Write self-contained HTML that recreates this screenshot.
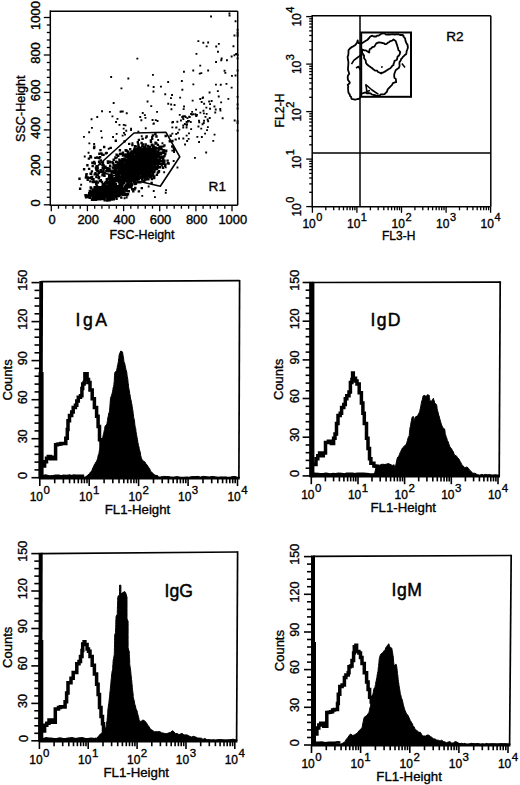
<!DOCTYPE html>
<html><head><meta charset="utf-8"><style>
html,body{margin:0;padding:0;background:#fff;}
svg{display:block;}
text{font-family:"Liberation Sans", sans-serif;fill:#000;stroke:#000;stroke-width:0.35px;}
</style></head><body>
<svg width="520" height="785" viewBox="0 0 520 785" stroke="#000" stroke-linecap="butt">
<rect width="520" height="785" fill="#fff" stroke="none"/>
<g font-family='"Liberation Sans", sans-serif' stroke="#000">
<path d="M104.3 193h2.4v2.4h-2.4zM104 190.4h2.4v2.4h-2.4zM98.6 191.9h2.4v2.4h-2.4zM115 190.5h2.4v2.4h-2.4zM114.3 190.1h2.4v2.4h-2.4zM109.2 190.9h2.4v2.4h-2.4zM93.5 196.4h2.4v2.4h-2.4zM110.3 191.7h2.4v2.4h-2.4zM91.6 188.4h2.4v2.4h-2.4zM98.7 191h2.4v2.4h-2.4zM108.4 190.3h2.4v2.4h-2.4zM109.6 188.1h2.4v2.4h-2.4zM108.7 191.7h2.4v2.4h-2.4zM102 197.5h2.4v2.4h-2.4zM111.2 193.8h2.4v2.4h-2.4zM100.7 189.7h2.4v2.4h-2.4zM103.2 191.2h2.4v2.4h-2.4zM111.1 190.7h2.4v2.4h-2.4zM101.9 188.7h2.4v2.4h-2.4zM102.7 195.7h2.4v2.4h-2.4zM99.8 193.1h2.4v2.4h-2.4zM108.3 185.6h2.4v2.4h-2.4zM107.2 195h2.4v2.4h-2.4zM90 193.3h2.4v2.4h-2.4zM104.6 188.6h2.4v2.4h-2.4zM109.9 190h2.4v2.4h-2.4zM95.1 196h2.4v2.4h-2.4zM111.9 192.8h2.4v2.4h-2.4zM117.5 189.7h2.4v2.4h-2.4zM106.1 186.7h2.4v2.4h-2.4zM110.4 188.1h2.4v2.4h-2.4zM101.6 187.8h2.4v2.4h-2.4zM98.1 190.9h2.4v2.4h-2.4zM114.7 182.5h2.4v2.4h-2.4zM94.8 194.2h2.4v2.4h-2.4zM117.7 190.4h2.4v2.4h-2.4zM89.5 186.3h2.4v2.4h-2.4zM108.3 188.1h2.4v2.4h-2.4zM97.9 195.9h2.4v2.4h-2.4zM114.7 189.7h2.4v2.4h-2.4zM108.2 192h2.4v2.4h-2.4zM118.9 190.3h2.4v2.4h-2.4zM110.4 191.9h2.4v2.4h-2.4zM94.6 197.6h2.4v2.4h-2.4zM113.8 191.1h2.4v2.4h-2.4zM90.1 192.3h2.4v2.4h-2.4zM111.4 183.9h2.4v2.4h-2.4zM105.2 194.5h2.4v2.4h-2.4zM96.8 198.2h2.4v2.4h-2.4zM110.2 189.6h2.4v2.4h-2.4zM109 192.5h2.4v2.4h-2.4zM107.7 194.4h2.4v2.4h-2.4zM100.5 190.8h2.4v2.4h-2.4zM114.2 189.4h2.4v2.4h-2.4zM99.7 195.4h2.4v2.4h-2.4zM117.2 187.2h2.4v2.4h-2.4zM95.1 192.9h2.4v2.4h-2.4zM104.6 190.3h2.4v2.4h-2.4zM116.3 185.4h2.4v2.4h-2.4zM115 184.9h2.4v2.4h-2.4zM100.3 194.3h2.4v2.4h-2.4zM115.4 191.8h2.4v2.4h-2.4zM108.8 190.9h2.4v2.4h-2.4zM107.6 192.5h2.4v2.4h-2.4zM104.8 192.2h2.4v2.4h-2.4zM110.5 190.1h2.4v2.4h-2.4zM112.4 191.5h2.4v2.4h-2.4zM121.9 188.7h2.4v2.4h-2.4zM102.4 190.5h2.4v2.4h-2.4zM106.5 193.9h2.4v2.4h-2.4zM103.6 192.8h2.4v2.4h-2.4zM118.7 179.9h2.4v2.4h-2.4zM97.4 193.6h2.4v2.4h-2.4zM109.3 191.1h2.4v2.4h-2.4zM103.1 193.8h2.4v2.4h-2.4zM107.9 188.9h2.4v2.4h-2.4zM125.3 188.1h2.4v2.4h-2.4zM101.6 191.6h2.4v2.4h-2.4zM104.2 191.2h2.4v2.4h-2.4zM84.3 194h2.4v2.4h-2.4zM113.1 185.7h2.4v2.4h-2.4zM106.1 194.1h2.4v2.4h-2.4zM113.7 194.2h2.4v2.4h-2.4zM92.5 192.7h2.4v2.4h-2.4zM103.7 193.5h2.4v2.4h-2.4zM112.8 180.8h2.4v2.4h-2.4zM113.6 184.7h2.4v2.4h-2.4zM110.4 185.2h2.4v2.4h-2.4zM108.2 194.4h2.4v2.4h-2.4zM105 191.8h2.4v2.4h-2.4zM112.3 190.1h2.4v2.4h-2.4zM106.3 195.9h2.4v2.4h-2.4zM114 188.3h2.4v2.4h-2.4zM126.7 182.8h2.4v2.4h-2.4zM113 188.6h2.4v2.4h-2.4zM107.5 193h2.4v2.4h-2.4zM108.2 192.6h2.4v2.4h-2.4zM93 188.8h2.4v2.4h-2.4zM110.2 187h2.4v2.4h-2.4zM97 188.1h2.4v2.4h-2.4zM116.4 191.2h2.4v2.4h-2.4zM116.9 185.6h2.4v2.4h-2.4zM105.2 187.4h2.4v2.4h-2.4zM113.1 194.7h2.4v2.4h-2.4zM100.1 197.4h2.4v2.4h-2.4zM113.6 188.8h2.4v2.4h-2.4zM91.5 198.7h2.4v2.4h-2.4zM104.8 189.3h2.4v2.4h-2.4zM109.4 191.6h2.4v2.4h-2.4zM117 185.3h2.4v2.4h-2.4zM115.9 193.8h2.4v2.4h-2.4zM117.2 188h2.4v2.4h-2.4zM100.9 195.4h2.4v2.4h-2.4zM107 191.2h2.4v2.4h-2.4zM117 187.8h2.4v2.4h-2.4zM87.8 193.6h2.4v2.4h-2.4zM92 196.6h2.4v2.4h-2.4zM108.1 188.6h2.4v2.4h-2.4zM106.5 193.6h2.4v2.4h-2.4zM107.5 195h2.4v2.4h-2.4zM106.2 194.4h2.4v2.4h-2.4zM118.7 193.6h2.4v2.4h-2.4zM101.3 194.9h2.4v2.4h-2.4zM90.6 190.7h2.4v2.4h-2.4zM91.4 197.6h2.4v2.4h-2.4zM96.4 193h2.4v2.4h-2.4zM104.5 191.2h2.4v2.4h-2.4zM101.5 192.7h2.4v2.4h-2.4zM120 188.2h2.4v2.4h-2.4zM110.8 193.2h2.4v2.4h-2.4zM103.6 187.4h2.4v2.4h-2.4zM102.4 195.3h2.4v2.4h-2.4zM92.7 191.9h2.4v2.4h-2.4zM114.4 191.8h2.4v2.4h-2.4zM106.6 193.5h2.4v2.4h-2.4zM106.5 187h2.4v2.4h-2.4zM93.3 191.6h2.4v2.4h-2.4zM112.8 187.7h2.4v2.4h-2.4zM98.4 190.1h2.4v2.4h-2.4zM93.9 193.2h2.4v2.4h-2.4zM97 194.1h2.4v2.4h-2.4zM87.7 196h2.4v2.4h-2.4zM99.7 186h2.4v2.4h-2.4zM111.5 188.9h2.4v2.4h-2.4zM88 192h2.4v2.4h-2.4zM108 189.1h2.4v2.4h-2.4zM112.6 192h2.4v2.4h-2.4zM111.4 190.9h2.4v2.4h-2.4zM116.9 190.8h2.4v2.4h-2.4zM108.1 183.7h2.4v2.4h-2.4zM113.9 193.6h2.4v2.4h-2.4zM103.4 190h2.4v2.4h-2.4zM120 182.3h2.4v2.4h-2.4zM111.3 197.8h2.4v2.4h-2.4zM99.2 194.7h2.4v2.4h-2.4zM120.7 187.5h2.4v2.4h-2.4zM111 192.9h2.4v2.4h-2.4zM98.9 192.2h2.4v2.4h-2.4zM108.8 193.1h2.4v2.4h-2.4zM105.6 190.4h2.4v2.4h-2.4zM97.8 191.6h2.4v2.4h-2.4zM113 189.8h2.4v2.4h-2.4zM98.8 189.8h2.4v2.4h-2.4zM127.6 190.1h2.4v2.4h-2.4zM109.3 181.8h2.4v2.4h-2.4zM111.2 191.5h2.4v2.4h-2.4zM119.5 189.5h2.4v2.4h-2.4zM105.8 192.7h2.4v2.4h-2.4zM91.5 197.5h2.4v2.4h-2.4zM108.1 188.3h2.4v2.4h-2.4zM117.6 194.5h2.4v2.4h-2.4zM94.6 191.2h2.4v2.4h-2.4zM108.4 191.1h2.4v2.4h-2.4zM102.2 188.6h2.4v2.4h-2.4zM123.3 190.7h2.4v2.4h-2.4zM95.8 188.8h2.4v2.4h-2.4zM120 191.3h2.4v2.4h-2.4zM120.8 190.5h2.4v2.4h-2.4zM99.3 193.3h2.4v2.4h-2.4zM88.6 192.3h2.4v2.4h-2.4zM105.9 192.7h2.4v2.4h-2.4zM100.2 191.8h2.4v2.4h-2.4zM109.8 191.4h2.4v2.4h-2.4zM111.1 190.6h2.4v2.4h-2.4zM104 194h2.4v2.4h-2.4zM105.8 188.3h2.4v2.4h-2.4zM101.1 192h2.4v2.4h-2.4zM105.2 191.7h2.4v2.4h-2.4zM106.1 191.6h2.4v2.4h-2.4zM104.1 187.3h2.4v2.4h-2.4zM110 193.6h2.4v2.4h-2.4zM109.3 189.7h2.4v2.4h-2.4zM108.9 187.2h2.4v2.4h-2.4zM91.2 194.3h2.4v2.4h-2.4zM99.2 194.9h2.4v2.4h-2.4zM95.8 184.6h2.4v2.4h-2.4zM98.9 197.7h2.4v2.4h-2.4zM102.1 187.3h2.4v2.4h-2.4zM100.4 193.9h2.4v2.4h-2.4zM110 190.7h2.4v2.4h-2.4zM118.1 190.7h2.4v2.4h-2.4zM106.2 192.9h2.4v2.4h-2.4zM119.6 191.3h2.4v2.4h-2.4zM113.3 185.9h2.4v2.4h-2.4zM105.3 193.5h2.4v2.4h-2.4zM104.4 194.8h2.4v2.4h-2.4zM111.3 192.9h2.4v2.4h-2.4zM106 199.3h2.4v2.4h-2.4zM115.6 188.3h2.4v2.4h-2.4zM108.4 199h2.4v2.4h-2.4zM103.9 194.3h2.4v2.4h-2.4zM113.7 189.4h2.4v2.4h-2.4zM97 193.5h2.4v2.4h-2.4zM109.6 193.9h2.4v2.4h-2.4zM112.1 189.8h2.4v2.4h-2.4zM113 191.3h2.4v2.4h-2.4zM107.6 190.8h2.4v2.4h-2.4zM104.6 193.6h2.4v2.4h-2.4zM97.3 190.8h2.4v2.4h-2.4zM105.1 186.4h2.4v2.4h-2.4zM101.3 185.4h2.4v2.4h-2.4zM101 193.9h2.4v2.4h-2.4zM110.4 189.9h2.4v2.4h-2.4zM103.2 187h2.4v2.4h-2.4zM120.6 189.6h2.4v2.4h-2.4zM114 186.4h2.4v2.4h-2.4zM103.3 185.6h2.4v2.4h-2.4zM112.7 192.6h2.4v2.4h-2.4zM91.1 194h2.4v2.4h-2.4zM109.8 184.4h2.4v2.4h-2.4zM91 190.7h2.4v2.4h-2.4zM100.1 187.7h2.4v2.4h-2.4zM106.4 191.7h2.4v2.4h-2.4zM111.4 192.1h2.4v2.4h-2.4zM118.5 192.1h2.4v2.4h-2.4zM95.4 191.6h2.4v2.4h-2.4zM97 189.4h2.4v2.4h-2.4zM105.4 191.2h2.4v2.4h-2.4zM108.8 185.2h2.4v2.4h-2.4zM96.3 193h2.4v2.4h-2.4zM104.2 190.4h2.4v2.4h-2.4zM105 188.7h2.4v2.4h-2.4zM111.7 190.9h2.4v2.4h-2.4zM104.9 189h2.4v2.4h-2.4zM102.8 182.8h2.4v2.4h-2.4zM98.3 192.7h2.4v2.4h-2.4zM94.4 194.1h2.4v2.4h-2.4zM106.2 186.4h2.4v2.4h-2.4zM103.8 190.4h2.4v2.4h-2.4zM110 192.2h2.4v2.4h-2.4zM105.1 188.4h2.4v2.4h-2.4zM104.8 191h2.4v2.4h-2.4zM111.9 190.7h2.4v2.4h-2.4zM99.4 188h2.4v2.4h-2.4zM102.6 189.3h2.4v2.4h-2.4zM97.2 192.5h2.4v2.4h-2.4zM102.2 192.1h2.4v2.4h-2.4zM109.8 188.8h2.4v2.4h-2.4zM124 186.1h2.4v2.4h-2.4zM114.7 189.5h2.4v2.4h-2.4zM113.2 181.7h2.4v2.4h-2.4zM100.3 193h2.4v2.4h-2.4zM112.3 197.3h2.4v2.4h-2.4zM109.4 194.5h2.4v2.4h-2.4zM112.6 192.7h2.4v2.4h-2.4zM109.9 189.7h2.4v2.4h-2.4zM109.3 186.8h2.4v2.4h-2.4zM114.6 185.9h2.4v2.4h-2.4zM109.4 197.2h2.4v2.4h-2.4zM104.3 191.4h2.4v2.4h-2.4zM115.1 189.1h2.4v2.4h-2.4zM99.9 193.2h2.4v2.4h-2.4zM111 192.3h2.4v2.4h-2.4zM101.1 197.8h2.4v2.4h-2.4zM119.1 188.3h2.4v2.4h-2.4zM107.8 189.2h2.4v2.4h-2.4zM116.6 186.4h2.4v2.4h-2.4zM111 188.4h2.4v2.4h-2.4zM101 194.4h2.4v2.4h-2.4zM116.4 188.7h2.4v2.4h-2.4zM101.2 194.7h2.4v2.4h-2.4zM105.8 192.1h2.4v2.4h-2.4zM118.7 192h2.4v2.4h-2.4zM103.5 199h2.4v2.4h-2.4zM106.5 193.5h2.4v2.4h-2.4zM100.9 191.9h2.4v2.4h-2.4zM115.9 184.9h2.4v2.4h-2.4zM93.1 188.4h2.4v2.4h-2.4zM114.9 187.6h2.4v2.4h-2.4zM105.3 190.1h2.4v2.4h-2.4zM104.3 187.8h2.4v2.4h-2.4zM105.2 186.5h2.4v2.4h-2.4zM105.6 192.1h2.4v2.4h-2.4zM109.5 189.5h2.4v2.4h-2.4zM99 193h2.4v2.4h-2.4zM103.2 196.7h2.4v2.4h-2.4zM111.9 189.4h2.4v2.4h-2.4zM101.8 189.6h2.4v2.4h-2.4zM98.4 191.5h2.4v2.4h-2.4zM108.6 192.1h2.4v2.4h-2.4zM111.8 196.6h2.4v2.4h-2.4zM100.5 192.2h2.4v2.4h-2.4zM126.6 180.5h2.4v2.4h-2.4zM102 192.4h2.4v2.4h-2.4zM107.5 192h2.4v2.4h-2.4zM104.4 192.5h2.4v2.4h-2.4zM106.9 193.3h2.4v2.4h-2.4zM90.6 191.4h2.4v2.4h-2.4zM105.3 187.8h2.4v2.4h-2.4zM98.2 194.7h2.4v2.4h-2.4zM101.3 194.1h2.4v2.4h-2.4zM112 190.7h2.4v2.4h-2.4zM109.9 189.8h2.4v2.4h-2.4zM95 193.2h2.4v2.4h-2.4zM109.2 188.6h2.4v2.4h-2.4zM105.7 193.5h2.4v2.4h-2.4zM99.6 194.5h2.4v2.4h-2.4zM120.2 186.2h2.4v2.4h-2.4zM107 190.3h2.4v2.4h-2.4zM118.3 189.4h2.4v2.4h-2.4zM112.6 187.3h2.4v2.4h-2.4zM105.9 191h2.4v2.4h-2.4zM93.1 198.5h2.4v2.4h-2.4zM111.9 184h2.4v2.4h-2.4zM111.7 189.4h2.4v2.4h-2.4zM109.8 191.4h2.4v2.4h-2.4zM94.1 192.8h2.4v2.4h-2.4zM117.3 186.7h2.4v2.4h-2.4zM97.1 188.4h2.4v2.4h-2.4zM96.7 194.1h2.4v2.4h-2.4zM119.5 189.5h2.4v2.4h-2.4zM109.4 197.6h2.4v2.4h-2.4zM101.5 189.8h2.4v2.4h-2.4zM110.5 191.8h2.4v2.4h-2.4zM97.3 189h2.4v2.4h-2.4zM108.4 191.3h2.4v2.4h-2.4zM95.6 192.5h2.4v2.4h-2.4zM102.1 193.3h2.4v2.4h-2.4zM105 190.9h2.4v2.4h-2.4zM103.9 194.9h2.4v2.4h-2.4zM116.6 187.5h2.4v2.4h-2.4zM112.1 187.2h2.4v2.4h-2.4zM107.1 193.2h2.4v2.4h-2.4zM117.6 187.3h2.4v2.4h-2.4zM105.6 191.7h2.4v2.4h-2.4zM94.3 193.5h2.4v2.4h-2.4zM101 193.3h2.4v2.4h-2.4zM95.8 186.7h2.4v2.4h-2.4zM106.5 191.8h2.4v2.4h-2.4zM102.3 194.7h2.4v2.4h-2.4zM103.5 189.6h2.4v2.4h-2.4zM108.7 185.3h2.4v2.4h-2.4zM100.7 192.1h2.4v2.4h-2.4zM112.5 189.1h2.4v2.4h-2.4zM108 188.4h2.4v2.4h-2.4zM109.5 195.7h2.4v2.4h-2.4zM101 192.1h2.4v2.4h-2.4zM108 193.9h2.4v2.4h-2.4zM94.9 186.5h2.4v2.4h-2.4zM111.3 192.5h2.4v2.4h-2.4zM112.6 198.2h2.4v2.4h-2.4zM107.8 191.5h2.4v2.4h-2.4zM113.5 190.6h2.4v2.4h-2.4zM118.2 184.4h2.4v2.4h-2.4zM100.8 180.8h2.4v2.4h-2.4zM112.1 188.5h2.4v2.4h-2.4zM114.7 196.2h2.4v2.4h-2.4zM105.8 190.2h2.4v2.4h-2.4zM101.5 189.2h2.4v2.4h-2.4zM101.5 194h2.4v2.4h-2.4zM106.3 191.1h2.4v2.4h-2.4zM105.3 194.2h2.4v2.4h-2.4zM109.8 189.7h2.4v2.4h-2.4zM111.1 189.4h2.4v2.4h-2.4zM97.9 197.5h2.4v2.4h-2.4zM109 187.2h2.4v2.4h-2.4zM114.7 190.3h2.4v2.4h-2.4zM94.8 198.6h2.4v2.4h-2.4zM109.2 193.2h2.4v2.4h-2.4zM107.4 190.2h2.4v2.4h-2.4zM94.5 196.6h2.4v2.4h-2.4zM106 190.1h2.4v2.4h-2.4zM108.8 190.7h2.4v2.4h-2.4zM111 188.7h2.4v2.4h-2.4zM104.3 184.4h2.4v2.4h-2.4zM103.1 193.8h2.4v2.4h-2.4zM116.2 187.6h2.4v2.4h-2.4zM106.1 196.2h2.4v2.4h-2.4zM103.9 193.8h2.4v2.4h-2.4zM119.2 188.3h2.4v2.4h-2.4zM115.1 186.7h2.4v2.4h-2.4zM107.6 190.4h2.4v2.4h-2.4zM107.7 194.3h2.4v2.4h-2.4zM124.3 184.9h2.4v2.4h-2.4zM101.8 193.5h2.4v2.4h-2.4zM98.1 194.3h2.4v2.4h-2.4zM110.3 189.2h2.4v2.4h-2.4zM109.1 185.3h2.4v2.4h-2.4zM110.9 184.9h2.4v2.4h-2.4zM100.2 190.4h2.4v2.4h-2.4zM103.4 194.4h2.4v2.4h-2.4zM106.4 189.6h2.4v2.4h-2.4zM111.3 195h2.4v2.4h-2.4zM106.3 192.1h2.4v2.4h-2.4zM115.9 189.8h2.4v2.4h-2.4zM122 181.1h2.4v2.4h-2.4zM106 192.4h2.4v2.4h-2.4zM114 191.5h2.4v2.4h-2.4zM103.2 188.2h2.4v2.4h-2.4zM107.5 194.1h2.4v2.4h-2.4zM96.8 189.6h2.4v2.4h-2.4zM104.5 185h2.4v2.4h-2.4zM103.7 190.1h2.4v2.4h-2.4zM109.1 188.1h2.4v2.4h-2.4zM98.8 191.2h2.4v2.4h-2.4zM105.2 189h2.4v2.4h-2.4zM106.6 193.3h2.4v2.4h-2.4zM116.4 194.4h2.4v2.4h-2.4zM99.6 191h2.4v2.4h-2.4zM100.3 192.1h2.4v2.4h-2.4zM109.2 185.9h2.4v2.4h-2.4zM109.6 190.1h2.4v2.4h-2.4zM91.9 195h2.4v2.4h-2.4zM114.1 183.2h2.4v2.4h-2.4zM112.5 190.3h2.4v2.4h-2.4zM110 191.6h2.4v2.4h-2.4zM116.1 188.1h2.4v2.4h-2.4zM112.6 188.3h2.4v2.4h-2.4zM111.2 187.2h2.4v2.4h-2.4zM106.3 196.6h2.4v2.4h-2.4zM109.4 189.8h2.4v2.4h-2.4zM96.5 190.4h2.4v2.4h-2.4zM108.1 193.6h2.4v2.4h-2.4zM109.7 191.9h2.4v2.4h-2.4zM106.6 195.3h2.4v2.4h-2.4zM102.6 189.9h2.4v2.4h-2.4zM113 189.7h2.4v2.4h-2.4zM103.4 189.7h2.4v2.4h-2.4zM104.4 193.4h2.4v2.4h-2.4zM108 186.6h2.4v2.4h-2.4zM109.5 190.9h2.4v2.4h-2.4zM98.7 195.1h2.4v2.4h-2.4zM103.6 190.4h2.4v2.4h-2.4zM113.1 193.8h2.4v2.4h-2.4zM100.9 193.5h2.4v2.4h-2.4zM102.9 195.6h2.4v2.4h-2.4zM101.5 194.6h2.4v2.4h-2.4zM121.7 179.4h2.4v2.4h-2.4zM102.9 193.3h2.4v2.4h-2.4zM104.8 189.1h2.4v2.4h-2.4zM122.9 187.7h2.4v2.4h-2.4zM93.7 196.4h2.4v2.4h-2.4zM93.3 197.5h2.4v2.4h-2.4zM101.6 192.4h2.4v2.4h-2.4zM115.9 189.3h2.4v2.4h-2.4zM94 188h2.4v2.4h-2.4zM115.7 191.4h2.4v2.4h-2.4zM100.2 195h2.4v2.4h-2.4zM110.3 192.2h2.4v2.4h-2.4zM88.1 193.8h2.4v2.4h-2.4zM113.5 191.8h2.4v2.4h-2.4zM111.3 181.8h2.4v2.4h-2.4zM107.7 192.3h2.4v2.4h-2.4zM125.3 183.8h2.4v2.4h-2.4zM103.4 191.7h2.4v2.4h-2.4zM112.6 188.1h2.4v2.4h-2.4zM114.5 186.6h2.4v2.4h-2.4zM107.7 188.9h2.4v2.4h-2.4zM106.8 188.6h2.4v2.4h-2.4zM94.2 197.1h2.4v2.4h-2.4zM108 188.7h2.4v2.4h-2.4zM108.2 193.8h2.4v2.4h-2.4zM98.3 192.3h2.4v2.4h-2.4zM110.6 191.8h2.4v2.4h-2.4zM102 185h2.4v2.4h-2.4zM115.9 190h2.4v2.4h-2.4zM105.9 190.1h2.4v2.4h-2.4zM107.8 189.2h2.4v2.4h-2.4zM97.5 190.4h2.4v2.4h-2.4zM100.9 190.1h2.4v2.4h-2.4zM97.4 194.9h2.4v2.4h-2.4zM96.2 195.2h2.4v2.4h-2.4zM98.3 193.8h2.4v2.4h-2.4zM116.9 189.4h2.4v2.4h-2.4zM100.3 192.4h2.4v2.4h-2.4zM106 185.3h2.4v2.4h-2.4zM101.4 192.5h2.4v2.4h-2.4zM102.4 192h2.4v2.4h-2.4zM112.3 192.2h2.4v2.4h-2.4zM113.5 191.3h2.4v2.4h-2.4zM103.7 191.4h2.4v2.4h-2.4zM103.7 190.5h2.4v2.4h-2.4zM103.4 185.9h2.4v2.4h-2.4zM103.4 191.5h2.4v2.4h-2.4zM98.4 192.5h2.4v2.4h-2.4zM109.9 189.6h2.4v2.4h-2.4zM120.5 179.4h2.4v2.4h-2.4zM103.2 185.6h2.4v2.4h-2.4zM115.4 197.7h2.4v2.4h-2.4zM86.5 195.6h2.4v2.4h-2.4zM109.9 189.2h2.4v2.4h-2.4zM108.8 183.1h2.4v2.4h-2.4zM112.9 190.7h2.4v2.4h-2.4zM105.8 189.1h2.4v2.4h-2.4zM110.7 188.4h2.4v2.4h-2.4zM107.4 189h2.4v2.4h-2.4zM88.4 194.6h2.4v2.4h-2.4zM108.1 193h2.4v2.4h-2.4zM99.1 192.4h2.4v2.4h-2.4zM110.9 190.4h2.4v2.4h-2.4zM117 195.2h2.4v2.4h-2.4zM97.6 186.5h2.4v2.4h-2.4zM113.7 194.4h2.4v2.4h-2.4zM113.8 192h2.4v2.4h-2.4zM100.7 189.8h2.4v2.4h-2.4zM112.3 186.7h2.4v2.4h-2.4zM91.1 190.9h2.4v2.4h-2.4zM126.8 192.9h2.4v2.4h-2.4zM100.1 189.9h2.4v2.4h-2.4zM107.3 188.3h2.4v2.4h-2.4zM116.2 188.6h2.4v2.4h-2.4zM98.4 196.9h2.4v2.4h-2.4zM101.6 192.7h2.4v2.4h-2.4zM105.7 190h2.4v2.4h-2.4zM108.1 188.3h2.4v2.4h-2.4zM90.1 187.2h2.4v2.4h-2.4zM95.6 190.7h2.4v2.4h-2.4zM105.9 191.2h2.4v2.4h-2.4zM110.4 190.5h2.4v2.4h-2.4zM99.3 190.1h2.4v2.4h-2.4zM89.3 194h2.4v2.4h-2.4zM110.1 191.9h2.4v2.4h-2.4zM104.9 190.7h2.4v2.4h-2.4zM113.3 189.5h2.4v2.4h-2.4zM112.2 191.6h2.4v2.4h-2.4zM108.5 194.7h2.4v2.4h-2.4zM101.3 190.8h2.4v2.4h-2.4zM99.1 189.8h2.4v2.4h-2.4zM119.3 193.9h2.4v2.4h-2.4zM106.6 192.7h2.4v2.4h-2.4zM115.7 191.6h2.4v2.4h-2.4zM114.6 185h2.4v2.4h-2.4zM101.3 193.5h2.4v2.4h-2.4zM117.3 188.9h2.4v2.4h-2.4zM99 191.3h2.4v2.4h-2.4zM100.3 189.4h2.4v2.4h-2.4zM117.3 186.5h2.4v2.4h-2.4zM107.6 197.7h2.4v2.4h-2.4zM115.5 190.1h2.4v2.4h-2.4zM101.5 193.3h2.4v2.4h-2.4zM119.1 190.3h2.4v2.4h-2.4zM115.9 189.2h2.4v2.4h-2.4zM109.9 189.5h2.4v2.4h-2.4zM110.2 194.4h2.4v2.4h-2.4zM94.8 193.2h2.4v2.4h-2.4zM107.5 188.8h2.4v2.4h-2.4zM104.1 194h2.4v2.4h-2.4zM122.1 189.6h2.4v2.4h-2.4zM107.5 185.6h2.4v2.4h-2.4zM121.1 188h2.4v2.4h-2.4zM105 187.6h2.4v2.4h-2.4zM104.8 187.7h2.4v2.4h-2.4zM106.9 192.3h2.4v2.4h-2.4zM106.4 191.8h2.4v2.4h-2.4zM100.3 196.9h2.4v2.4h-2.4zM99.7 186.4h2.4v2.4h-2.4zM104 188.9h2.4v2.4h-2.4zM97.9 191.6h2.4v2.4h-2.4zM107.5 186.8h2.4v2.4h-2.4zM105.9 195.7h2.4v2.4h-2.4zM111.2 189.4h2.4v2.4h-2.4zM106.9 190.4h2.4v2.4h-2.4zM106.1 193.4h2.4v2.4h-2.4zM103.7 183.6h2.4v2.4h-2.4zM105.2 188.3h2.4v2.4h-2.4zM110.7 188h2.4v2.4h-2.4zM108.6 197.6h2.4v2.4h-2.4zM97.1 189.2h2.4v2.4h-2.4zM93.4 185.9h2.4v2.4h-2.4zM91.5 195.3h2.4v2.4h-2.4zM99.8 186.2h2.4v2.4h-2.4zM94.8 195.4h2.4v2.4h-2.4zM99.7 191.1h2.4v2.4h-2.4zM109.5 194.7h2.4v2.4h-2.4zM121.9 191h2.4v2.4h-2.4zM107.2 191.3h2.4v2.4h-2.4zM121.1 192.5h2.4v2.4h-2.4zM103.9 192.9h2.4v2.4h-2.4zM108.3 190.7h2.4v2.4h-2.4zM101.2 187.7h2.4v2.4h-2.4zM100.8 187.1h2.4v2.4h-2.4zM115.9 190.6h2.4v2.4h-2.4zM97.5 197.4h2.4v2.4h-2.4zM111.7 183.5h2.4v2.4h-2.4zM120.9 190.5h2.4v2.4h-2.4zM121.3 183.7h2.4v2.4h-2.4zM110.4 191.4h2.4v2.4h-2.4zM107.7 191.2h2.4v2.4h-2.4zM113.2 184.6h2.4v2.4h-2.4zM95.4 188.7h2.4v2.4h-2.4zM101.2 190h2.4v2.4h-2.4zM109.1 191.2h2.4v2.4h-2.4zM105.8 188.8h2.4v2.4h-2.4zM103.2 194.7h2.4v2.4h-2.4zM112 190h2.4v2.4h-2.4zM104.5 196.4h2.4v2.4h-2.4zM101.8 194h2.4v2.4h-2.4zM114.9 188.3h2.4v2.4h-2.4zM111.7 186.1h2.4v2.4h-2.4zM114.1 189.9h2.4v2.4h-2.4zM94 195.7h2.4v2.4h-2.4zM99.9 196.5h2.4v2.4h-2.4zM100.6 191.6h2.4v2.4h-2.4zM108 189.5h2.4v2.4h-2.4zM107.7 188.8h2.4v2.4h-2.4zM111.3 189.9h2.4v2.4h-2.4zM105.8 182h2.4v2.4h-2.4zM115.1 189.2h2.4v2.4h-2.4zM92.1 194.3h2.4v2.4h-2.4zM110.4 193.6h2.4v2.4h-2.4zM98.6 197.6h2.4v2.4h-2.4zM106.3 198.8h2.4v2.4h-2.4zM105.3 193.4h2.4v2.4h-2.4zM102.4 188.1h2.4v2.4h-2.4zM115.2 192h2.4v2.4h-2.4zM118.6 191.1h2.4v2.4h-2.4zM100.4 186.7h2.4v2.4h-2.4zM100.5 190h2.4v2.4h-2.4zM100 194.2h2.4v2.4h-2.4zM108.4 189.6h2.4v2.4h-2.4zM107.3 190.3h2.4v2.4h-2.4zM108.2 193h2.4v2.4h-2.4zM113.1 187.3h2.4v2.4h-2.4zM95.2 198h2.4v2.4h-2.4zM107.6 194.3h2.4v2.4h-2.4zM92.9 192.7h2.4v2.4h-2.4zM105.3 186.4h2.4v2.4h-2.4zM102.4 194.1h2.4v2.4h-2.4zM115.5 194.2h2.4v2.4h-2.4zM98.3 188.1h2.4v2.4h-2.4zM110.7 193.1h2.4v2.4h-2.4zM106.6 186.6h2.4v2.4h-2.4zM112.6 192.2h2.4v2.4h-2.4zM110 188.6h2.4v2.4h-2.4zM108.9 193h2.4v2.4h-2.4zM100.4 186.2h2.4v2.4h-2.4zM108.9 192h2.4v2.4h-2.4zM106.7 193.8h2.4v2.4h-2.4zM101.4 191.7h2.4v2.4h-2.4zM104 193.3h2.4v2.4h-2.4zM118.3 187.6h2.4v2.4h-2.4zM123.1 192.4h2.4v2.4h-2.4zM112.6 191.5h2.4v2.4h-2.4zM119.7 187.5h2.4v2.4h-2.4zM104.4 187.9h2.4v2.4h-2.4zM110.6 194.4h2.4v2.4h-2.4zM110.4 191.4h2.4v2.4h-2.4zM104.5 191.9h2.4v2.4h-2.4zM95.5 196.7h2.4v2.4h-2.4zM102.1 188.2h2.4v2.4h-2.4zM99.6 189.7h2.4v2.4h-2.4zM113.4 192.9h2.4v2.4h-2.4zM96 196.2h2.4v2.4h-2.4zM112.6 187.7h2.4v2.4h-2.4zM93.9 191.1h2.4v2.4h-2.4zM101.3 193.1h2.4v2.4h-2.4zM101.9 185.2h2.4v2.4h-2.4zM106.8 185.8h2.4v2.4h-2.4zM112.3 185.7h2.4v2.4h-2.4zM100 189.5h2.4v2.4h-2.4zM102.6 196h2.4v2.4h-2.4zM113.1 191.5h2.4v2.4h-2.4zM107.5 185.6h2.4v2.4h-2.4zM101.6 190.1h2.4v2.4h-2.4zM98.7 194.2h2.4v2.4h-2.4zM99.7 190h2.4v2.4h-2.4zM96.5 186.3h2.4v2.4h-2.4zM111.5 194.2h2.4v2.4h-2.4zM106.7 187.7h2.4v2.4h-2.4zM84.9 196h2.4v2.4h-2.4zM115.7 189.9h2.4v2.4h-2.4zM114.2 194.1h2.4v2.4h-2.4zM114.5 187.7h2.4v2.4h-2.4zM114.8 191.7h2.4v2.4h-2.4zM93.7 192.3h2.4v2.4h-2.4zM94.8 193h2.4v2.4h-2.4zM109.8 186.7h2.4v2.4h-2.4zM90.8 198.5h2.4v2.4h-2.4zM109.9 195h2.4v2.4h-2.4zM96.3 196.5h2.4v2.4h-2.4zM123.6 193.8h2.4v2.4h-2.4zM104.5 192.2h2.4v2.4h-2.4zM105.5 194.4h2.4v2.4h-2.4zM114.2 189.5h2.4v2.4h-2.4zM95.9 195.6h2.4v2.4h-2.4zM102.7 193.7h2.4v2.4h-2.4zM109.1 195.6h2.4v2.4h-2.4zM114.6 187.7h2.4v2.4h-2.4zM109.9 195.9h2.4v2.4h-2.4zM102.1 193.3h2.4v2.4h-2.4zM116.2 193h2.4v2.4h-2.4zM109.2 186h2.4v2.4h-2.4zM96.3 193.9h2.4v2.4h-2.4zM110.7 198.3h2.4v2.4h-2.4zM100 196h2.4v2.4h-2.4zM110.9 184.5h2.4v2.4h-2.4zM99.7 192.9h2.4v2.4h-2.4zM102 191.3h2.4v2.4h-2.4zM109.1 187.7h2.4v2.4h-2.4zM109.2 188.2h2.4v2.4h-2.4zM102.1 193.6h2.4v2.4h-2.4zM101.7 192.9h2.4v2.4h-2.4zM118.5 188.4h2.4v2.4h-2.4zM105.3 193.5h2.4v2.4h-2.4zM103.9 195h2.4v2.4h-2.4zM96.4 195.1h2.4v2.4h-2.4zM101.5 189.4h2.4v2.4h-2.4zM119.3 185.4h2.4v2.4h-2.4zM120.2 190.1h2.4v2.4h-2.4zM116.7 185.5h2.4v2.4h-2.4zM116.4 193.6h2.4v2.4h-2.4zM105 190.8h2.4v2.4h-2.4zM125.3 187.5h2.4v2.4h-2.4zM102.3 189.7h2.4v2.4h-2.4zM109.7 191.3h2.4v2.4h-2.4zM108.5 196.1h2.4v2.4h-2.4zM103.7 193h2.4v2.4h-2.4zM116.8 185.4h2.4v2.4h-2.4zM115.3 195h2.4v2.4h-2.4zM94.7 189.8h2.4v2.4h-2.4zM96.6 186.9h2.4v2.4h-2.4zM108.3 184.4h2.4v2.4h-2.4zM110.9 194.7h2.4v2.4h-2.4zM93.2 192.7h2.4v2.4h-2.4zM91.5 196.6h2.4v2.4h-2.4zM100.1 191.4h2.4v2.4h-2.4zM106.8 192.6h2.4v2.4h-2.4zM103.3 191.6h2.4v2.4h-2.4zM101.8 192.3h2.4v2.4h-2.4zM96.9 193.1h2.4v2.4h-2.4zM90.6 192.7h2.4v2.4h-2.4zM121 188.1h2.4v2.4h-2.4zM96.3 193.9h2.4v2.4h-2.4zM97.3 187.4h2.4v2.4h-2.4zM100.7 194.5h2.4v2.4h-2.4zM108.9 190.1h2.4v2.4h-2.4zM98 189.2h2.4v2.4h-2.4zM116.7 189.5h2.4v2.4h-2.4zM97.1 186h2.4v2.4h-2.4zM97 192.7h2.4v2.4h-2.4zM107.5 190.2h2.4v2.4h-2.4zM102.9 187.2h2.4v2.4h-2.4zM98.9 198h2.4v2.4h-2.4zM100.6 194.9h2.4v2.4h-2.4zM92.6 193h2.4v2.4h-2.4zM108.7 193.8h2.4v2.4h-2.4zM97.6 194.7h2.4v2.4h-2.4zM108.5 188h2.4v2.4h-2.4zM109.1 187.4h2.4v2.4h-2.4zM99.8 192.3h2.4v2.4h-2.4zM84.7 195.2h2.4v2.4h-2.4zM97.2 188.1h2.4v2.4h-2.4zM103.2 194.1h2.4v2.4h-2.4zM103.7 195.6h2.4v2.4h-2.4zM96.1 188.8h2.4v2.4h-2.4zM118.4 189.7h2.4v2.4h-2.4zM112.8 186.8h2.4v2.4h-2.4zM112.5 190.5h2.4v2.4h-2.4zM111.1 190h2.4v2.4h-2.4zM115 187h2.4v2.4h-2.4zM97.5 188h2.4v2.4h-2.4zM114.6 186.8h2.4v2.4h-2.4zM97.2 189.8h2.4v2.4h-2.4zM101.7 187.8h2.4v2.4h-2.4zM103.3 189.5h2.4v2.4h-2.4zM101 188.9h2.4v2.4h-2.4zM106 189.5h2.4v2.4h-2.4zM107.1 191.6h2.4v2.4h-2.4zM107.2 183.6h2.4v2.4h-2.4zM101.3 189.4h2.4v2.4h-2.4zM111 184.8h2.4v2.4h-2.4zM100.2 191.3h2.4v2.4h-2.4zM104 194.7h2.4v2.4h-2.4zM103.2 194.8h2.4v2.4h-2.4zM93.3 187.8h2.4v2.4h-2.4zM115.8 190.3h2.4v2.4h-2.4zM109.9 190.6h2.4v2.4h-2.4zM109 186.4h2.4v2.4h-2.4zM113.1 187.8h2.4v2.4h-2.4zM113.8 189.6h2.4v2.4h-2.4zM89.7 190.3h2.4v2.4h-2.4zM114.7 188.7h2.4v2.4h-2.4zM103.1 192.4h2.4v2.4h-2.4zM102.3 190h2.4v2.4h-2.4zM106.9 191.3h2.4v2.4h-2.4zM117.9 188.6h2.4v2.4h-2.4zM121.9 193.5h2.4v2.4h-2.4zM120.1 191.5h2.4v2.4h-2.4zM107.1 191.2h2.4v2.4h-2.4zM104.4 188.9h2.4v2.4h-2.4zM105.1 189.1h2.4v2.4h-2.4zM119.2 189.9h2.4v2.4h-2.4zM101.2 185.7h2.4v2.4h-2.4zM105.3 189.8h2.4v2.4h-2.4zM96.7 189.2h2.4v2.4h-2.4zM88.8 196.5h2.4v2.4h-2.4zM107.2 199.2h2.4v2.4h-2.4zM105.7 190.6h2.4v2.4h-2.4zM117.4 189h2.4v2.4h-2.4zM107.1 189.6h2.4v2.4h-2.4zM102.3 196.7h2.4v2.4h-2.4zM115 194.7h2.4v2.4h-2.4zM103.3 191.7h2.4v2.4h-2.4zM99.8 195.5h2.4v2.4h-2.4zM95.5 195.1h2.4v2.4h-2.4zM115.5 193.6h2.4v2.4h-2.4zM99.4 196h2.4v2.4h-2.4zM99.9 189.8h2.4v2.4h-2.4zM96.4 196.8h2.4v2.4h-2.4zM118.5 186.4h2.4v2.4h-2.4zM99.8 191.2h2.4v2.4h-2.4zM126.3 190h2.4v2.4h-2.4zM100.6 186.3h2.4v2.4h-2.4zM101.5 195.8h2.4v2.4h-2.4zM120.4 187.1h2.4v2.4h-2.4zM100.3 190.6h2.4v2.4h-2.4zM91.8 197h2.4v2.4h-2.4zM98.2 196.1h2.4v2.4h-2.4zM91.8 189.9h2.4v2.4h-2.4zM107.7 188.1h2.4v2.4h-2.4zM112.1 189.7h2.4v2.4h-2.4zM97.2 194.9h2.4v2.4h-2.4zM111.3 183.6h2.4v2.4h-2.4zM120.6 189.5h2.4v2.4h-2.4zM110.7 183.9h2.4v2.4h-2.4zM100.1 191.1h2.4v2.4h-2.4zM113.5 184.6h2.4v2.4h-2.4zM97.7 186.1h2.4v2.4h-2.4zM104.3 192.5h2.4v2.4h-2.4zM92.4 192h2.4v2.4h-2.4zM111 195.1h2.4v2.4h-2.4zM111 188.9h2.4v2.4h-2.4zM96.2 190h2.4v2.4h-2.4zM100.9 192.6h2.4v2.4h-2.4zM142.7 175.2h2.4v2.4h-2.4zM136.2 155.2h2.4v2.4h-2.4zM157.9 160.1h2.4v2.4h-2.4zM135.4 158.7h2.4v2.4h-2.4zM112.1 169.5h2.4v2.4h-2.4zM144.3 152.9h2.4v2.4h-2.4zM122.9 173.8h2.4v2.4h-2.4zM142 166.4h2.4v2.4h-2.4zM149.7 168.9h2.4v2.4h-2.4zM131.2 175.8h2.4v2.4h-2.4zM128.5 174.9h2.4v2.4h-2.4zM139.9 164.4h2.4v2.4h-2.4zM147.8 157.6h2.4v2.4h-2.4zM152.8 162.5h2.4v2.4h-2.4zM136.4 159.4h2.4v2.4h-2.4zM126.5 165.5h2.4v2.4h-2.4zM134.6 165.2h2.4v2.4h-2.4zM173 148.8h2.4v2.4h-2.4zM142.4 153.4h2.4v2.4h-2.4zM127.8 166.5h2.4v2.4h-2.4zM135.3 156h2.4v2.4h-2.4zM153 149.9h2.4v2.4h-2.4zM140.4 141.8h2.4v2.4h-2.4zM138 165.8h2.4v2.4h-2.4zM141.4 166.7h2.4v2.4h-2.4zM140.8 163.2h2.4v2.4h-2.4zM113 171.7h2.4v2.4h-2.4zM113 183.3h2.4v2.4h-2.4zM139.7 160.7h2.4v2.4h-2.4zM125.6 165.6h2.4v2.4h-2.4zM164.3 163.2h2.4v2.4h-2.4zM141.2 172.7h2.4v2.4h-2.4zM111.9 161.8h2.4v2.4h-2.4zM128.3 161.5h2.4v2.4h-2.4zM131.4 168.9h2.4v2.4h-2.4zM168.6 140h2.4v2.4h-2.4zM138.6 165.5h2.4v2.4h-2.4zM140.1 170.3h2.4v2.4h-2.4zM152.3 144.4h2.4v2.4h-2.4zM137.8 161.2h2.4v2.4h-2.4zM135.3 151.7h2.4v2.4h-2.4zM108.5 160.4h2.4v2.4h-2.4zM143.6 161.8h2.4v2.4h-2.4zM129 148.1h2.4v2.4h-2.4zM130 161.5h2.4v2.4h-2.4zM117.7 167.2h2.4v2.4h-2.4zM146.9 163h2.4v2.4h-2.4zM138.7 167.5h2.4v2.4h-2.4zM130.5 168.4h2.4v2.4h-2.4zM139.5 167.3h2.4v2.4h-2.4zM135.7 163.5h2.4v2.4h-2.4zM133.1 160.7h2.4v2.4h-2.4zM164.1 152.8h2.4v2.4h-2.4zM150.4 176.1h2.4v2.4h-2.4zM147 144.8h2.4v2.4h-2.4zM148 164.9h2.4v2.4h-2.4zM163.2 160.3h2.4v2.4h-2.4zM141.3 151.3h2.4v2.4h-2.4zM128.2 171.4h2.4v2.4h-2.4zM138.9 154.1h2.4v2.4h-2.4zM131.2 163.9h2.4v2.4h-2.4zM138.9 165.8h2.4v2.4h-2.4zM129.1 157.8h2.4v2.4h-2.4zM157 166.3h2.4v2.4h-2.4zM139.6 171.3h2.4v2.4h-2.4zM144.5 165.4h2.4v2.4h-2.4zM139.6 155.9h2.4v2.4h-2.4zM147.3 166.8h2.4v2.4h-2.4zM134.3 182.6h2.4v2.4h-2.4zM167.4 162.3h2.4v2.4h-2.4zM162.2 155.9h2.4v2.4h-2.4zM130.9 162.3h2.4v2.4h-2.4zM128.3 170h2.4v2.4h-2.4zM139.1 168.6h2.4v2.4h-2.4zM122.9 192.1h2.4v2.4h-2.4zM162.5 149h2.4v2.4h-2.4zM146.4 162.7h2.4v2.4h-2.4zM139.3 160.9h2.4v2.4h-2.4zM132.5 159.4h2.4v2.4h-2.4zM138.9 162.7h2.4v2.4h-2.4zM137.4 156.4h2.4v2.4h-2.4zM137.6 164.1h2.4v2.4h-2.4zM139.8 153.2h2.4v2.4h-2.4zM145.4 167.7h2.4v2.4h-2.4zM142.3 157.7h2.4v2.4h-2.4zM130.6 165.7h2.4v2.4h-2.4zM151 169.3h2.4v2.4h-2.4zM132.8 160.9h2.4v2.4h-2.4zM142 162.9h2.4v2.4h-2.4zM124 165.1h2.4v2.4h-2.4zM138.4 169h2.4v2.4h-2.4zM119.7 165.1h2.4v2.4h-2.4zM138 152.8h2.4v2.4h-2.4zM139.5 165.6h2.4v2.4h-2.4zM131.9 158.1h2.4v2.4h-2.4zM135.1 162.2h2.4v2.4h-2.4zM137.6 156.4h2.4v2.4h-2.4zM143 146h2.4v2.4h-2.4zM135 165.2h2.4v2.4h-2.4zM145.5 153.8h2.4v2.4h-2.4zM141 156.8h2.4v2.4h-2.4zM151.8 170.5h2.4v2.4h-2.4zM134.1 169.5h2.4v2.4h-2.4zM130.2 176.3h2.4v2.4h-2.4zM150.8 156.4h2.4v2.4h-2.4zM125.7 174h2.4v2.4h-2.4zM154 163.6h2.4v2.4h-2.4zM139.3 146.8h2.4v2.4h-2.4zM134.7 177.7h2.4v2.4h-2.4zM127.4 179.3h2.4v2.4h-2.4zM161.1 156.7h2.4v2.4h-2.4zM148.4 154.6h2.4v2.4h-2.4zM122.8 171.3h2.4v2.4h-2.4zM134.6 165h2.4v2.4h-2.4zM144.3 158.5h2.4v2.4h-2.4zM140.8 165.5h2.4v2.4h-2.4zM143.9 176h2.4v2.4h-2.4zM142.3 161.7h2.4v2.4h-2.4zM132.3 161.3h2.4v2.4h-2.4zM152.7 156.2h2.4v2.4h-2.4zM122.7 167.4h2.4v2.4h-2.4zM133.8 162h2.4v2.4h-2.4zM144.9 149.4h2.4v2.4h-2.4zM143.1 161.7h2.4v2.4h-2.4zM123.9 172h2.4v2.4h-2.4zM137.8 167.9h2.4v2.4h-2.4zM133.1 168.9h2.4v2.4h-2.4zM114.2 167.8h2.4v2.4h-2.4zM149.7 165.7h2.4v2.4h-2.4zM134.6 160.2h2.4v2.4h-2.4zM141.3 143.4h2.4v2.4h-2.4zM130.5 173.6h2.4v2.4h-2.4zM140.5 153.1h2.4v2.4h-2.4zM121.2 185.7h2.4v2.4h-2.4zM135.4 157.2h2.4v2.4h-2.4zM141 169.5h2.4v2.4h-2.4zM112 188.1h2.4v2.4h-2.4zM137.5 145.7h2.4v2.4h-2.4zM139 147.4h2.4v2.4h-2.4zM151.3 159.2h2.4v2.4h-2.4zM160.1 145.4h2.4v2.4h-2.4zM141 170.8h2.4v2.4h-2.4zM127.2 163.6h2.4v2.4h-2.4zM132.5 165.9h2.4v2.4h-2.4zM126.6 174.2h2.4v2.4h-2.4zM143.4 160.9h2.4v2.4h-2.4zM154.9 150.8h2.4v2.4h-2.4zM149.7 152h2.4v2.4h-2.4zM138.3 146.5h2.4v2.4h-2.4zM138.6 161.6h2.4v2.4h-2.4zM129.1 163.3h2.4v2.4h-2.4zM130.4 161.6h2.4v2.4h-2.4zM110.1 174.4h2.4v2.4h-2.4zM128.8 164.2h2.4v2.4h-2.4zM124.6 170h2.4v2.4h-2.4zM144.9 157.3h2.4v2.4h-2.4zM136.5 176h2.4v2.4h-2.4zM151.5 163.6h2.4v2.4h-2.4zM148.8 154.4h2.4v2.4h-2.4zM139.7 172.1h2.4v2.4h-2.4zM130.3 166.8h2.4v2.4h-2.4zM142.7 164h2.4v2.4h-2.4zM137.6 172.2h2.4v2.4h-2.4zM137.7 169.9h2.4v2.4h-2.4zM151.5 161.3h2.4v2.4h-2.4zM140.9 151.7h2.4v2.4h-2.4zM119.9 168.5h2.4v2.4h-2.4zM148 170.7h2.4v2.4h-2.4zM124.4 173.9h2.4v2.4h-2.4zM124.6 164.8h2.4v2.4h-2.4zM136.5 170.3h2.4v2.4h-2.4zM143.8 170.3h2.4v2.4h-2.4zM129.2 176.2h2.4v2.4h-2.4zM147.7 158.4h2.4v2.4h-2.4zM140.3 157.2h2.4v2.4h-2.4zM123.2 168.5h2.4v2.4h-2.4zM140.6 186.9h2.4v2.4h-2.4zM137.7 177.9h2.4v2.4h-2.4zM140.4 164.7h2.4v2.4h-2.4zM142.4 154.1h2.4v2.4h-2.4zM148.7 160.5h2.4v2.4h-2.4zM122.2 177.8h2.4v2.4h-2.4zM144.9 163.3h2.4v2.4h-2.4zM153.3 151h2.4v2.4h-2.4zM145.6 165.5h2.4v2.4h-2.4zM131.4 177.6h2.4v2.4h-2.4zM115.8 165h2.4v2.4h-2.4zM138.8 153.5h2.4v2.4h-2.4zM129.5 154.1h2.4v2.4h-2.4zM133.5 156.2h2.4v2.4h-2.4zM135.1 151.8h2.4v2.4h-2.4zM141.1 159.4h2.4v2.4h-2.4zM137.5 163.1h2.4v2.4h-2.4zM133.5 154.6h2.4v2.4h-2.4zM108.3 180.9h2.4v2.4h-2.4zM124.8 167.1h2.4v2.4h-2.4zM134.4 148.3h2.4v2.4h-2.4zM126.1 165h2.4v2.4h-2.4zM126.3 173h2.4v2.4h-2.4zM132.3 159.6h2.4v2.4h-2.4zM128.9 175.6h2.4v2.4h-2.4zM131.8 172.1h2.4v2.4h-2.4zM135 148.8h2.4v2.4h-2.4zM124.8 171.1h2.4v2.4h-2.4zM143.8 166.8h2.4v2.4h-2.4zM149.9 165.5h2.4v2.4h-2.4zM132 165.1h2.4v2.4h-2.4zM144.1 156.2h2.4v2.4h-2.4zM142.9 146.8h2.4v2.4h-2.4zM143.7 158.6h2.4v2.4h-2.4zM118.5 183.1h2.4v2.4h-2.4zM140.6 162.1h2.4v2.4h-2.4zM123.1 168h2.4v2.4h-2.4zM150.9 148.8h2.4v2.4h-2.4zM94.7 181h2.4v2.4h-2.4zM123 170.9h2.4v2.4h-2.4zM129.2 160.6h2.4v2.4h-2.4zM131.5 176.3h2.4v2.4h-2.4zM128.1 186.1h2.4v2.4h-2.4zM126.8 160.4h2.4v2.4h-2.4zM148 162.5h2.4v2.4h-2.4zM128.1 175.6h2.4v2.4h-2.4zM112.8 170h2.4v2.4h-2.4zM148.7 155h2.4v2.4h-2.4zM124.3 175.8h2.4v2.4h-2.4zM147.2 157.9h2.4v2.4h-2.4zM115.4 173.5h2.4v2.4h-2.4zM144.6 166.3h2.4v2.4h-2.4zM156.9 150.3h2.4v2.4h-2.4zM131.4 166.9h2.4v2.4h-2.4zM147 150h2.4v2.4h-2.4zM141.4 137.7h2.4v2.4h-2.4zM143.4 154.4h2.4v2.4h-2.4zM144.8 165.5h2.4v2.4h-2.4zM123.4 171.1h2.4v2.4h-2.4zM141.9 166.3h2.4v2.4h-2.4zM122.8 163.6h2.4v2.4h-2.4zM124.9 193h2.4v2.4h-2.4zM134 163.8h2.4v2.4h-2.4zM123.7 179.8h2.4v2.4h-2.4zM136.4 176.8h2.4v2.4h-2.4zM146.7 158.6h2.4v2.4h-2.4zM141 152.1h2.4v2.4h-2.4zM131.2 162.4h2.4v2.4h-2.4zM122.8 172.4h2.4v2.4h-2.4zM140.8 174.3h2.4v2.4h-2.4zM96.7 181.4h2.4v2.4h-2.4zM124.9 167h2.4v2.4h-2.4zM143.3 163.9h2.4v2.4h-2.4zM135.5 160.7h2.4v2.4h-2.4zM143.9 163.1h2.4v2.4h-2.4zM115.3 174.3h2.4v2.4h-2.4zM117.1 165.3h2.4v2.4h-2.4zM138.9 163.4h2.4v2.4h-2.4zM135 157.6h2.4v2.4h-2.4zM131.3 159.4h2.4v2.4h-2.4zM143.9 166h2.4v2.4h-2.4zM161.5 160.8h2.4v2.4h-2.4zM126.2 166.3h2.4v2.4h-2.4zM127.6 172.1h2.4v2.4h-2.4zM162 155.7h2.4v2.4h-2.4zM107.5 170.1h2.4v2.4h-2.4zM124.4 175.7h2.4v2.4h-2.4zM138.1 165.9h2.4v2.4h-2.4zM154 147h2.4v2.4h-2.4zM134.8 182.3h2.4v2.4h-2.4zM137.9 156.7h2.4v2.4h-2.4zM108.4 167.3h2.4v2.4h-2.4zM109.7 180.3h2.4v2.4h-2.4zM141.2 170.2h2.4v2.4h-2.4zM132.8 160.4h2.4v2.4h-2.4zM135.8 181.2h2.4v2.4h-2.4zM117.8 176.6h2.4v2.4h-2.4zM139.6 167.8h2.4v2.4h-2.4zM134.3 169.9h2.4v2.4h-2.4zM145.6 157.7h2.4v2.4h-2.4zM131.1 165.8h2.4v2.4h-2.4zM125.4 168.9h2.4v2.4h-2.4zM134.4 167.3h2.4v2.4h-2.4zM156.9 163.8h2.4v2.4h-2.4zM134.2 170.8h2.4v2.4h-2.4zM143.2 167h2.4v2.4h-2.4zM138.2 165.6h2.4v2.4h-2.4zM128.8 162h2.4v2.4h-2.4zM151.7 166.8h2.4v2.4h-2.4zM146.1 162.5h2.4v2.4h-2.4zM138.3 159.3h2.4v2.4h-2.4zM119.4 179.9h2.4v2.4h-2.4zM137.2 159.1h2.4v2.4h-2.4zM130.9 178.6h2.4v2.4h-2.4zM123.3 187.2h2.4v2.4h-2.4zM153.1 175.2h2.4v2.4h-2.4zM128.8 168.5h2.4v2.4h-2.4zM131.9 168.3h2.4v2.4h-2.4zM131.8 160.5h2.4v2.4h-2.4zM146.2 151.9h2.4v2.4h-2.4zM133.4 170.9h2.4v2.4h-2.4zM129.3 164.7h2.4v2.4h-2.4zM139.6 159.3h2.4v2.4h-2.4zM122.6 171.4h2.4v2.4h-2.4zM140.9 176.5h2.4v2.4h-2.4zM128.3 177.4h2.4v2.4h-2.4zM126.8 166.8h2.4v2.4h-2.4zM134.3 167.9h2.4v2.4h-2.4zM153.3 169.8h2.4v2.4h-2.4zM134.8 176.8h2.4v2.4h-2.4zM151.3 162.8h2.4v2.4h-2.4zM131.8 174.8h2.4v2.4h-2.4zM137.1 167h2.4v2.4h-2.4zM136.5 170.1h2.4v2.4h-2.4zM153.8 164.1h2.4v2.4h-2.4zM138.4 171.8h2.4v2.4h-2.4zM149.8 148.5h2.4v2.4h-2.4zM148.6 145.8h2.4v2.4h-2.4zM145.3 164.3h2.4v2.4h-2.4zM154.7 156.2h2.4v2.4h-2.4zM128.6 161.9h2.4v2.4h-2.4zM125.8 177.1h2.4v2.4h-2.4zM131.6 160.9h2.4v2.4h-2.4zM140.1 155.6h2.4v2.4h-2.4zM130.4 163.9h2.4v2.4h-2.4zM161.1 162.7h2.4v2.4h-2.4zM129.3 154.8h2.4v2.4h-2.4zM140.4 162.7h2.4v2.4h-2.4zM143 165.4h2.4v2.4h-2.4zM136.9 172.1h2.4v2.4h-2.4zM147.2 159.9h2.4v2.4h-2.4zM130.6 163.5h2.4v2.4h-2.4zM140.7 152.4h2.4v2.4h-2.4zM132.4 160.2h2.4v2.4h-2.4zM123.6 177h2.4v2.4h-2.4zM136.8 164.4h2.4v2.4h-2.4zM141.2 148.6h2.4v2.4h-2.4zM137.3 166.3h2.4v2.4h-2.4zM142.3 151.5h2.4v2.4h-2.4zM145.9 160.8h2.4v2.4h-2.4zM156.5 162.6h2.4v2.4h-2.4zM151.2 174.4h2.4v2.4h-2.4zM135.4 161.3h2.4v2.4h-2.4zM129.6 160.1h2.4v2.4h-2.4zM129.6 152h2.4v2.4h-2.4zM137.6 167.3h2.4v2.4h-2.4zM146.9 155.3h2.4v2.4h-2.4zM150.2 150.7h2.4v2.4h-2.4zM128.4 152.7h2.4v2.4h-2.4zM125.5 163.8h2.4v2.4h-2.4zM155.4 157.9h2.4v2.4h-2.4zM126.8 174.4h2.4v2.4h-2.4zM141.4 159.5h2.4v2.4h-2.4zM136.1 161.9h2.4v2.4h-2.4zM124.5 156.2h2.4v2.4h-2.4zM140.7 172.7h2.4v2.4h-2.4zM151.7 153.1h2.4v2.4h-2.4zM128 167.4h2.4v2.4h-2.4zM148.2 160.5h2.4v2.4h-2.4zM131.9 170h2.4v2.4h-2.4zM136.6 168.6h2.4v2.4h-2.4zM127.1 157.3h2.4v2.4h-2.4zM140.4 168.4h2.4v2.4h-2.4zM124.4 170.3h2.4v2.4h-2.4zM145.3 156.1h2.4v2.4h-2.4zM137.3 181h2.4v2.4h-2.4zM149.9 165.2h2.4v2.4h-2.4zM132.6 180.3h2.4v2.4h-2.4zM116.9 171.2h2.4v2.4h-2.4zM150 167.7h2.4v2.4h-2.4zM124.4 165.7h2.4v2.4h-2.4zM132.1 150.6h2.4v2.4h-2.4zM146 163.5h2.4v2.4h-2.4zM134.1 170.2h2.4v2.4h-2.4zM146.6 161h2.4v2.4h-2.4zM148.2 170.3h2.4v2.4h-2.4zM132.4 168h2.4v2.4h-2.4zM135.1 173.8h2.4v2.4h-2.4zM134.3 169.6h2.4v2.4h-2.4zM138.7 163.6h2.4v2.4h-2.4zM155.4 152.6h2.4v2.4h-2.4zM155.5 160.3h2.4v2.4h-2.4zM150.8 154.7h2.4v2.4h-2.4zM149.9 162.9h2.4v2.4h-2.4zM131.3 169.6h2.4v2.4h-2.4zM135.5 164.6h2.4v2.4h-2.4zM148.6 151.3h2.4v2.4h-2.4zM112.4 163.6h2.4v2.4h-2.4zM129.7 162.8h2.4v2.4h-2.4zM139.2 167.5h2.4v2.4h-2.4zM157.3 154.9h2.4v2.4h-2.4zM139.4 156.5h2.4v2.4h-2.4zM148.2 168.9h2.4v2.4h-2.4zM144.5 143.3h2.4v2.4h-2.4zM152.4 168.3h2.4v2.4h-2.4zM140.6 149.5h2.4v2.4h-2.4zM135.8 169.6h2.4v2.4h-2.4zM138.6 156.3h2.4v2.4h-2.4zM130.8 175.6h2.4v2.4h-2.4zM127.7 181.3h2.4v2.4h-2.4zM138.3 165.8h2.4v2.4h-2.4zM120.4 168.6h2.4v2.4h-2.4zM139.2 150.5h2.4v2.4h-2.4zM154.4 142.3h2.4v2.4h-2.4zM123.9 171.9h2.4v2.4h-2.4zM144.9 165.6h2.4v2.4h-2.4zM132.2 165h2.4v2.4h-2.4zM132.4 161.9h2.4v2.4h-2.4zM112.6 186.1h2.4v2.4h-2.4zM140.3 163.4h2.4v2.4h-2.4zM131.1 169.5h2.4v2.4h-2.4zM136.6 163.6h2.4v2.4h-2.4zM142.8 146.3h2.4v2.4h-2.4zM135.9 155.8h2.4v2.4h-2.4zM139 175.3h2.4v2.4h-2.4zM124.9 170.1h2.4v2.4h-2.4zM134 173.6h2.4v2.4h-2.4zM120.3 159.6h2.4v2.4h-2.4zM141.3 158.6h2.4v2.4h-2.4zM137.4 172.7h2.4v2.4h-2.4zM126.1 167.2h2.4v2.4h-2.4zM140.1 165.7h2.4v2.4h-2.4zM135.1 173.7h2.4v2.4h-2.4zM159.8 147.5h2.4v2.4h-2.4zM149.6 139.2h2.4v2.4h-2.4zM151 153.1h2.4v2.4h-2.4zM137.3 161h2.4v2.4h-2.4zM125.5 160h2.4v2.4h-2.4zM137.4 174.5h2.4v2.4h-2.4zM148.1 154.7h2.4v2.4h-2.4zM128.8 162.9h2.4v2.4h-2.4zM130.5 182.7h2.4v2.4h-2.4zM144.6 160.6h2.4v2.4h-2.4zM128 160.7h2.4v2.4h-2.4zM154 160.7h2.4v2.4h-2.4zM130.3 176.1h2.4v2.4h-2.4zM127.3 174.9h2.4v2.4h-2.4zM125.1 167.4h2.4v2.4h-2.4zM143.9 163.6h2.4v2.4h-2.4zM144.9 152.5h2.4v2.4h-2.4zM158.9 162.5h2.4v2.4h-2.4zM138.6 167h2.4v2.4h-2.4zM128 167.9h2.4v2.4h-2.4zM123 172.8h2.4v2.4h-2.4zM144 171.1h2.4v2.4h-2.4zM150.2 163.2h2.4v2.4h-2.4zM132.3 164.9h2.4v2.4h-2.4zM134.1 167.5h2.4v2.4h-2.4zM118.9 180.9h2.4v2.4h-2.4zM118.2 170.6h2.4v2.4h-2.4zM135.4 160.7h2.4v2.4h-2.4zM154.6 153h2.4v2.4h-2.4zM158.2 161.5h2.4v2.4h-2.4zM133.1 169.6h2.4v2.4h-2.4zM149.8 153.8h2.4v2.4h-2.4zM135.9 160h2.4v2.4h-2.4zM136.4 161.4h2.4v2.4h-2.4zM141.5 169.7h2.4v2.4h-2.4zM152.5 156.1h2.4v2.4h-2.4zM142.3 168.1h2.4v2.4h-2.4zM130.1 159.2h2.4v2.4h-2.4zM145.6 151.2h2.4v2.4h-2.4zM143.6 152.2h2.4v2.4h-2.4zM153 146.1h2.4v2.4h-2.4zM151.6 168.1h2.4v2.4h-2.4zM132 179.3h2.4v2.4h-2.4zM121.8 158.1h2.4v2.4h-2.4zM147.3 163.9h2.4v2.4h-2.4zM125.7 149.5h2.4v2.4h-2.4zM135.3 162.4h2.4v2.4h-2.4zM131.9 164.6h2.4v2.4h-2.4zM115.6 171.6h2.4v2.4h-2.4zM162 162.4h2.4v2.4h-2.4zM130.5 161.8h2.4v2.4h-2.4zM145.1 168.1h2.4v2.4h-2.4zM140.6 152.2h2.4v2.4h-2.4zM139.3 163.9h2.4v2.4h-2.4zM156.9 162.5h2.4v2.4h-2.4zM147 168.3h2.4v2.4h-2.4zM138.3 176.1h2.4v2.4h-2.4zM133.8 169.1h2.4v2.4h-2.4zM143.6 152.6h2.4v2.4h-2.4zM123.1 157.4h2.4v2.4h-2.4zM138.6 162.6h2.4v2.4h-2.4zM135.3 169.1h2.4v2.4h-2.4zM114 177.1h2.4v2.4h-2.4zM137 161.8h2.4v2.4h-2.4zM151.9 170h2.4v2.4h-2.4zM128.8 160.9h2.4v2.4h-2.4zM130.8 168.4h2.4v2.4h-2.4zM140.2 155h2.4v2.4h-2.4zM144.1 151.4h2.4v2.4h-2.4zM147.5 161.5h2.4v2.4h-2.4zM149.8 174.6h2.4v2.4h-2.4zM133.6 164.6h2.4v2.4h-2.4zM145.3 166.4h2.4v2.4h-2.4zM123.5 174.1h2.4v2.4h-2.4zM131.3 172.6h2.4v2.4h-2.4zM152 155.8h2.4v2.4h-2.4zM136.5 165.8h2.4v2.4h-2.4zM107.8 187.2h2.4v2.4h-2.4zM143.7 161.5h2.4v2.4h-2.4zM130.1 161.9h2.4v2.4h-2.4zM139.4 172.7h2.4v2.4h-2.4zM140.7 173h2.4v2.4h-2.4zM107.5 177.2h2.4v2.4h-2.4zM139.9 162.2h2.4v2.4h-2.4zM116.7 170.2h2.4v2.4h-2.4zM145.9 148.1h2.4v2.4h-2.4zM122.3 163.3h2.4v2.4h-2.4zM133.3 171.5h2.4v2.4h-2.4zM136.1 147.6h2.4v2.4h-2.4zM150.6 151.2h2.4v2.4h-2.4zM136.6 178.1h2.4v2.4h-2.4zM131.7 156.8h2.4v2.4h-2.4zM127.5 163.5h2.4v2.4h-2.4zM124.9 168.2h2.4v2.4h-2.4zM147.7 160.7h2.4v2.4h-2.4zM132.1 190h2.4v2.4h-2.4zM126.7 170.9h2.4v2.4h-2.4zM140.1 168.6h2.4v2.4h-2.4zM135.1 168.9h2.4v2.4h-2.4zM160.1 151.5h2.4v2.4h-2.4zM126.5 172.8h2.4v2.4h-2.4zM127 166.7h2.4v2.4h-2.4zM140.2 164.9h2.4v2.4h-2.4zM137 171.1h2.4v2.4h-2.4zM130.2 157.1h2.4v2.4h-2.4zM145.2 156.3h2.4v2.4h-2.4zM147.8 152.3h2.4v2.4h-2.4zM144.3 162.4h2.4v2.4h-2.4zM102.5 171.5h2.4v2.4h-2.4zM130 179.8h2.4v2.4h-2.4zM119.9 181.5h2.4v2.4h-2.4zM150.6 160.3h2.4v2.4h-2.4zM142.5 156.7h2.4v2.4h-2.4zM137.7 165.5h2.4v2.4h-2.4zM144.1 165.8h2.4v2.4h-2.4zM132.2 160.9h2.4v2.4h-2.4zM132.4 170.1h2.4v2.4h-2.4zM114.5 166.5h2.4v2.4h-2.4zM130.6 163.1h2.4v2.4h-2.4zM124.5 149.1h2.4v2.4h-2.4zM132.4 164.6h2.4v2.4h-2.4zM138.3 146.8h2.4v2.4h-2.4zM135.4 168.9h2.4v2.4h-2.4zM146.6 168.4h2.4v2.4h-2.4zM144.6 150.9h2.4v2.4h-2.4zM142.7 157.9h2.4v2.4h-2.4zM133.8 178.6h2.4v2.4h-2.4zM127.1 162.6h2.4v2.4h-2.4zM129.5 161.2h2.4v2.4h-2.4zM149.3 160.1h2.4v2.4h-2.4zM153.6 157.8h2.4v2.4h-2.4zM134.1 174.4h2.4v2.4h-2.4zM128.2 165.2h2.4v2.4h-2.4zM135.3 165.3h2.4v2.4h-2.4zM147.8 152.7h2.4v2.4h-2.4zM140.7 161.6h2.4v2.4h-2.4zM119.4 165h2.4v2.4h-2.4zM136.1 167.9h2.4v2.4h-2.4zM142.2 165h2.4v2.4h-2.4zM135.9 160.9h2.4v2.4h-2.4zM138 155.1h2.4v2.4h-2.4zM121.2 170.3h2.4v2.4h-2.4zM119.6 169.7h2.4v2.4h-2.4zM126.9 165.2h2.4v2.4h-2.4zM133.6 159.3h2.4v2.4h-2.4zM126.2 155.9h2.4v2.4h-2.4zM135.4 157.6h2.4v2.4h-2.4zM131.2 143.8h2.4v2.4h-2.4zM129.2 170.5h2.4v2.4h-2.4zM109.2 177h2.4v2.4h-2.4zM138.4 164.1h2.4v2.4h-2.4zM121.6 174.8h2.4v2.4h-2.4zM135.1 157h2.4v2.4h-2.4zM144.9 159h2.4v2.4h-2.4zM135.6 161.1h2.4v2.4h-2.4zM143.3 161.2h2.4v2.4h-2.4zM151 159.7h2.4v2.4h-2.4zM129.5 166.5h2.4v2.4h-2.4zM145.7 155.9h2.4v2.4h-2.4zM143.1 164.9h2.4v2.4h-2.4zM126.6 150.5h2.4v2.4h-2.4zM139.2 164.5h2.4v2.4h-2.4zM135.7 158.4h2.4v2.4h-2.4zM149.7 155.6h2.4v2.4h-2.4zM127.6 163.4h2.4v2.4h-2.4zM136.9 154.9h2.4v2.4h-2.4zM133.4 182.9h2.4v2.4h-2.4zM155.1 162.4h2.4v2.4h-2.4zM154 159.2h2.4v2.4h-2.4zM123 182.1h2.4v2.4h-2.4zM152.3 159.3h2.4v2.4h-2.4zM120.2 184.1h2.4v2.4h-2.4zM150.1 152.3h2.4v2.4h-2.4zM141.2 168.1h2.4v2.4h-2.4zM140.1 171.4h2.4v2.4h-2.4zM140.4 167.8h2.4v2.4h-2.4zM132.6 154.2h2.4v2.4h-2.4zM137.7 190.2h2.4v2.4h-2.4zM144.8 170.5h2.4v2.4h-2.4zM155.6 167.6h2.4v2.4h-2.4zM140.9 156.8h2.4v2.4h-2.4zM130.2 151.8h2.4v2.4h-2.4zM138.2 170.9h2.4v2.4h-2.4zM114.1 178.9h2.4v2.4h-2.4zM150.8 167.2h2.4v2.4h-2.4zM124.5 165.7h2.4v2.4h-2.4zM112.8 169.4h2.4v2.4h-2.4zM150.4 173.7h2.4v2.4h-2.4zM129.5 179.9h2.4v2.4h-2.4zM139.9 158.2h2.4v2.4h-2.4zM151.8 134.3h2.4v2.4h-2.4zM137.1 165.8h2.4v2.4h-2.4zM166.8 161.9h2.4v2.4h-2.4zM162.2 150.6h2.4v2.4h-2.4zM152.7 166.4h2.4v2.4h-2.4zM143.9 163h2.4v2.4h-2.4zM133.5 162.6h2.4v2.4h-2.4zM130.7 184.1h2.4v2.4h-2.4zM124.5 153.7h2.4v2.4h-2.4zM139.8 162.1h2.4v2.4h-2.4zM145.5 174.3h2.4v2.4h-2.4zM134.9 163h2.4v2.4h-2.4zM128.7 168.6h2.4v2.4h-2.4zM132.9 168.1h2.4v2.4h-2.4zM172.6 146.7h2.4v2.4h-2.4zM134.7 181.6h2.4v2.4h-2.4zM149.4 163.7h2.4v2.4h-2.4zM147.8 164.7h2.4v2.4h-2.4zM149.5 168.6h2.4v2.4h-2.4zM152.9 166.2h2.4v2.4h-2.4zM131.5 167.2h2.4v2.4h-2.4zM132.5 174.7h2.4v2.4h-2.4zM144.4 155.8h2.4v2.4h-2.4zM153 176.9h2.4v2.4h-2.4zM146.5 149.1h2.4v2.4h-2.4zM138.3 168.6h2.4v2.4h-2.4zM138 166.7h2.4v2.4h-2.4zM151.1 158.6h2.4v2.4h-2.4zM127.6 175.5h2.4v2.4h-2.4zM136.3 165.3h2.4v2.4h-2.4zM125.7 158.8h2.4v2.4h-2.4zM122 169.7h2.4v2.4h-2.4zM115.4 153.6h2.4v2.4h-2.4zM145.3 149.4h2.4v2.4h-2.4zM131 172h2.4v2.4h-2.4zM115.5 187.7h2.4v2.4h-2.4zM131 173h2.4v2.4h-2.4zM132.8 169h2.4v2.4h-2.4zM138.2 163.3h2.4v2.4h-2.4zM111.6 166.3h2.4v2.4h-2.4zM141.7 173.2h2.4v2.4h-2.4zM133 170.8h2.4v2.4h-2.4zM140.5 166h2.4v2.4h-2.4zM142.4 148.2h2.4v2.4h-2.4zM139.4 161.1h2.4v2.4h-2.4zM130.5 160.6h2.4v2.4h-2.4zM124.6 162.5h2.4v2.4h-2.4zM134.1 186.8h2.4v2.4h-2.4zM155.7 153.3h2.4v2.4h-2.4zM141.6 153.1h2.4v2.4h-2.4zM99.8 170.1h2.4v2.4h-2.4zM143.8 172.2h2.4v2.4h-2.4zM132.9 157.9h2.4v2.4h-2.4zM130.7 159.2h2.4v2.4h-2.4zM120.9 171.4h2.4v2.4h-2.4zM129.6 161.4h2.4v2.4h-2.4zM123.9 163.7h2.4v2.4h-2.4zM144.7 171.3h2.4v2.4h-2.4zM142.9 179.5h2.4v2.4h-2.4zM120.3 176h2.4v2.4h-2.4zM123.7 170.3h2.4v2.4h-2.4zM140.2 166.9h2.4v2.4h-2.4zM147.4 153.3h2.4v2.4h-2.4zM122.7 170.7h2.4v2.4h-2.4zM137.7 157.7h2.4v2.4h-2.4zM153 169h2.4v2.4h-2.4zM122.7 175.3h2.4v2.4h-2.4zM141.1 145.4h2.4v2.4h-2.4zM138.4 161.3h2.4v2.4h-2.4zM126.2 181.3h2.4v2.4h-2.4zM137.6 159.6h2.4v2.4h-2.4zM144.2 165.3h2.4v2.4h-2.4zM147.6 162.8h2.4v2.4h-2.4zM137.2 154h2.4v2.4h-2.4zM132.8 167.5h2.4v2.4h-2.4zM114.4 195h2.4v2.4h-2.4zM129 159.7h2.4v2.4h-2.4zM118 177.1h2.4v2.4h-2.4zM135.2 160.1h2.4v2.4h-2.4zM129.2 161h2.4v2.4h-2.4zM128.4 168.1h2.4v2.4h-2.4zM132.4 172.4h2.4v2.4h-2.4zM135.9 165.7h2.4v2.4h-2.4zM146.1 169.5h2.4v2.4h-2.4zM144.4 161.6h2.4v2.4h-2.4zM132.3 159.9h2.4v2.4h-2.4zM135.7 170.5h2.4v2.4h-2.4zM138.1 160.1h2.4v2.4h-2.4zM116.8 162.7h2.4v2.4h-2.4zM144.3 168.5h2.4v2.4h-2.4zM136.1 152.9h2.4v2.4h-2.4zM135.5 166.8h2.4v2.4h-2.4zM128.2 172h2.4v2.4h-2.4zM131.8 160h2.4v2.4h-2.4zM126.3 177h2.4v2.4h-2.4zM137.7 156.1h2.4v2.4h-2.4zM129.1 176.1h2.4v2.4h-2.4zM142.4 158.3h2.4v2.4h-2.4zM153.4 152.1h2.4v2.4h-2.4zM129.4 177.6h2.4v2.4h-2.4zM136.2 167.4h2.4v2.4h-2.4zM133.8 157.4h2.4v2.4h-2.4zM123.3 170.3h2.4v2.4h-2.4zM148.7 148.8h2.4v2.4h-2.4zM152.7 156.8h2.4v2.4h-2.4zM125.8 172.7h2.4v2.4h-2.4zM139.9 154.7h2.4v2.4h-2.4zM115 179.7h2.4v2.4h-2.4zM126.4 173.8h2.4v2.4h-2.4zM115.5 175.2h2.4v2.4h-2.4zM122.7 159.8h2.4v2.4h-2.4zM135 166.6h2.4v2.4h-2.4zM126.6 160.1h2.4v2.4h-2.4zM132.9 151.6h2.4v2.4h-2.4zM144.6 163.7h2.4v2.4h-2.4zM158.6 159h2.4v2.4h-2.4zM141.8 163.4h2.4v2.4h-2.4zM132.5 155.5h2.4v2.4h-2.4zM154.9 158.1h2.4v2.4h-2.4zM129.7 158.6h2.4v2.4h-2.4zM155.2 158h2.4v2.4h-2.4zM126.5 175.7h2.4v2.4h-2.4zM157.7 151.9h2.4v2.4h-2.4zM139.9 158.8h2.4v2.4h-2.4zM134 174.7h2.4v2.4h-2.4zM171.1 145.3h2.4v2.4h-2.4zM138.5 169.8h2.4v2.4h-2.4zM136.3 170.5h2.4v2.4h-2.4zM142.4 152.4h2.4v2.4h-2.4zM125 170.3h2.4v2.4h-2.4zM147.1 160.5h2.4v2.4h-2.4zM145.6 147.5h2.4v2.4h-2.4zM140.1 157h2.4v2.4h-2.4zM139.3 165.4h2.4v2.4h-2.4zM125.6 168.7h2.4v2.4h-2.4zM125.3 173h2.4v2.4h-2.4zM125.9 166.2h2.4v2.4h-2.4zM137 158.5h2.4v2.4h-2.4zM147.2 152.7h2.4v2.4h-2.4zM147.3 160.4h2.4v2.4h-2.4zM124.9 169.1h2.4v2.4h-2.4zM126.5 167h2.4v2.4h-2.4zM140.7 177.2h2.4v2.4h-2.4zM138.1 176.5h2.4v2.4h-2.4zM137.1 153h2.4v2.4h-2.4zM114.2 182.8h2.4v2.4h-2.4zM117.9 181.1h2.4v2.4h-2.4zM149.6 160h2.4v2.4h-2.4zM133.8 163.7h2.4v2.4h-2.4zM138.7 160.5h2.4v2.4h-2.4zM129.8 165h2.4v2.4h-2.4zM147.5 152.7h2.4v2.4h-2.4zM137 154.4h2.4v2.4h-2.4zM124.2 159.8h2.4v2.4h-2.4zM137.3 169.5h2.4v2.4h-2.4zM138.5 159h2.4v2.4h-2.4zM142.4 158h2.4v2.4h-2.4zM142.1 163.4h2.4v2.4h-2.4zM133.9 145h2.4v2.4h-2.4zM125.6 177.1h2.4v2.4h-2.4zM144 178.8h2.4v2.4h-2.4zM132.4 162h2.4v2.4h-2.4zM155.3 158.1h2.4v2.4h-2.4zM159.5 155.3h2.4v2.4h-2.4zM137.4 169.8h2.4v2.4h-2.4zM126.8 166.1h2.4v2.4h-2.4zM130.1 166.1h2.4v2.4h-2.4zM143.7 156.1h2.4v2.4h-2.4zM138.7 158.8h2.4v2.4h-2.4zM136.6 141.1h2.4v2.4h-2.4zM135.3 166.4h2.4v2.4h-2.4zM128.9 177.1h2.4v2.4h-2.4zM144 170.7h2.4v2.4h-2.4zM149.8 162h2.4v2.4h-2.4zM131.4 158.1h2.4v2.4h-2.4zM132.9 162.5h2.4v2.4h-2.4zM138 159.5h2.4v2.4h-2.4zM164.5 134.8h2.4v2.4h-2.4zM148.1 153.7h2.4v2.4h-2.4zM137.7 171.3h2.4v2.4h-2.4zM132.6 156.4h2.4v2.4h-2.4zM140.8 160.2h2.4v2.4h-2.4zM115.3 178.2h2.4v2.4h-2.4zM122.8 166h2.4v2.4h-2.4zM143.3 162.9h2.4v2.4h-2.4zM141.7 179.4h2.4v2.4h-2.4zM139.3 157.5h2.4v2.4h-2.4zM139.1 161.8h2.4v2.4h-2.4zM107.3 167.9h2.4v2.4h-2.4zM129.4 185.7h2.4v2.4h-2.4zM134 163.4h2.4v2.4h-2.4zM134.4 173.7h2.4v2.4h-2.4zM143.5 174.5h2.4v2.4h-2.4zM151.5 169.4h2.4v2.4h-2.4zM137.1 167.1h2.4v2.4h-2.4zM131.7 165.7h2.4v2.4h-2.4zM116.1 171.2h2.4v2.4h-2.4zM124.3 165.9h2.4v2.4h-2.4zM151.2 158h2.4v2.4h-2.4zM153.4 161.7h2.4v2.4h-2.4zM150.6 164.5h2.4v2.4h-2.4zM133.3 172.8h2.4v2.4h-2.4zM131.6 162.7h2.4v2.4h-2.4zM157.8 170.1h2.4v2.4h-2.4zM132.7 181h2.4v2.4h-2.4zM143 153.5h2.4v2.4h-2.4zM141.3 164.6h2.4v2.4h-2.4zM139.8 159.4h2.4v2.4h-2.4zM123.2 172.2h2.4v2.4h-2.4zM149.2 163.5h2.4v2.4h-2.4zM148.2 166.8h2.4v2.4h-2.4zM126.1 169.9h2.4v2.4h-2.4zM144.3 168.1h2.4v2.4h-2.4zM140.6 166.3h2.4v2.4h-2.4zM146 176.3h2.4v2.4h-2.4zM113.2 177.5h2.4v2.4h-2.4zM164.7 150h2.4v2.4h-2.4zM117.6 176.3h2.4v2.4h-2.4zM119 168.7h2.4v2.4h-2.4zM145.6 173.3h2.4v2.4h-2.4zM144.4 165.3h2.4v2.4h-2.4zM148.8 158.9h2.4v2.4h-2.4zM127.4 168.8h2.4v2.4h-2.4zM139.7 160.2h2.4v2.4h-2.4zM128.5 165.9h2.4v2.4h-2.4zM117 167h2.4v2.4h-2.4zM134.7 162.3h2.4v2.4h-2.4zM142.5 172.5h2.4v2.4h-2.4zM140.1 161.9h2.4v2.4h-2.4zM120.4 164.6h2.4v2.4h-2.4zM137.9 156.2h2.4v2.4h-2.4zM137.8 154.6h2.4v2.4h-2.4zM138.2 162.7h2.4v2.4h-2.4zM146.4 155.3h2.4v2.4h-2.4zM133.9 167.9h2.4v2.4h-2.4zM143.7 174.2h2.4v2.4h-2.4zM132.3 162.3h2.4v2.4h-2.4zM135.3 169h2.4v2.4h-2.4zM142 166.9h2.4v2.4h-2.4zM131 188.1h2.4v2.4h-2.4zM156.8 152.3h2.4v2.4h-2.4zM124.5 172.5h2.4v2.4h-2.4zM133.4 147.5h2.4v2.4h-2.4zM131.8 154.7h2.4v2.4h-2.4zM147 169.8h2.4v2.4h-2.4zM142.8 148.1h2.4v2.4h-2.4zM155.2 161h2.4v2.4h-2.4zM134.9 169.4h2.4v2.4h-2.4zM152.2 152.4h2.4v2.4h-2.4zM134.8 160.6h2.4v2.4h-2.4zM141.8 143.3h2.4v2.4h-2.4zM148.9 149.1h2.4v2.4h-2.4zM141.2 148h2.4v2.4h-2.4zM124.7 166.1h2.4v2.4h-2.4zM140.1 148.7h2.4v2.4h-2.4zM141.2 156.3h2.4v2.4h-2.4zM149.3 154.3h2.4v2.4h-2.4zM141.6 159.9h2.4v2.4h-2.4zM155.1 150.5h2.4v2.4h-2.4zM143.9 176.6h2.4v2.4h-2.4zM140.3 167.8h2.4v2.4h-2.4zM129.7 169.9h2.4v2.4h-2.4zM112.8 178.8h2.4v2.4h-2.4zM124.6 158.7h2.4v2.4h-2.4zM125.8 180h2.4v2.4h-2.4zM136.1 151.9h2.4v2.4h-2.4zM154.1 148.3h2.4v2.4h-2.4zM133.9 167.8h2.4v2.4h-2.4zM118.8 161h2.4v2.4h-2.4zM133.2 176h2.4v2.4h-2.4zM141.6 148.2h2.4v2.4h-2.4zM150.2 156.7h2.4v2.4h-2.4zM142.6 161.2h2.4v2.4h-2.4zM137.9 155.2h2.4v2.4h-2.4zM124.6 165.3h2.4v2.4h-2.4zM135.2 170.2h2.4v2.4h-2.4zM129.6 181.6h2.4v2.4h-2.4zM128 164.3h2.4v2.4h-2.4zM146.2 162.3h2.4v2.4h-2.4zM129.5 159.4h2.4v2.4h-2.4zM120.4 160.3h2.4v2.4h-2.4zM153.3 163.6h2.4v2.4h-2.4zM159 155.4h2.4v2.4h-2.4zM143.3 166.7h2.4v2.4h-2.4zM146.4 156.4h2.4v2.4h-2.4zM148.6 175.3h2.4v2.4h-2.4zM113.6 165.8h2.4v2.4h-2.4zM129.3 174.7h2.4v2.4h-2.4zM148.6 154.5h2.4v2.4h-2.4zM144.1 159.5h2.4v2.4h-2.4zM138.3 158.7h2.4v2.4h-2.4zM136.7 164.1h2.4v2.4h-2.4zM157.3 170.9h2.4v2.4h-2.4zM119.3 178.7h2.4v2.4h-2.4zM140.4 170.1h2.4v2.4h-2.4zM151.3 162.2h2.4v2.4h-2.4zM142.3 153h2.4v2.4h-2.4zM124.5 185.1h2.4v2.4h-2.4zM146.7 150.5h2.4v2.4h-2.4zM153.4 160.1h2.4v2.4h-2.4zM113.6 185h2.4v2.4h-2.4zM130.5 177.5h2.4v2.4h-2.4zM126.9 163.6h2.4v2.4h-2.4zM119.5 172.3h2.4v2.4h-2.4zM145.6 153.4h2.4v2.4h-2.4zM124.6 189.1h2.4v2.4h-2.4zM159.5 156.8h2.4v2.4h-2.4zM126.8 159.8h2.4v2.4h-2.4zM121.2 177.8h2.4v2.4h-2.4zM147.3 149.2h2.4v2.4h-2.4zM136 162.3h2.4v2.4h-2.4zM136 168.7h2.4v2.4h-2.4zM157.4 146.9h2.4v2.4h-2.4zM150.2 165.5h2.4v2.4h-2.4zM133.4 164.8h2.4v2.4h-2.4zM126.3 179.2h2.4v2.4h-2.4zM128.9 163.2h2.4v2.4h-2.4zM134.6 158.2h2.4v2.4h-2.4zM124.6 168.7h2.4v2.4h-2.4zM152.4 153.4h2.4v2.4h-2.4zM137.4 151.5h2.4v2.4h-2.4zM122.4 187.6h2.4v2.4h-2.4zM127.1 156.9h2.4v2.4h-2.4zM138 168.5h2.4v2.4h-2.4zM115.1 169.3h2.4v2.4h-2.4zM136.5 156.6h2.4v2.4h-2.4zM149.1 165h2.4v2.4h-2.4zM140.3 158.5h2.4v2.4h-2.4zM134.2 160.3h2.4v2.4h-2.4zM136.7 166.8h2.4v2.4h-2.4zM137.3 172h2.4v2.4h-2.4zM163.2 144.3h2.4v2.4h-2.4zM143.7 167h2.4v2.4h-2.4zM143.1 158.5h2.4v2.4h-2.4zM135.4 173.3h2.4v2.4h-2.4zM145.6 163.3h2.4v2.4h-2.4zM130.6 173h2.4v2.4h-2.4zM145 157.9h2.4v2.4h-2.4zM151.9 173.6h2.4v2.4h-2.4zM118.8 179.6h2.4v2.4h-2.4zM119.3 162.8h2.4v2.4h-2.4zM136.4 168.9h2.4v2.4h-2.4zM133.3 156.4h2.4v2.4h-2.4zM119.3 169.5h2.4v2.4h-2.4zM134.1 158.7h2.4v2.4h-2.4zM127 184.5h2.4v2.4h-2.4zM127.3 168.3h2.4v2.4h-2.4zM128.9 163.8h2.4v2.4h-2.4zM136.4 161.9h2.4v2.4h-2.4zM139.4 152.7h2.4v2.4h-2.4zM127.9 185.6h2.4v2.4h-2.4zM139 169.3h2.4v2.4h-2.4zM151.9 160.1h2.4v2.4h-2.4zM131.8 154h2.4v2.4h-2.4zM123.1 180.2h2.4v2.4h-2.4zM146.4 163.3h2.4v2.4h-2.4zM111.2 161h2.4v2.4h-2.4zM121.2 163.2h2.4v2.4h-2.4zM135 156.6h2.4v2.4h-2.4zM152 150.1h2.4v2.4h-2.4zM134 173h2.4v2.4h-2.4zM137.3 156.3h2.4v2.4h-2.4zM153 170.9h2.4v2.4h-2.4zM122.7 170.2h2.4v2.4h-2.4zM118.2 158.6h2.4v2.4h-2.4zM146.4 164.4h2.4v2.4h-2.4zM149.2 160.6h2.4v2.4h-2.4zM114.9 176.5h2.4v2.4h-2.4zM125.4 160.8h2.4v2.4h-2.4zM127.7 175.8h2.4v2.4h-2.4zM140.9 178.3h2.4v2.4h-2.4zM135.2 149h2.4v2.4h-2.4zM151.3 166.2h2.4v2.4h-2.4zM132.9 156.2h2.4v2.4h-2.4zM151.6 144.5h2.4v2.4h-2.4zM129.1 152.5h2.4v2.4h-2.4zM117.1 161.2h2.4v2.4h-2.4zM153.2 164.6h2.4v2.4h-2.4zM127.6 158h2.4v2.4h-2.4zM137.7 166.8h2.4v2.4h-2.4zM116.1 166.3h2.4v2.4h-2.4zM138.4 169.1h2.4v2.4h-2.4zM139.5 166.4h2.4v2.4h-2.4zM114.2 156.2h2.4v2.4h-2.4zM137.1 156.2h2.4v2.4h-2.4zM134.3 162.4h2.4v2.4h-2.4zM139.5 156.1h2.4v2.4h-2.4zM153 155h2.4v2.4h-2.4zM145.1 164.6h2.4v2.4h-2.4zM149.9 160h2.4v2.4h-2.4zM115.5 171.1h2.4v2.4h-2.4zM159.2 155.2h2.4v2.4h-2.4zM144.9 163.4h2.4v2.4h-2.4zM127.5 163.8h2.4v2.4h-2.4zM134.1 175.5h2.4v2.4h-2.4zM147.5 173h2.4v2.4h-2.4zM149.4 172.8h2.4v2.4h-2.4zM137.7 153.6h2.4v2.4h-2.4zM157.4 155.1h2.4v2.4h-2.4zM150.9 157.8h2.4v2.4h-2.4zM134 167.2h2.4v2.4h-2.4zM120.2 163.5h2.4v2.4h-2.4zM125.3 166.3h2.4v2.4h-2.4zM121.7 172h2.4v2.4h-2.4zM147.8 175h2.4v2.4h-2.4zM157.1 151.9h2.4v2.4h-2.4zM146 157h2.4v2.4h-2.4zM141.2 161.3h2.4v2.4h-2.4zM131.3 167.9h2.4v2.4h-2.4zM122.3 176.2h2.4v2.4h-2.4zM129.8 158.9h2.4v2.4h-2.4zM135.1 169.8h2.4v2.4h-2.4zM131.2 171.4h2.4v2.4h-2.4zM149.1 170.3h2.4v2.4h-2.4zM124.6 170.2h2.4v2.4h-2.4zM148.2 170.3h2.4v2.4h-2.4zM142.7 167.1h2.4v2.4h-2.4zM118.6 169.7h2.4v2.4h-2.4zM154.4 151.5h2.4v2.4h-2.4zM158.3 145.5h2.4v2.4h-2.4zM128 155.6h2.4v2.4h-2.4zM145 161.6h2.4v2.4h-2.4zM160 152.1h2.4v2.4h-2.4zM129 156.6h2.4v2.4h-2.4zM139.6 170.6h2.4v2.4h-2.4zM149.8 167.1h2.4v2.4h-2.4zM146.4 158.2h2.4v2.4h-2.4zM144.4 161.2h2.4v2.4h-2.4zM128.5 183.5h2.4v2.4h-2.4zM137.3 154.9h2.4v2.4h-2.4zM142.4 163.4h2.4v2.4h-2.4zM153.4 166.9h2.4v2.4h-2.4zM105.2 187.1h2.4v2.4h-2.4zM150.5 148.1h2.4v2.4h-2.4zM117.4 177.7h2.4v2.4h-2.4zM142 164.1h2.4v2.4h-2.4zM122.9 168.1h2.4v2.4h-2.4zM141.9 167.5h2.4v2.4h-2.4zM162.5 151.8h2.4v2.4h-2.4zM121.5 152.7h2.4v2.4h-2.4zM148.5 156.2h2.4v2.4h-2.4zM132.1 158.3h2.4v2.4h-2.4zM138.5 147.7h2.4v2.4h-2.4zM138.7 164.1h2.4v2.4h-2.4zM145.2 170.5h2.4v2.4h-2.4zM136.2 165.2h2.4v2.4h-2.4zM140.8 148.5h2.4v2.4h-2.4zM134 166.3h2.4v2.4h-2.4zM144.7 152.7h2.4v2.4h-2.4zM147.4 161.3h2.4v2.4h-2.4zM114.9 164.1h2.4v2.4h-2.4zM121.5 174.1h2.4v2.4h-2.4zM142 167.3h2.4v2.4h-2.4zM144.1 155.1h2.4v2.4h-2.4zM152 162.4h2.4v2.4h-2.4zM144.1 164h2.4v2.4h-2.4zM124 174.6h2.4v2.4h-2.4zM121 163h2.4v2.4h-2.4zM133.6 167.2h2.4v2.4h-2.4zM135.2 162.2h2.4v2.4h-2.4zM126.5 171.7h2.4v2.4h-2.4zM123.5 159.7h2.4v2.4h-2.4zM143.5 172.8h2.4v2.4h-2.4zM128.5 159.8h2.4v2.4h-2.4zM158.9 166.1h2.4v2.4h-2.4zM132.9 164.5h2.4v2.4h-2.4zM150.4 181.7h2.4v2.4h-2.4zM142.2 169.6h2.4v2.4h-2.4zM135.2 149.4h2.4v2.4h-2.4zM120.1 163.2h2.4v2.4h-2.4zM142.2 161.9h2.4v2.4h-2.4zM156 150.7h2.4v2.4h-2.4zM140.7 162.5h2.4v2.4h-2.4zM147.2 178.1h2.4v2.4h-2.4zM145.7 171.7h2.4v2.4h-2.4zM149.3 151.7h2.4v2.4h-2.4zM143.3 157.1h2.4v2.4h-2.4zM138.8 164.3h2.4v2.4h-2.4zM135.5 160.8h2.4v2.4h-2.4zM153.5 152.2h2.4v2.4h-2.4zM151.2 170.3h2.4v2.4h-2.4zM147.9 166.6h2.4v2.4h-2.4zM156.7 162h2.4v2.4h-2.4zM151 143.6h2.4v2.4h-2.4zM159.1 151.5h2.4v2.4h-2.4zM115 171.2h2.4v2.4h-2.4zM121.3 172.9h2.4v2.4h-2.4zM116.5 167.1h2.4v2.4h-2.4zM140.9 163.1h2.4v2.4h-2.4zM127.2 167.7h2.4v2.4h-2.4zM136.2 165.1h2.4v2.4h-2.4zM136.1 162.6h2.4v2.4h-2.4zM140.9 147.9h2.4v2.4h-2.4zM132 168.1h2.4v2.4h-2.4zM130.4 163h2.4v2.4h-2.4zM132.9 168.2h2.4v2.4h-2.4zM150.3 154.7h2.4v2.4h-2.4zM135.3 168h2.4v2.4h-2.4zM127 153h2.4v2.4h-2.4zM138.6 159.8h2.4v2.4h-2.4zM132.9 171.8h2.4v2.4h-2.4zM135.4 160.1h2.4v2.4h-2.4zM106.1 167h2.4v2.4h-2.4zM136.7 163.1h2.4v2.4h-2.4zM142.8 162.6h2.4v2.4h-2.4zM126.9 158.9h2.4v2.4h-2.4zM124.2 170.2h2.4v2.4h-2.4zM126.9 176.4h2.4v2.4h-2.4zM115.4 161h2.4v2.4h-2.4zM128.2 153.7h2.4v2.4h-2.4zM151.6 147h2.4v2.4h-2.4zM135.5 162.8h2.4v2.4h-2.4zM121.1 157.9h2.4v2.4h-2.4zM119.3 181.7h2.4v2.4h-2.4zM156.6 171.4h2.4v2.4h-2.4zM122.6 177.1h2.4v2.4h-2.4zM140 169.6h2.4v2.4h-2.4zM133.9 172h2.4v2.4h-2.4zM149.4 162.1h2.4v2.4h-2.4zM152.6 153.5h2.4v2.4h-2.4zM151.8 149.4h2.4v2.4h-2.4zM145.5 135.3h2.4v2.4h-2.4zM134.2 158.7h2.4v2.4h-2.4zM140.9 170.7h2.4v2.4h-2.4zM145.4 159.9h2.4v2.4h-2.4zM150.6 143.4h2.4v2.4h-2.4zM133.5 179.1h2.4v2.4h-2.4zM132.9 148.4h2.4v2.4h-2.4zM136.4 154.1h2.4v2.4h-2.4zM157.9 161.8h2.4v2.4h-2.4zM135.7 176h2.4v2.4h-2.4zM131.1 175.4h2.4v2.4h-2.4zM143 159.4h2.4v2.4h-2.4zM119.9 171.4h2.4v2.4h-2.4zM109.1 175.2h2.4v2.4h-2.4zM120.7 183.9h2.4v2.4h-2.4zM117 154.5h2.4v2.4h-2.4zM145 162.6h2.4v2.4h-2.4zM139.2 181h2.4v2.4h-2.4zM146 159.4h2.4v2.4h-2.4zM118.7 149h2.4v2.4h-2.4zM146 167.1h2.4v2.4h-2.4zM125 158.7h2.4v2.4h-2.4zM130.3 153.4h2.4v2.4h-2.4zM140 169h2.4v2.4h-2.4zM155 155.9h2.4v2.4h-2.4zM142 167.6h2.4v2.4h-2.4zM151.6 152.8h2.4v2.4h-2.4zM120.2 166.8h2.4v2.4h-2.4zM119.5 166.4h2.4v2.4h-2.4zM136.9 167h2.4v2.4h-2.4zM139 163.4h2.4v2.4h-2.4zM134.6 169.1h2.4v2.4h-2.4zM149.8 163.2h2.4v2.4h-2.4zM152.8 152.4h2.4v2.4h-2.4zM140.5 176.6h2.4v2.4h-2.4zM140.8 165.4h2.4v2.4h-2.4zM136.8 172.5h2.4v2.4h-2.4zM128.7 160.1h2.4v2.4h-2.4zM134.7 161.5h2.4v2.4h-2.4zM145 156.1h2.4v2.4h-2.4zM137.6 161.8h2.4v2.4h-2.4zM138.5 157.7h2.4v2.4h-2.4zM144.1 147.6h2.4v2.4h-2.4zM130 161.9h2.4v2.4h-2.4zM144.4 160h2.4v2.4h-2.4zM141.2 158.7h2.4v2.4h-2.4zM124.7 161.4h2.4v2.4h-2.4zM131.2 162.7h2.4v2.4h-2.4zM141.5 164.5h2.4v2.4h-2.4zM147.6 157h2.4v2.4h-2.4zM124.6 162h2.4v2.4h-2.4zM139 165.9h2.4v2.4h-2.4zM159.6 152.5h2.4v2.4h-2.4zM163.8 164.7h2.4v2.4h-2.4zM129.7 178.7h2.4v2.4h-2.4zM154.8 165.4h2.4v2.4h-2.4zM140.5 170.3h2.4v2.4h-2.4zM131.3 166.7h2.4v2.4h-2.4zM143.9 175.5h2.4v2.4h-2.4zM138.2 171.6h2.4v2.4h-2.4zM135.1 159h2.4v2.4h-2.4zM142.2 166.7h2.4v2.4h-2.4zM131.4 172.7h2.4v2.4h-2.4zM125.7 162.9h2.4v2.4h-2.4zM138.6 161h2.4v2.4h-2.4zM119.8 159.8h2.4v2.4h-2.4zM138.2 165.4h2.4v2.4h-2.4zM132.5 168.2h2.4v2.4h-2.4zM121.3 176.5h2.4v2.4h-2.4zM142.7 163.1h2.4v2.4h-2.4zM130.4 168.5h2.4v2.4h-2.4zM142.5 170.1h2.4v2.4h-2.4zM141.1 163.9h2.4v2.4h-2.4zM132.1 174.3h2.4v2.4h-2.4zM148.3 153.2h2.4v2.4h-2.4zM145.3 161.8h2.4v2.4h-2.4zM131.7 156h2.4v2.4h-2.4zM149.8 140.5h2.4v2.4h-2.4zM139 159.6h2.4v2.4h-2.4zM148.3 153.8h2.4v2.4h-2.4zM139.7 167.7h2.4v2.4h-2.4zM140.2 157.7h2.4v2.4h-2.4zM146.1 162.1h2.4v2.4h-2.4zM146.2 154.3h2.4v2.4h-2.4zM135 161.8h2.4v2.4h-2.4zM128.5 171.1h2.4v2.4h-2.4zM146.9 170.5h2.4v2.4h-2.4zM134.8 168.6h2.4v2.4h-2.4zM149.4 155.8h2.4v2.4h-2.4zM138.2 164.5h2.4v2.4h-2.4zM125.6 162.1h2.4v2.4h-2.4zM150.2 157.9h2.4v2.4h-2.4zM131.5 156.4h2.4v2.4h-2.4zM142.7 170.8h2.4v2.4h-2.4zM120.8 165.7h2.4v2.4h-2.4zM154.8 166.1h2.4v2.4h-2.4zM152.4 150.4h2.4v2.4h-2.4zM140.9 155.3h2.4v2.4h-2.4zM141.5 158.3h2.4v2.4h-2.4zM144.2 171.4h2.4v2.4h-2.4zM139.9 160.3h2.4v2.4h-2.4zM138.6 165.4h2.4v2.4h-2.4zM132 168.7h2.4v2.4h-2.4zM149.5 170.2h2.4v2.4h-2.4zM109.5 169.6h2.4v2.4h-2.4zM126.4 177.7h2.4v2.4h-2.4zM165 149.5h2.4v2.4h-2.4zM142.6 170.6h2.4v2.4h-2.4zM109 178.6h2.4v2.4h-2.4zM102.7 185.1h2.4v2.4h-2.4zM129.5 164.2h2.4v2.4h-2.4zM138.6 158h2.4v2.4h-2.4zM149.4 156.8h2.4v2.4h-2.4zM150.7 177.9h2.4v2.4h-2.4zM135.4 172.9h2.4v2.4h-2.4zM132.4 177.4h2.4v2.4h-2.4zM148.3 158.7h2.4v2.4h-2.4zM154.1 168h2.4v2.4h-2.4zM152.4 155.1h2.4v2.4h-2.4zM140.5 171.5h2.4v2.4h-2.4zM118.3 169.6h2.4v2.4h-2.4zM144.5 164.5h2.4v2.4h-2.4zM164.3 163.3h2.4v2.4h-2.4zM142.3 164.8h2.4v2.4h-2.4zM121.6 171.3h2.4v2.4h-2.4zM139.1 160.9h2.4v2.4h-2.4zM139.9 167.5h2.4v2.4h-2.4zM124.3 166.5h2.4v2.4h-2.4zM121.4 182.8h2.4v2.4h-2.4zM118.9 159.8h2.4v2.4h-2.4zM144.8 157.7h2.4v2.4h-2.4zM146.4 155.4h2.4v2.4h-2.4zM163.3 154.9h2.4v2.4h-2.4zM139.1 163.8h2.4v2.4h-2.4zM137.7 170.5h2.4v2.4h-2.4zM157.7 148.4h2.4v2.4h-2.4zM127.1 174.8h2.4v2.4h-2.4zM143.3 147.6h2.4v2.4h-2.4zM125.6 162h2.4v2.4h-2.4zM145.1 163.6h2.4v2.4h-2.4zM124.7 161.5h2.4v2.4h-2.4zM137 146.4h2.4v2.4h-2.4zM143.6 158.9h2.4v2.4h-2.4zM162 158.1h2.4v2.4h-2.4zM129.5 166h2.4v2.4h-2.4zM131.2 161.1h2.4v2.4h-2.4zM141.5 169.7h2.4v2.4h-2.4zM119.4 172.2h2.4v2.4h-2.4zM156.3 159.2h2.4v2.4h-2.4zM125 164.1h2.4v2.4h-2.4zM121.6 159.2h2.4v2.4h-2.4zM150 157.1h2.4v2.4h-2.4zM124 159.3h2.4v2.4h-2.4zM130.8 163.2h2.4v2.4h-2.4zM154.4 150h2.4v2.4h-2.4zM142.2 170.1h2.4v2.4h-2.4zM143.7 158.6h2.4v2.4h-2.4zM118 186.9h2.4v2.4h-2.4zM142 157.4h2.4v2.4h-2.4zM132.5 158.5h2.4v2.4h-2.4zM121.6 160.3h2.4v2.4h-2.4zM144.5 164.1h2.4v2.4h-2.4zM141.8 167.9h2.4v2.4h-2.4zM143.4 161.4h2.4v2.4h-2.4zM129.4 173.4h2.4v2.4h-2.4zM152.5 160.4h2.4v2.4h-2.4zM149.1 153h2.4v2.4h-2.4zM130.8 178.2h2.4v2.4h-2.4zM131.4 169.3h2.4v2.4h-2.4zM135 165.4h2.4v2.4h-2.4zM132 162.3h2.4v2.4h-2.4zM124.3 187.5h2.4v2.4h-2.4zM132.2 150.4h2.4v2.4h-2.4zM122.8 162.6h2.4v2.4h-2.4zM119.4 152.5h2.4v2.4h-2.4zM149.4 170.8h2.4v2.4h-2.4zM137 170.3h2.4v2.4h-2.4zM139.1 152.2h2.4v2.4h-2.4zM144.3 145.5h2.4v2.4h-2.4zM129.3 165.4h2.4v2.4h-2.4zM151.3 156.8h2.4v2.4h-2.4zM132.7 159.7h2.4v2.4h-2.4zM138.1 163.7h2.4v2.4h-2.4zM150.2 168.2h2.4v2.4h-2.4zM145.2 159.4h2.4v2.4h-2.4zM141.2 175.2h2.4v2.4h-2.4zM139.2 162.6h2.4v2.4h-2.4zM162.6 162.5h2.4v2.4h-2.4zM142.9 159.7h2.4v2.4h-2.4zM133.9 174.8h2.4v2.4h-2.4zM135.5 173h2.4v2.4h-2.4zM128.8 169.6h2.4v2.4h-2.4zM142 162.4h2.4v2.4h-2.4zM141 164.9h2.4v2.4h-2.4zM120.6 164.1h2.4v2.4h-2.4zM142 176.4h2.4v2.4h-2.4zM132.2 158.9h2.4v2.4h-2.4zM129.9 168.4h2.4v2.4h-2.4zM147.9 152.9h2.4v2.4h-2.4zM143.9 161.6h2.4v2.4h-2.4zM129.6 160.3h2.4v2.4h-2.4zM132.7 160.4h2.4v2.4h-2.4zM136.5 149.4h2.4v2.4h-2.4zM152.2 161.6h2.4v2.4h-2.4zM148.9 169.8h2.4v2.4h-2.4zM137.4 149.3h2.4v2.4h-2.4zM139.2 166.5h2.4v2.4h-2.4zM125.3 161.2h2.4v2.4h-2.4zM143.6 164.5h2.4v2.4h-2.4zM131.4 165.2h2.4v2.4h-2.4zM129.4 163.6h2.4v2.4h-2.4zM140.3 171.2h2.4v2.4h-2.4zM118.1 172.1h2.4v2.4h-2.4zM155.9 155.8h2.4v2.4h-2.4zM141.7 168.3h2.4v2.4h-2.4zM121.6 162.7h2.4v2.4h-2.4zM113.4 165.3h2.4v2.4h-2.4zM142.8 167.8h2.4v2.4h-2.4zM129.9 162.3h2.4v2.4h-2.4zM143.7 165.3h2.4v2.4h-2.4zM132.9 150.3h2.4v2.4h-2.4zM121.8 151.4h2.4v2.4h-2.4zM136.6 157.1h2.4v2.4h-2.4zM135.3 177.7h2.4v2.4h-2.4zM153.3 158.7h2.4v2.4h-2.4zM140.7 163.3h2.4v2.4h-2.4zM130.4 167.4h2.4v2.4h-2.4zM154.8 146.4h2.4v2.4h-2.4zM130.3 169.2h2.4v2.4h-2.4zM149.8 163.6h2.4v2.4h-2.4zM125.9 169.3h2.4v2.4h-2.4zM129.6 157.9h2.4v2.4h-2.4zM136.1 160.5h2.4v2.4h-2.4zM148.7 160.9h2.4v2.4h-2.4zM128.8 169.4h2.4v2.4h-2.4zM130.8 162.2h2.4v2.4h-2.4zM135.6 173.8h2.4v2.4h-2.4zM126.2 155.8h2.4v2.4h-2.4zM131.5 174h2.4v2.4h-2.4zM156.7 143.7h2.4v2.4h-2.4zM131.9 164.2h2.4v2.4h-2.4zM123.1 175.4h2.4v2.4h-2.4zM137.5 166.1h2.4v2.4h-2.4zM160.5 148.2h2.4v2.4h-2.4zM148.7 164.3h2.4v2.4h-2.4zM127.9 164.3h2.4v2.4h-2.4zM156.7 158.7h2.4v2.4h-2.4zM134.6 156.2h2.4v2.4h-2.4zM148.6 161.7h2.4v2.4h-2.4zM166.4 159.4h2.4v2.4h-2.4zM146.8 160.6h2.4v2.4h-2.4zM135.7 160.1h2.4v2.4h-2.4zM141.3 163.6h2.4v2.4h-2.4zM148.1 166.7h2.4v2.4h-2.4zM138.4 158.6h2.4v2.4h-2.4zM151.5 168.7h2.4v2.4h-2.4zM129.4 171.9h2.4v2.4h-2.4zM145 163.9h2.4v2.4h-2.4zM142.2 160.2h2.4v2.4h-2.4zM142 175.3h2.4v2.4h-2.4zM150.9 144.2h2.4v2.4h-2.4zM110.8 182.8h2.4v2.4h-2.4zM127.7 165h2.4v2.4h-2.4zM120.8 176.3h2.4v2.4h-2.4zM134.4 160.9h2.4v2.4h-2.4zM155.7 173.7h2.4v2.4h-2.4zM157.4 162.1h2.4v2.4h-2.4zM134.9 170.8h2.4v2.4h-2.4zM140.8 171.5h2.4v2.4h-2.4zM143.2 160.1h2.4v2.4h-2.4zM140.4 156h2.4v2.4h-2.4zM151.2 168.5h2.4v2.4h-2.4zM135.1 169.8h2.4v2.4h-2.4zM122.2 180.4h2.4v2.4h-2.4zM142.9 152h2.4v2.4h-2.4zM156.5 153.7h2.4v2.4h-2.4zM113.1 166.3h2.4v2.4h-2.4zM145.6 156.8h2.4v2.4h-2.4zM143.4 147.2h2.4v2.4h-2.4zM139.5 170.8h2.4v2.4h-2.4zM132.1 172.6h2.4v2.4h-2.4zM134.3 168.4h2.4v2.4h-2.4zM148.7 176.1h2.4v2.4h-2.4zM126.3 176.7h2.4v2.4h-2.4zM147.3 148.6h2.4v2.4h-2.4zM146.3 178.1h2.4v2.4h-2.4zM137.7 138.7h2.4v2.4h-2.4zM128.2 154.7h2.4v2.4h-2.4zM137.7 157.5h2.4v2.4h-2.4zM127.8 162.3h2.4v2.4h-2.4zM138.5 159.2h2.4v2.4h-2.4zM126.3 168.3h2.4v2.4h-2.4zM138.3 156h2.4v2.4h-2.4zM143.1 146.5h2.4v2.4h-2.4zM140 159h2.4v2.4h-2.4zM151.9 150h2.4v2.4h-2.4zM124.9 159.7h2.4v2.4h-2.4zM161 155.4h2.4v2.4h-2.4zM123.9 168.7h2.4v2.4h-2.4zM132.1 179.7h2.4v2.4h-2.4zM134.2 148.5h2.4v2.4h-2.4zM142.6 168.5h2.4v2.4h-2.4zM138.7 167h2.4v2.4h-2.4zM136.6 166h2.4v2.4h-2.4zM136.8 158.2h2.4v2.4h-2.4zM141.4 162.8h2.4v2.4h-2.4zM134.1 159.9h2.4v2.4h-2.4zM126.8 172h2.4v2.4h-2.4zM137.2 143.5h2.4v2.4h-2.4zM136.1 175.9h2.4v2.4h-2.4zM144.4 153.7h2.4v2.4h-2.4zM148.2 149.2h2.4v2.4h-2.4zM135.4 181.2h2.4v2.4h-2.4zM131.4 165.4h2.4v2.4h-2.4zM115.3 168h2.4v2.4h-2.4zM123.6 170.6h2.4v2.4h-2.4zM120.8 182.3h2.4v2.4h-2.4zM130.9 162.4h2.4v2.4h-2.4zM132.8 172.7h2.4v2.4h-2.4zM152.3 151.7h2.4v2.4h-2.4zM160.5 164h2.4v2.4h-2.4zM152.8 157.4h2.4v2.4h-2.4zM123.2 177.7h2.4v2.4h-2.4zM133.2 167.8h2.4v2.4h-2.4zM115.3 174.1h2.4v2.4h-2.4zM136.1 156.6h2.4v2.4h-2.4zM146.3 172.7h2.4v2.4h-2.4zM137 158.2h2.4v2.4h-2.4zM155.3 135.3h2.4v2.4h-2.4zM128.4 172.4h2.4v2.4h-2.4zM122.2 153.2h2.4v2.4h-2.4zM142.9 167.6h2.4v2.4h-2.4zM133.6 178.3h2.4v2.4h-2.4zM146.8 168.4h2.4v2.4h-2.4zM120.3 173.6h2.4v2.4h-2.4zM161.9 166.6h2.4v2.4h-2.4zM151.4 155.7h2.4v2.4h-2.4zM136.7 158.9h2.4v2.4h-2.4zM146.5 152.6h2.4v2.4h-2.4zM130.8 150.2h2.4v2.4h-2.4zM127 184.8h2.4v2.4h-2.4zM138.4 165h2.4v2.4h-2.4zM112.8 177.7h2.4v2.4h-2.4zM154.3 141.4h2.4v2.4h-2.4zM110.3 178h2.4v2.4h-2.4zM130.4 166h2.4v2.4h-2.4zM118.2 163.4h2.4v2.4h-2.4zM125.8 175.9h2.4v2.4h-2.4zM139.5 169.5h2.4v2.4h-2.4zM127.3 174.6h2.4v2.4h-2.4zM132.5 167.4h2.4v2.4h-2.4zM147.4 158.3h2.4v2.4h-2.4zM127 155.7h2.4v2.4h-2.4zM140.6 168.6h2.4v2.4h-2.4zM129.8 167.6h2.4v2.4h-2.4zM112.6 166.8h2.4v2.4h-2.4zM146.2 169.7h2.4v2.4h-2.4zM127.5 155.4h2.4v2.4h-2.4zM127.1 156.5h2.4v2.4h-2.4zM141.1 178h2.4v2.4h-2.4zM139.7 161.1h2.4v2.4h-2.4zM147 155h2.4v2.4h-2.4zM141.4 163.2h2.4v2.4h-2.4zM136.5 151.8h2.4v2.4h-2.4zM148.1 165.1h2.4v2.4h-2.4zM101.8 161.3h2.4v2.4h-2.4zM132.6 179.2h2.4v2.4h-2.4zM139.7 168.2h2.4v2.4h-2.4zM146.4 166.1h2.4v2.4h-2.4zM127.8 164.3h2.4v2.4h-2.4zM143.4 165.5h2.4v2.4h-2.4zM144.6 162.5h2.4v2.4h-2.4zM135.7 174.1h2.4v2.4h-2.4zM146.1 167.8h2.4v2.4h-2.4zM112.6 186.7h2.4v2.4h-2.4zM110.8 180.9h2.4v2.4h-2.4zM130.1 169h2.4v2.4h-2.4zM130.6 165.1h2.4v2.4h-2.4zM140.4 165h2.4v2.4h-2.4zM118.8 152.9h2.4v2.4h-2.4zM130.4 172.5h2.4v2.4h-2.4zM129.2 172.1h2.4v2.4h-2.4zM129.4 160.3h2.4v2.4h-2.4zM156.1 167.1h2.4v2.4h-2.4zM135.7 164.3h2.4v2.4h-2.4zM142.7 149.4h2.4v2.4h-2.4zM131.5 176.8h2.4v2.4h-2.4zM145.2 155.1h2.4v2.4h-2.4zM129.7 171.2h2.4v2.4h-2.4zM119.5 169.8h2.4v2.4h-2.4zM125.3 149.7h2.4v2.4h-2.4zM146.4 165.1h2.4v2.4h-2.4zM143.5 147.9h2.4v2.4h-2.4zM119.7 167h2.4v2.4h-2.4zM130.1 185.6h2.4v2.4h-2.4zM125 168.3h2.4v2.4h-2.4zM141 165.6h2.4v2.4h-2.4zM149.1 147.7h2.4v2.4h-2.4zM147.4 159.3h2.4v2.4h-2.4zM124.5 172.5h2.4v2.4h-2.4zM127.4 183.5h2.4v2.4h-2.4zM132.6 175.2h2.4v2.4h-2.4zM149.2 151.6h2.4v2.4h-2.4zM127.5 170.6h2.4v2.4h-2.4zM128.6 176.6h2.4v2.4h-2.4zM136.1 157.9h2.4v2.4h-2.4zM132 173.1h2.4v2.4h-2.4zM127.1 184.2h2.4v2.4h-2.4zM127.5 167.8h2.4v2.4h-2.4zM132.7 180.4h2.4v2.4h-2.4zM151.1 167.1h2.4v2.4h-2.4zM144.6 160.4h2.4v2.4h-2.4zM158.4 157.3h2.4v2.4h-2.4zM144 164.9h2.4v2.4h-2.4zM146.3 161h2.4v2.4h-2.4zM129.2 154.8h2.4v2.4h-2.4zM155.2 142.3h2.4v2.4h-2.4zM110.2 173.3h2.4v2.4h-2.4zM163.2 159.4h2.4v2.4h-2.4zM131.2 169.6h2.4v2.4h-2.4zM129.3 151.3h2.4v2.4h-2.4zM134.3 168.1h2.4v2.4h-2.4zM145.7 148.6h2.4v2.4h-2.4zM105.8 168.4h2.4v2.4h-2.4zM141 162.4h2.4v2.4h-2.4zM139.2 164h2.4v2.4h-2.4zM127.8 157.5h2.4v2.4h-2.4zM143.5 163.6h2.4v2.4h-2.4zM148.2 168.3h2.4v2.4h-2.4zM114.3 156.9h2.4v2.4h-2.4zM125 189.4h2.4v2.4h-2.4zM128.2 172.5h2.4v2.4h-2.4zM139.6 168.8h2.4v2.4h-2.4zM171.2 139.8h2.4v2.4h-2.4zM132.8 161.2h2.4v2.4h-2.4zM141.7 165.8h2.4v2.4h-2.4zM131 178.9h2.4v2.4h-2.4zM151.6 159.4h2.4v2.4h-2.4zM134.9 163.2h2.4v2.4h-2.4zM121 178.9h2.4v2.4h-2.4zM124.1 167.1h2.4v2.4h-2.4zM144.8 151.6h2.4v2.4h-2.4zM134.3 173h2.4v2.4h-2.4zM155.3 147.4h2.4v2.4h-2.4zM147 152.6h2.4v2.4h-2.4zM143.2 164.6h2.4v2.4h-2.4zM128 178.1h2.4v2.4h-2.4zM157.5 152.6h2.4v2.4h-2.4zM135.6 154.6h2.4v2.4h-2.4zM157.4 152.8h2.4v2.4h-2.4zM125.5 177.3h2.4v2.4h-2.4zM118 169h2.4v2.4h-2.4zM118.2 186.8h2.4v2.4h-2.4zM159.5 145.5h2.4v2.4h-2.4zM127.5 164.5h2.4v2.4h-2.4zM132.7 171.3h2.4v2.4h-2.4zM149.6 148h2.4v2.4h-2.4zM135.2 149.4h2.4v2.4h-2.4zM153.8 153.5h2.4v2.4h-2.4zM134.9 178.5h2.4v2.4h-2.4zM140.9 173.6h2.4v2.4h-2.4zM155.3 167.8h2.4v2.4h-2.4zM128.2 169.6h2.4v2.4h-2.4zM140.4 160.3h2.4v2.4h-2.4zM151.5 149.5h2.4v2.4h-2.4zM153.4 166.3h2.4v2.4h-2.4zM111.4 170.4h2.4v2.4h-2.4zM124.8 166.3h2.4v2.4h-2.4zM140.7 160.3h2.4v2.4h-2.4zM136.2 160.5h2.4v2.4h-2.4zM137.9 167.7h2.4v2.4h-2.4zM142.5 154.1h2.4v2.4h-2.4zM132.9 159.8h2.4v2.4h-2.4zM129.6 155.8h2.4v2.4h-2.4zM150.3 162.2h2.4v2.4h-2.4zM133.1 160.4h2.4v2.4h-2.4zM129.4 162.6h2.4v2.4h-2.4zM125.7 184.6h2.4v2.4h-2.4zM169.4 134.6h2.4v2.4h-2.4zM126 175.3h2.4v2.4h-2.4zM137.9 149.8h2.4v2.4h-2.4zM117.4 180h2.4v2.4h-2.4zM119.9 186.2h2.4v2.4h-2.4zM131.7 167.8h2.4v2.4h-2.4zM134.9 160.4h2.4v2.4h-2.4zM134.3 163h2.4v2.4h-2.4zM150.7 155.3h2.4v2.4h-2.4zM134.7 160.8h2.4v2.4h-2.4zM127.1 163.3h2.4v2.4h-2.4zM144 175.9h2.4v2.4h-2.4zM150.4 158.3h2.4v2.4h-2.4zM159.6 159.7h2.4v2.4h-2.4zM138.7 161.6h2.4v2.4h-2.4zM125.6 172.7h2.4v2.4h-2.4zM127.5 155.8h2.4v2.4h-2.4zM129.8 184.9h2.4v2.4h-2.4zM141.3 165.8h2.4v2.4h-2.4zM137.5 159.7h2.4v2.4h-2.4zM146.3 168h2.4v2.4h-2.4zM135.4 169.3h2.4v2.4h-2.4zM146.7 154.2h2.4v2.4h-2.4zM136.1 158.1h2.4v2.4h-2.4zM142.4 157.7h2.4v2.4h-2.4zM147 151.6h2.4v2.4h-2.4zM154.9 151h2.4v2.4h-2.4zM124.2 163.6h2.4v2.4h-2.4zM141.3 154.1h2.4v2.4h-2.4zM162.1 160.6h2.4v2.4h-2.4zM137.5 151.4h2.4v2.4h-2.4zM134 159.4h2.4v2.4h-2.4zM118.2 178.5h2.4v2.4h-2.4zM159.8 146.2h2.4v2.4h-2.4zM150.9 167.1h2.4v2.4h-2.4zM124.9 168h2.4v2.4h-2.4zM141.8 165.3h2.4v2.4h-2.4zM124.9 172.9h2.4v2.4h-2.4zM139.4 170.9h2.4v2.4h-2.4zM116.9 170.7h2.4v2.4h-2.4zM130.1 165.2h2.4v2.4h-2.4zM142.8 155.2h2.4v2.4h-2.4zM151 137.6h2.4v2.4h-2.4zM134.6 169h2.4v2.4h-2.4zM129.9 159.5h2.4v2.4h-2.4zM105.6 178h2.4v2.4h-2.4zM127.6 164.8h2.4v2.4h-2.4zM128.8 168.8h2.4v2.4h-2.4zM101.3 174h2.4v2.4h-2.4zM134.8 152.7h2.4v2.4h-2.4zM101.9 173.5h2.4v2.4h-2.4zM125 153.3h2.4v2.4h-2.4zM111.8 187.1h2.4v2.4h-2.4zM120.1 196.4h2.4v2.4h-2.4zM133.4 188h2.4v2.4h-2.4zM120 170h2.4v2.4h-2.4zM108.2 176.2h2.4v2.4h-2.4zM111.2 176.1h2.4v2.4h-2.4zM121.7 154.4h2.4v2.4h-2.4zM94.7 166.6h2.4v2.4h-2.4zM137.8 154.8h2.4v2.4h-2.4zM117.5 170.8h2.4v2.4h-2.4zM133.1 162.6h2.4v2.4h-2.4zM128.5 161h2.4v2.4h-2.4zM116.1 171.9h2.4v2.4h-2.4zM98.8 197.8h2.4v2.4h-2.4zM91.7 180.9h2.4v2.4h-2.4zM127.3 164.3h2.4v2.4h-2.4zM137.8 173.9h2.4v2.4h-2.4zM150.2 160.8h2.4v2.4h-2.4zM125.7 187.1h2.4v2.4h-2.4zM105.8 179.6h2.4v2.4h-2.4zM130.2 159.1h2.4v2.4h-2.4zM114.5 169.9h2.4v2.4h-2.4zM123.4 140.2h2.4v2.4h-2.4zM140.6 164.8h2.4v2.4h-2.4zM120 175.5h2.4v2.4h-2.4zM110.8 188.6h2.4v2.4h-2.4zM154.2 132.8h2.4v2.4h-2.4zM136.4 156h2.4v2.4h-2.4zM110.9 171.3h2.4v2.4h-2.4zM108.9 164.6h2.4v2.4h-2.4zM108.5 196.3h2.4v2.4h-2.4zM120.7 174.9h2.4v2.4h-2.4zM124.7 170.9h2.4v2.4h-2.4zM92.6 180.6h2.4v2.4h-2.4zM131.7 171.1h2.4v2.4h-2.4zM99.6 179.1h2.4v2.4h-2.4zM107.1 186.6h2.4v2.4h-2.4zM122.8 167.6h2.4v2.4h-2.4zM111.1 180.1h2.4v2.4h-2.4zM114.5 165.7h2.4v2.4h-2.4zM119 163.1h2.4v2.4h-2.4zM134 165.2h2.4v2.4h-2.4zM111.9 182.1h2.4v2.4h-2.4zM115.2 165.6h2.4v2.4h-2.4zM97.1 169.4h2.4v2.4h-2.4zM104.7 185.2h2.4v2.4h-2.4zM130.9 154.2h2.4v2.4h-2.4zM121.9 171.6h2.4v2.4h-2.4zM130.8 165.8h2.4v2.4h-2.4zM138.4 163.3h2.4v2.4h-2.4zM109.9 181.6h2.4v2.4h-2.4zM85.7 194.3h2.4v2.4h-2.4zM121.3 174.7h2.4v2.4h-2.4zM118.3 179.7h2.4v2.4h-2.4zM131.3 151.6h2.4v2.4h-2.4zM112.1 178.4h2.4v2.4h-2.4zM125.3 166.8h2.4v2.4h-2.4zM122.9 154.4h2.4v2.4h-2.4zM134.5 170.7h2.4v2.4h-2.4zM135.1 162.2h2.4v2.4h-2.4zM116.9 176.2h2.4v2.4h-2.4zM108.7 161.2h2.4v2.4h-2.4zM109.7 177.1h2.4v2.4h-2.4zM106.2 170.2h2.4v2.4h-2.4zM112.9 170.9h2.4v2.4h-2.4zM118.7 170h2.4v2.4h-2.4zM125.5 175.9h2.4v2.4h-2.4zM122 172.3h2.4v2.4h-2.4zM86.2 164h2.4v2.4h-2.4zM116.2 179.7h2.4v2.4h-2.4zM110.2 170.4h2.4v2.4h-2.4zM106.1 189.9h2.4v2.4h-2.4zM112.2 178.2h2.4v2.4h-2.4zM136 162.8h2.4v2.4h-2.4zM147.4 146.6h2.4v2.4h-2.4zM134.4 165.6h2.4v2.4h-2.4zM109.5 178.2h2.4v2.4h-2.4zM105.1 170h2.4v2.4h-2.4zM118 162.7h2.4v2.4h-2.4zM136.6 148.5h2.4v2.4h-2.4zM111.2 177.3h2.4v2.4h-2.4zM111.3 176.8h2.4v2.4h-2.4zM102.4 167.8h2.4v2.4h-2.4zM78.9 187.6h2.4v2.4h-2.4zM140.7 158.1h2.4v2.4h-2.4zM117.6 166.3h2.4v2.4h-2.4zM117.6 174.5h2.4v2.4h-2.4zM95.2 180.2h2.4v2.4h-2.4zM112.7 188.8h2.4v2.4h-2.4zM110 189.9h2.4v2.4h-2.4zM126 194.1h2.4v2.4h-2.4zM117.1 172h2.4v2.4h-2.4zM140.7 162.7h2.4v2.4h-2.4zM125 154h2.4v2.4h-2.4zM142 170.4h2.4v2.4h-2.4zM114.1 168.8h2.4v2.4h-2.4zM108.7 189.2h2.4v2.4h-2.4zM122 168h2.4v2.4h-2.4zM109.9 194.8h2.4v2.4h-2.4zM129.6 161.7h2.4v2.4h-2.4zM132.8 149.2h2.4v2.4h-2.4zM124.6 155.1h2.4v2.4h-2.4zM135.5 154.4h2.4v2.4h-2.4zM132.2 155.4h2.4v2.4h-2.4zM129.3 174.5h2.4v2.4h-2.4zM106.4 181.1h2.4v2.4h-2.4zM111.2 185.5h2.4v2.4h-2.4zM108 174.8h2.4v2.4h-2.4zM121.4 180.9h2.4v2.4h-2.4zM103.9 181.7h2.4v2.4h-2.4zM110.7 170.8h2.4v2.4h-2.4zM106.6 178.2h2.4v2.4h-2.4zM112.5 158.6h2.4v2.4h-2.4zM114.9 160.6h2.4v2.4h-2.4zM130.1 186.1h2.4v2.4h-2.4zM104.7 180.7h2.4v2.4h-2.4zM119.7 180.2h2.4v2.4h-2.4zM102.3 164h2.4v2.4h-2.4zM97.3 189h2.4v2.4h-2.4zM101.2 163.5h2.4v2.4h-2.4zM95.6 173.2h2.4v2.4h-2.4zM96 181.2h2.4v2.4h-2.4zM91.5 164.8h2.4v2.4h-2.4zM104 165.6h2.4v2.4h-2.4zM85.1 174h2.4v2.4h-2.4zM84.7 176.4h2.4v2.4h-2.4zM96.4 166.3h2.4v2.4h-2.4zM95.1 167.5h2.4v2.4h-2.4zM99.3 148.9h2.4v2.4h-2.4zM78.3 177.6h2.4v2.4h-2.4zM93 160.7h2.4v2.4h-2.4zM95.7 169h2.4v2.4h-2.4zM89.8 156.2h2.4v2.4h-2.4zM90.8 177.7h2.4v2.4h-2.4zM99.7 168.9h2.4v2.4h-2.4zM82.9 168.1h2.4v2.4h-2.4zM92.9 146.8h2.4v2.4h-2.4zM92.2 178.4h2.4v2.4h-2.4zM101.6 183.2h2.4v2.4h-2.4zM98.7 162.8h2.4v2.4h-2.4zM103.3 174.5h2.4v2.4h-2.4zM94.2 156.7h2.4v2.4h-2.4zM93.1 145.6h2.4v2.4h-2.4zM93.5 173.2h2.4v2.4h-2.4zM91.2 161.5h2.4v2.4h-2.4zM109.5 146.7h2.4v2.4h-2.4zM92.3 177.9h2.4v2.4h-2.4zM89.9 172.6h2.4v2.4h-2.4zM100.3 152.2h2.4v2.4h-2.4zM95 166.6h2.4v2.4h-2.4zM95.1 182.5h2.4v2.4h-2.4zM97.6 177.1h2.4v2.4h-2.4zM90.7 170.2h2.4v2.4h-2.4zM103 145.8h2.4v2.4h-2.4zM89.4 172.5h2.4v2.4h-2.4zM106.7 160.2h2.4v2.4h-2.4zM96.1 156.3h2.4v2.4h-2.4zM86.5 178.6h2.4v2.4h-2.4zM95.6 167h2.4v2.4h-2.4zM97.9 175.8h2.4v2.4h-2.4zM87.1 176.4h2.4v2.4h-2.4zM99.6 159.3h2.4v2.4h-2.4zM97.7 171.8h2.4v2.4h-2.4zM95.9 186.3h2.4v2.4h-2.4zM114.6 139.6h2.4v2.4h-2.4zM104.8 166.8h2.4v2.4h-2.4zM101.5 166.6h2.4v2.4h-2.4zM95 168h2.4v2.4h-2.4zM89.3 155.1h2.4v2.4h-2.4zM102.1 170.7h2.4v2.4h-2.4zM101 153.4h2.4v2.4h-2.4zM102.4 164.8h2.4v2.4h-2.4zM87.7 157.4h2.4v2.4h-2.4zM89.1 176.9h2.4v2.4h-2.4zM93.6 162.3h2.4v2.4h-2.4zM102.3 169.2h2.4v2.4h-2.4zM102.3 153.7h2.4v2.4h-2.4zM95.4 164.9h2.4v2.4h-2.4zM97.9 160.6h2.4v2.4h-2.4zM95.2 175.9h2.4v2.4h-2.4zM90.9 175.8h2.4v2.4h-2.4zM87.9 167.7h2.4v2.4h-2.4zM97.6 156.9h2.4v2.4h-2.4zM89.1 180.2h2.4v2.4h-2.4zM95.1 185.6h2.4v2.4h-2.4zM106.8 161.6h2.4v2.4h-2.4zM95.6 173.7h2.4v2.4h-2.4zM86.4 176.3h2.4v2.4h-2.4zM96.5 166.9h2.4v2.4h-2.4zM98.2 152.4h2.4v2.4h-2.4zM104.8 152.2h2.4v2.4h-2.4zM90 176.2h2.4v2.4h-2.4zM98.6 179.9h2.4v2.4h-2.4zM96.5 173.7h2.4v2.4h-2.4zM98.2 152.6h2.4v2.4h-2.4zM94.3 172h2.4v2.4h-2.4zM85.4 173h2.4v2.4h-2.4zM92 178.2h2.4v2.4h-2.4zM104.2 165.5h2.4v2.4h-2.4zM88.6 189.8h2.4v2.4h-2.4zM94.9 182.1h2.4v2.4h-2.4zM98.9 156.1h2.4v2.4h-2.4zM209.1 107.8h1.9v1.9h-1.9zM181.9 116.5h1.9v1.9h-1.9zM185.6 126.5h1.9v1.9h-1.9zM206.9 126.2h1.9v1.9h-1.9zM186.5 117.2h1.9v1.9h-1.9zM187 120h1.9v1.9h-1.9zM185.6 121.1h1.9v1.9h-1.9zM182.3 126.7h1.9v1.9h-1.9zM186.1 123.3h1.9v1.9h-1.9zM177 131.8h1.9v1.9h-1.9zM202.8 122h1.9v1.9h-1.9zM181.3 116h1.9v1.9h-1.9zM172.1 121h1.9v1.9h-1.9zM183.9 123.1h1.9v1.9h-1.9zM174.6 138.5h1.9v1.9h-1.9zM171.4 126.4h1.9v1.9h-1.9zM188 132.4h1.9v1.9h-1.9zM213.5 105.5h1.9v1.9h-1.9zM188 119.9h1.9v1.9h-1.9zM189.8 121.1h1.9v1.9h-1.9zM217.8 95.5h1.9v1.9h-1.9zM188.2 115.7h1.9v1.9h-1.9zM195 114.5h1.9v1.9h-1.9zM195.1 108.7h1.9v1.9h-1.9zM219.3 108h1.9v1.9h-1.9zM174.9 138.7h1.9v1.9h-1.9zM182.2 115.3h1.9v1.9h-1.9zM196 113.9h1.9v1.9h-1.9zM199.4 111.7h1.9v1.9h-1.9zM204.5 115.9h1.9v1.9h-1.9zM198 119.7h1.9v1.9h-1.9zM187 120.7h1.9v1.9h-1.9zM201.6 123.3h1.9v1.9h-1.9zM198.1 141.1h1.9v1.9h-1.9zM208.2 100.5h1.9v1.9h-1.9zM205.7 112.9h1.9v1.9h-1.9zM192.3 113.3h1.9v1.9h-1.9zM209.1 103.2h1.9v1.9h-1.9zM188.8 116h1.9v1.9h-1.9zM221.7 117.3h1.9v1.9h-1.9zM175.2 126.7h1.9v1.9h-1.9zM195.5 115.2h1.9v1.9h-1.9zM184 115.2h1.9v1.9h-1.9zM191.2 110.9h1.9v1.9h-1.9zM213.6 133.7h1.9v1.9h-1.9zM196.4 135.9h1.9v1.9h-1.9zM194.5 113.3h1.9v1.9h-1.9zM184.6 116h1.9v1.9h-1.9zM197.5 125.6h1.9v1.9h-1.9zM202.9 112.4h1.9v1.9h-1.9zM178.4 128.7h1.9v1.9h-1.9zM214.3 111.6h1.9v1.9h-1.9zM183.1 105.5h1.9v1.9h-1.9zM190.2 128.2h1.9v1.9h-1.9zM187.7 137.9h1.9v1.9h-1.9zM182.4 118.2h1.9v1.9h-1.9zM185.7 124.3h1.9v1.9h-1.9zM202.5 109.8h1.9v1.9h-1.9zM171.4 132.7h1.9v1.9h-1.9zM206.1 129.2h1.9v1.9h-1.9zM186.2 140.1h1.9v1.9h-1.9zM203.1 119.8h1.9v1.9h-1.9zM180 119.6h1.9v1.9h-1.9zM185.7 134.7h1.9v1.9h-1.9zM200.3 127.7h1.9v1.9h-1.9zM214.8 108.6h1.9v1.9h-1.9zM200.9 136h1.9v1.9h-1.9zM175.5 126.6h1.9v1.9h-1.9zM186.9 120.7h1.9v1.9h-1.9zM191 113.6h1.9v1.9h-1.9zM180.9 80.1h1.9v1.9h-1.9zM111.5 115.4h1.9v1.9h-1.9zM106 152.1h1.9v1.9h-1.9zM170.2 103.5h1.9v1.9h-1.9zM182.7 108.2h1.9v1.9h-1.9zM130.1 129h1.9v1.9h-1.9zM175.3 133h1.9v1.9h-1.9zM137.4 130.8h1.9v1.9h-1.9zM176.4 120.8h1.9v1.9h-1.9zM171.3 121.5h1.9v1.9h-1.9zM112.1 136.1h1.9v1.9h-1.9zM83.8 155.6h1.9v1.9h-1.9zM231 74.9h1.9v1.9h-1.9zM154.8 119.2h1.9v1.9h-1.9zM146.6 100.6h1.9v1.9h-1.9zM125.3 129.8h1.9v1.9h-1.9zM150.3 105.2h1.9v1.9h-1.9zM141.8 112.1h1.9v1.9h-1.9zM100.9 136.7h1.9v1.9h-1.9zM128 143.1h1.9v1.9h-1.9zM199.3 98.1h1.9v1.9h-1.9zM139.3 116.1h1.9v1.9h-1.9zM93.2 143.1h1.9v1.9h-1.9zM210.7 100h1.9v1.9h-1.9zM156.1 110.9h1.9v1.9h-1.9zM152.9 122.6h1.9v1.9h-1.9zM152.5 122.9h1.9v1.9h-1.9zM124.1 133.7h1.9v1.9h-1.9zM144.9 136.8h1.9v1.9h-1.9zM116 156.7h1.9v1.9h-1.9zM143.9 114.2h1.9v1.9h-1.9zM151.6 119h1.9v1.9h-1.9zM144.8 127.3h1.9v1.9h-1.9zM119.6 110.8h1.9v1.9h-1.9zM173.6 104.1h1.9v1.9h-1.9zM144.5 116.9h1.9v1.9h-1.9zM100.2 130.2h1.9v1.9h-1.9zM156.6 120h1.9v1.9h-1.9zM91 126.9h1.9v1.9h-1.9zM83 135.9h1.9v1.9h-1.9zM120.4 110.5h1.9v1.9h-1.9zM122.7 127.7h1.9v1.9h-1.9zM125.8 112.3h1.9v1.9h-1.9zM96.3 116.1h1.9v1.9h-1.9zM88.2 131.3h1.9v1.9h-1.9zM115.7 132.9h1.9v1.9h-1.9zM116.5 117.9h1.9v1.9h-1.9zM88.4 142.4h1.9v1.9h-1.9zM115.1 121h1.9v1.9h-1.9zM90.6 118.3h1.9v1.9h-1.9zM121.8 110.6h1.9v1.9h-1.9zM124.5 124.4h1.9v1.9h-1.9zM101.1 110.3h1.9v1.9h-1.9zM123 131.9h1.9v1.9h-1.9zM182.4 137.6h1.9v1.9h-1.9zM123.6 163h1.9v1.9h-1.9zM164.8 166.4h1.9v1.9h-1.9zM125.7 196.7h1.9v1.9h-1.9zM140.5 156.3h1.9v1.9h-1.9zM217 50.8h1.9v1.9h-1.9zM199.3 64.7h1.9v1.9h-1.9zM220.7 57.5h1.9v1.9h-1.9zM223.6 69.8h1.9v1.9h-1.9zM108.9 110.9h1.9v1.9h-1.9zM208.6 91.6h1.9v1.9h-1.9zM116.3 172.4h1.9v1.9h-1.9zM171.4 149.7h1.9v1.9h-1.9zM122.8 123.9h1.9v1.9h-1.9zM121.7 134.7h1.9v1.9h-1.9zM205.4 106.7h1.9v1.9h-1.9zM192.4 83.4h1.9v1.9h-1.9zM206.7 118.6h1.9v1.9h-1.9zM215.3 45.5h1.9v1.9h-1.9zM230.7 86.7h1.9v1.9h-1.9zM181.4 88.8h1.9v1.9h-1.9zM152 172.3h1.9v1.9h-1.9zM203.2 102.8h1.9v1.9h-1.9zM212.3 139.9h1.9v1.9h-1.9zM130.3 174.1h1.9v1.9h-1.9zM120.5 87.4h1.9v1.9h-1.9zM147.3 84.6h1.9v1.9h-1.9zM215 83.7h1.9v1.9h-1.9zM230.7 55.6h1.9v1.9h-1.9zM170.5 108.3h1.9v1.9h-1.9zM123.6 197.3h1.9v1.9h-1.9zM207.2 41.5h1.9v1.9h-1.9zM207.2 120.3h1.9v1.9h-1.9zM225.5 82.9h1.9v1.9h-1.9zM201.7 97.1h1.9v1.9h-1.9zM198.8 72.7h1.9v1.9h-1.9zM176.5 166.5h1.9v1.9h-1.9zM204.1 132.7h1.9v1.9h-1.9zM232.5 45.3h1.9v1.9h-1.9zM140.8 135.3h1.9v1.9h-1.9zM110.2 76.1h1.9v1.9h-1.9zM220.3 59.3h1.9v1.9h-1.9zM178.8 113.9h1.9v1.9h-1.9zM228.6 14.7h1.9v1.9h-1.9zM190.1 113h1.9v1.9h-1.9zM160 85.7h1.9v1.9h-1.9zM205.7 45.4h1.9v1.9h-1.9zM103.9 172.6h1.9v1.9h-1.9zM165.1 189.2h1.9v1.9h-1.9zM234.6 74.6h1.9v1.9h-1.9zM224.4 71.9h1.9v1.9h-1.9zM200.7 101.1h1.9v1.9h-1.9zM217.9 42.9h1.9v1.9h-1.9zM216.9 90.2h1.9v1.9h-1.9zM162.5 145.6h1.9v1.9h-1.9zM195.5 52.9h1.9v1.9h-1.9zM227.4 97.9h1.9v1.9h-1.9zM215.1 61h1.9v1.9h-1.9zM219.8 83.8h1.9v1.9h-1.9zM183 70.8h1.9v1.9h-1.9zM154 196.2h1.9v1.9h-1.9zM152.5 90.5h1.9v1.9h-1.9zM205.2 151.6h1.9v1.9h-1.9zM233.5 54.3h1.9v1.9h-1.9zM164.3 93.3h1.9v1.9h-1.9zM233.7 119.5h1.9v1.9h-1.9zM202.1 96.4h1.9v1.9h-1.9zM184.1 143.6h1.9v1.9h-1.9zM150.1 148.7h1.9v1.9h-1.9zM140.4 119.3h1.9v1.9h-1.9zM114.7 173h1.9v1.9h-1.9zM192.3 69.6h1.9v1.9h-1.9zM133.6 157.3h1.9v1.9h-1.9zM200.4 72.2h1.9v1.9h-1.9zM112.7 102.1h1.9v1.9h-1.9zM179.2 96.7h1.9v1.9h-1.9zM173.1 151.2h1.9v1.9h-1.9zM127.4 77.5h1.9v1.9h-1.9zM133.4 151.3h1.9v1.9h-1.9zM105.5 151.7h1.9v1.9h-1.9zM197.4 40.2h1.9v1.9h-1.9zM80.2 183.8h1.9v1.9h-1.9zM170 97.2h1.9v1.9h-1.9zM167.3 102.8h1.9v1.9h-1.9zM163.2 171.3h1.9v1.9h-1.9zM157.2 139.1h1.9v1.9h-1.9zM107.8 147.8h1.9v1.9h-1.9zM152.8 190h1.9v1.9h-1.9zM141.3 194.9h1.9v1.9h-1.9zM164.8 191.8h1.9v1.9h-1.9zM128.5 142.8h1.9v1.9h-1.9zM139.1 165.4h1.9v1.9h-1.9zM207.2 69.5h1.9v1.9h-1.9zM228.5 12.6h1.9v1.9h-1.9zM151.1 135.7h1.9v1.9h-1.9zM219.5 109.7h1.9v1.9h-1.9zM235.2 53.1h1.9v1.9h-1.9zM194 156.9h1.9v1.9h-1.9zM172.7 160.1h1.9v1.9h-1.9zM233.5 34.6h1.9v1.9h-1.9zM182.3 124.5h1.9v1.9h-1.9zM198.3 121.4h1.9v1.9h-1.9zM167.2 81.1h1.9v1.9h-1.9zM136.4 57.7h1.9v1.9h-1.9zM152 73.9h1.9v1.9h-1.9zM152.7 86h1.9v1.9h-1.9zM191.7 99.7h1.9v1.9h-1.9zM87.6 151.8h1.9v1.9h-1.9zM130.1 127.8h1.9v1.9h-1.9zM118.5 123.9h1.9v1.9h-1.9zM202.4 41.8h1.9v1.9h-1.9zM147.7 185.5h1.9v1.9h-1.9zM161.5 142.3h1.9v1.9h-1.9zM135.2 145.4h1.9v1.9h-1.9zM131.5 142.2h1.9v1.9h-1.9zM208.8 117.1h1.9v1.9h-1.9zM171.1 94.1h1.9v1.9h-1.9zM134.7 181.8h1.9v1.9h-1.9zM234.6 20.3h1.9v1.9h-1.9zM226 59.3h1.9v1.9h-1.9zM178.1 137.5h1.9v1.9h-1.9zM106.6 179h1.9v1.9h-1.9zM220.2 101.4h1.9v1.9h-1.9zM210.1 15.5h1.9v1.9h-1.9zM236.6 33.5h1.9v1.9h-1.9zM236.6 95.9h1.9v1.9h-1.9zM236.6 120.3h1.9v1.9h-1.9zM236.6 31.5h1.9v1.9h-1.9zM236.6 54h1.9v1.9h-1.9zM236.6 129.7h1.9v1.9h-1.9zM236.6 107.7h1.9v1.9h-1.9zM236.6 28.8h1.9v1.9h-1.9zM236.6 107.4h1.9v1.9h-1.9zM236.6 122h1.9v1.9h-1.9zM236.6 69.6h1.9v1.9h-1.9zM236.6 35.1h1.9v1.9h-1.9zM236.6 103.6h1.9v1.9h-1.9zM236.6 57.4h1.9v1.9h-1.9z" fill="#000" stroke="none"/>
<path d="M134 133 L166 132.3 L179.8 156.8 L160.3 186.2 L97 171.5 L97.5 166 Z" fill="none" stroke="#000" stroke-width="1.6" stroke-linejoin="round"/>
<line x1="50.3" y1="11.2" x2="237.7" y2="11.2" stroke-width="1.5"/>
<line x1="237.7" y1="11.2" x2="237.7" y2="205.2" stroke-width="1.5"/>
<line x1="50.3" y1="205.2" x2="237.7" y2="205.2" stroke-width="1.5"/>
<line x1="50.3" y1="10.4" x2="50.3" y2="205.9" stroke-width="1.5"/>
<line x1="51.3" y1="205.2" x2="51.3" y2="211.2" stroke-width="1.3"/>
<line x1="50.3" y1="204.8" x2="43.8" y2="204.8" stroke-width="1.3"/>
<line x1="58.5" y1="205.2" x2="58.5" y2="208.7" stroke-width="1.3"/>
<line x1="50.3" y1="197.3" x2="46.8" y2="197.3" stroke-width="1.3"/>
<line x1="65.8" y1="205.2" x2="65.8" y2="208.7" stroke-width="1.3"/>
<line x1="50.3" y1="189.8" x2="46.8" y2="189.8" stroke-width="1.3"/>
<line x1="73" y1="205.2" x2="73" y2="208.7" stroke-width="1.3"/>
<line x1="50.3" y1="182.3" x2="46.8" y2="182.3" stroke-width="1.3"/>
<line x1="80.2" y1="205.2" x2="80.2" y2="208.7" stroke-width="1.3"/>
<line x1="50.3" y1="174.8" x2="46.8" y2="174.8" stroke-width="1.3"/>
<line x1="87.4" y1="205.2" x2="87.4" y2="211.2" stroke-width="1.3"/>
<line x1="50.3" y1="167.3" x2="43.8" y2="167.3" stroke-width="1.3"/>
<line x1="94.7" y1="205.2" x2="94.7" y2="208.7" stroke-width="1.3"/>
<line x1="50.3" y1="159.8" x2="46.8" y2="159.8" stroke-width="1.3"/>
<line x1="101.9" y1="205.2" x2="101.9" y2="208.7" stroke-width="1.3"/>
<line x1="50.3" y1="152.4" x2="46.8" y2="152.4" stroke-width="1.3"/>
<line x1="109.1" y1="205.2" x2="109.1" y2="208.7" stroke-width="1.3"/>
<line x1="50.3" y1="144.9" x2="46.8" y2="144.9" stroke-width="1.3"/>
<line x1="116.4" y1="205.2" x2="116.4" y2="208.7" stroke-width="1.3"/>
<line x1="50.3" y1="137.4" x2="46.8" y2="137.4" stroke-width="1.3"/>
<line x1="123.6" y1="205.2" x2="123.6" y2="211.2" stroke-width="1.3"/>
<line x1="50.3" y1="129.9" x2="43.8" y2="129.9" stroke-width="1.3"/>
<line x1="130.8" y1="205.2" x2="130.8" y2="208.7" stroke-width="1.3"/>
<line x1="50.3" y1="122.4" x2="46.8" y2="122.4" stroke-width="1.3"/>
<line x1="138" y1="205.2" x2="138" y2="208.7" stroke-width="1.3"/>
<line x1="50.3" y1="114.9" x2="46.8" y2="114.9" stroke-width="1.3"/>
<line x1="145.3" y1="205.2" x2="145.3" y2="208.7" stroke-width="1.3"/>
<line x1="50.3" y1="107.4" x2="46.8" y2="107.4" stroke-width="1.3"/>
<line x1="152.5" y1="205.2" x2="152.5" y2="208.7" stroke-width="1.3"/>
<line x1="50.3" y1="99.9" x2="46.8" y2="99.9" stroke-width="1.3"/>
<line x1="159.7" y1="205.2" x2="159.7" y2="211.2" stroke-width="1.3"/>
<line x1="50.3" y1="92.4" x2="43.8" y2="92.4" stroke-width="1.3"/>
<line x1="166.9" y1="205.2" x2="166.9" y2="208.7" stroke-width="1.3"/>
<line x1="50.3" y1="84.9" x2="46.8" y2="84.9" stroke-width="1.3"/>
<line x1="174.2" y1="205.2" x2="174.2" y2="208.7" stroke-width="1.3"/>
<line x1="50.3" y1="77.4" x2="46.8" y2="77.4" stroke-width="1.3"/>
<line x1="181.4" y1="205.2" x2="181.4" y2="208.7" stroke-width="1.3"/>
<line x1="50.3" y1="69.9" x2="46.8" y2="69.9" stroke-width="1.3"/>
<line x1="188.6" y1="205.2" x2="188.6" y2="208.7" stroke-width="1.3"/>
<line x1="50.3" y1="62.5" x2="46.8" y2="62.5" stroke-width="1.3"/>
<line x1="195.9" y1="205.2" x2="195.9" y2="211.2" stroke-width="1.3"/>
<line x1="50.3" y1="55" x2="43.8" y2="55" stroke-width="1.3"/>
<line x1="203.1" y1="205.2" x2="203.1" y2="208.7" stroke-width="1.3"/>
<line x1="50.3" y1="47.5" x2="46.8" y2="47.5" stroke-width="1.3"/>
<line x1="210.3" y1="205.2" x2="210.3" y2="208.7" stroke-width="1.3"/>
<line x1="50.3" y1="40" x2="46.8" y2="40" stroke-width="1.3"/>
<line x1="217.5" y1="205.2" x2="217.5" y2="208.7" stroke-width="1.3"/>
<line x1="50.3" y1="32.5" x2="46.8" y2="32.5" stroke-width="1.3"/>
<line x1="224.8" y1="205.2" x2="224.8" y2="208.7" stroke-width="1.3"/>
<line x1="50.3" y1="25" x2="46.8" y2="25" stroke-width="1.3"/>
<line x1="232" y1="205.2" x2="232" y2="211.2" stroke-width="1.3"/>
<line x1="50.3" y1="17.5" x2="43.8" y2="17.5" stroke-width="1.3"/>
<text x="52.1" y="224.4" font-size="12" text-anchor="middle" textLength="7.2" lengthAdjust="spacingAndGlyphs">0</text>
<text x="39.9" y="202.8" font-size="12" text-anchor="middle" transform="rotate(-90 39.9 202.8)" textLength="7.2" lengthAdjust="spacingAndGlyphs">0</text>
<text x="88.2" y="224.4" font-size="12" text-anchor="middle" textLength="21.6" lengthAdjust="spacingAndGlyphs">200</text>
<text x="39.9" y="165.3" font-size="12" text-anchor="middle" transform="rotate(-90 39.9 165.3)" textLength="21.6" lengthAdjust="spacingAndGlyphs">200</text>
<text x="124.4" y="224.4" font-size="12" text-anchor="middle" textLength="21.6" lengthAdjust="spacingAndGlyphs">400</text>
<text x="39.9" y="127.9" font-size="12" text-anchor="middle" transform="rotate(-90 39.9 127.9)" textLength="21.6" lengthAdjust="spacingAndGlyphs">400</text>
<text x="160.5" y="224.4" font-size="12" text-anchor="middle" textLength="21.6" lengthAdjust="spacingAndGlyphs">600</text>
<text x="39.9" y="90.4" font-size="12" text-anchor="middle" transform="rotate(-90 39.9 90.4)" textLength="21.6" lengthAdjust="spacingAndGlyphs">600</text>
<text x="196.7" y="224.4" font-size="12" text-anchor="middle" textLength="21.6" lengthAdjust="spacingAndGlyphs">800</text>
<text x="39.9" y="53" font-size="12" text-anchor="middle" transform="rotate(-90 39.9 53)" textLength="21.6" lengthAdjust="spacingAndGlyphs">800</text>
<text x="232.8" y="224.4" font-size="12" text-anchor="middle" textLength="28.8" lengthAdjust="spacingAndGlyphs">1000</text>
<text x="39.9" y="15.5" font-size="12" text-anchor="middle" transform="rotate(-90 39.9 15.5)" textLength="28.8" lengthAdjust="spacingAndGlyphs">1000</text>
<text x="142" y="238.6" font-size="12.2" text-anchor="middle" textLength="65" lengthAdjust="spacingAndGlyphs">FSC-Height</text>
<text x="24.8" y="108.7" font-size="12.2" text-anchor="middle" transform="rotate(-90 24.8 108.7)" textLength="66.5" lengthAdjust="spacingAndGlyphs">SSC-Height</text>
<text x="208.6" y="190.9" font-size="13.6">R1</text>
<line x1="312.2" y1="15.7" x2="490.8" y2="15.7" stroke-width="1.5"/>
<line x1="490.8" y1="15.7" x2="490.8" y2="206.8" stroke-width="1.5"/>
<line x1="312.2" y1="206.8" x2="490.8" y2="206.8" stroke-width="1.5"/>
<line x1="312.2" y1="14.9" x2="312.2" y2="207.6" stroke-width="1.5"/>
<line x1="312.4" y1="206.8" x2="312.4" y2="212.8" stroke-width="1.3"/>
<line x1="325.8" y1="206.8" x2="325.8" y2="210.3" stroke-width="1.3"/>
<line x1="333.7" y1="206.8" x2="333.7" y2="210.3" stroke-width="1.3"/>
<line x1="339.2" y1="206.8" x2="339.2" y2="210.3" stroke-width="1.3"/>
<line x1="343.5" y1="206.8" x2="343.5" y2="210.3" stroke-width="1.3"/>
<line x1="347.1" y1="206.8" x2="347.1" y2="210.3" stroke-width="1.3"/>
<line x1="350" y1="206.8" x2="350" y2="210.3" stroke-width="1.3"/>
<line x1="352.6" y1="206.8" x2="352.6" y2="210.3" stroke-width="1.3"/>
<line x1="354.9" y1="206.8" x2="354.9" y2="210.3" stroke-width="1.3"/>
<line x1="356.9" y1="206.8" x2="356.9" y2="212.8" stroke-width="1.3"/>
<line x1="370.4" y1="206.8" x2="370.4" y2="210.3" stroke-width="1.3"/>
<line x1="378.2" y1="206.8" x2="378.2" y2="210.3" stroke-width="1.3"/>
<line x1="383.8" y1="206.8" x2="383.8" y2="210.3" stroke-width="1.3"/>
<line x1="388.1" y1="206.8" x2="388.1" y2="210.3" stroke-width="1.3"/>
<line x1="391.6" y1="206.8" x2="391.6" y2="210.3" stroke-width="1.3"/>
<line x1="394.6" y1="206.8" x2="394.6" y2="210.3" stroke-width="1.3"/>
<line x1="397.2" y1="206.8" x2="397.2" y2="210.3" stroke-width="1.3"/>
<line x1="399.5" y1="206.8" x2="399.5" y2="210.3" stroke-width="1.3"/>
<line x1="401.5" y1="206.8" x2="401.5" y2="212.8" stroke-width="1.3"/>
<line x1="414.9" y1="206.8" x2="414.9" y2="210.3" stroke-width="1.3"/>
<line x1="422.8" y1="206.8" x2="422.8" y2="210.3" stroke-width="1.3"/>
<line x1="428.3" y1="206.8" x2="428.3" y2="210.3" stroke-width="1.3"/>
<line x1="432.6" y1="206.8" x2="432.6" y2="210.3" stroke-width="1.3"/>
<line x1="436.2" y1="206.8" x2="436.2" y2="210.3" stroke-width="1.3"/>
<line x1="439.1" y1="206.8" x2="439.1" y2="210.3" stroke-width="1.3"/>
<line x1="441.7" y1="206.8" x2="441.7" y2="210.3" stroke-width="1.3"/>
<line x1="444" y1="206.8" x2="444" y2="210.3" stroke-width="1.3"/>
<line x1="446.1" y1="206.8" x2="446.1" y2="212.8" stroke-width="1.3"/>
<line x1="459.5" y1="206.8" x2="459.5" y2="210.3" stroke-width="1.3"/>
<line x1="467.3" y1="206.8" x2="467.3" y2="210.3" stroke-width="1.3"/>
<line x1="472.9" y1="206.8" x2="472.9" y2="210.3" stroke-width="1.3"/>
<line x1="477.2" y1="206.8" x2="477.2" y2="210.3" stroke-width="1.3"/>
<line x1="480.7" y1="206.8" x2="480.7" y2="210.3" stroke-width="1.3"/>
<line x1="483.7" y1="206.8" x2="483.7" y2="210.3" stroke-width="1.3"/>
<line x1="486.3" y1="206.8" x2="486.3" y2="210.3" stroke-width="1.3"/>
<line x1="488.6" y1="206.8" x2="488.6" y2="210.3" stroke-width="1.3"/>
<line x1="490.6" y1="206.8" x2="490.6" y2="212.8" stroke-width="1.3"/>
<line x1="312.2" y1="206.6" x2="306.2" y2="206.6" stroke-width="1.3"/>
<line x1="312.2" y1="192.3" x2="309.2" y2="192.3" stroke-width="1.3"/>
<line x1="312.2" y1="183.9" x2="309.2" y2="183.9" stroke-width="1.3"/>
<line x1="312.2" y1="178" x2="309.2" y2="178" stroke-width="1.3"/>
<line x1="312.2" y1="173.4" x2="309.2" y2="173.4" stroke-width="1.3"/>
<line x1="312.2" y1="169.6" x2="309.2" y2="169.6" stroke-width="1.3"/>
<line x1="312.2" y1="166.5" x2="309.2" y2="166.5" stroke-width="1.3"/>
<line x1="312.2" y1="163.7" x2="309.2" y2="163.7" stroke-width="1.3"/>
<line x1="312.2" y1="161.3" x2="309.2" y2="161.3" stroke-width="1.3"/>
<line x1="312.2" y1="159.1" x2="306.2" y2="159.1" stroke-width="1.3"/>
<line x1="312.2" y1="144.8" x2="309.2" y2="144.8" stroke-width="1.3"/>
<line x1="312.2" y1="136.4" x2="309.2" y2="136.4" stroke-width="1.3"/>
<line x1="312.2" y1="130.5" x2="309.2" y2="130.5" stroke-width="1.3"/>
<line x1="312.2" y1="125.9" x2="309.2" y2="125.9" stroke-width="1.3"/>
<line x1="312.2" y1="122.1" x2="309.2" y2="122.1" stroke-width="1.3"/>
<line x1="312.2" y1="119" x2="309.2" y2="119" stroke-width="1.3"/>
<line x1="312.2" y1="116.2" x2="309.2" y2="116.2" stroke-width="1.3"/>
<line x1="312.2" y1="113.8" x2="309.2" y2="113.8" stroke-width="1.3"/>
<line x1="312.2" y1="111.6" x2="306.2" y2="111.6" stroke-width="1.3"/>
<line x1="312.2" y1="97.3" x2="309.2" y2="97.3" stroke-width="1.3"/>
<line x1="312.2" y1="88.9" x2="309.2" y2="88.9" stroke-width="1.3"/>
<line x1="312.2" y1="83" x2="309.2" y2="83" stroke-width="1.3"/>
<line x1="312.2" y1="78.4" x2="309.2" y2="78.4" stroke-width="1.3"/>
<line x1="312.2" y1="74.6" x2="309.2" y2="74.6" stroke-width="1.3"/>
<line x1="312.2" y1="71.5" x2="309.2" y2="71.5" stroke-width="1.3"/>
<line x1="312.2" y1="68.7" x2="309.2" y2="68.7" stroke-width="1.3"/>
<line x1="312.2" y1="66.3" x2="309.2" y2="66.3" stroke-width="1.3"/>
<line x1="312.2" y1="64.1" x2="306.2" y2="64.1" stroke-width="1.3"/>
<line x1="312.2" y1="49.8" x2="309.2" y2="49.8" stroke-width="1.3"/>
<line x1="312.2" y1="41.4" x2="309.2" y2="41.4" stroke-width="1.3"/>
<line x1="312.2" y1="35.5" x2="309.2" y2="35.5" stroke-width="1.3"/>
<line x1="312.2" y1="30.9" x2="309.2" y2="30.9" stroke-width="1.3"/>
<line x1="312.2" y1="27.1" x2="309.2" y2="27.1" stroke-width="1.3"/>
<line x1="312.2" y1="24" x2="309.2" y2="24" stroke-width="1.3"/>
<line x1="312.2" y1="21.2" x2="309.2" y2="21.2" stroke-width="1.3"/>
<line x1="312.2" y1="18.8" x2="309.2" y2="18.8" stroke-width="1.3"/>
<line x1="312.2" y1="16.6" x2="306.2" y2="16.6" stroke-width="1.3"/>
<text x="302.4" y="227.7" font-size="12">10</text>
<text x="316.3" y="220.7" font-size="11">0</text>
<text x="347" y="227.7" font-size="12">10</text>
<text x="360.8" y="220.7" font-size="11">1</text>
<text x="391.5" y="227.7" font-size="12">10</text>
<text x="405.4" y="220.7" font-size="11">2</text>
<text x="436.1" y="227.7" font-size="12">10</text>
<text x="449.9" y="220.7" font-size="11">3</text>
<text x="480.6" y="227.7" font-size="12">10</text>
<text x="494.5" y="220.7" font-size="11">4</text>
<text x="300.8" y="216.6" font-size="12" transform="rotate(-90 300.8 216.6)">10</text>
<text x="293.8" y="202.7" font-size="11" transform="rotate(-90 293.8 202.7)">0</text>
<text x="300.8" y="169.1" font-size="12" transform="rotate(-90 300.8 169.1)">10</text>
<text x="293.8" y="155.2" font-size="11" transform="rotate(-90 293.8 155.2)">1</text>
<text x="300.8" y="121.6" font-size="12" transform="rotate(-90 300.8 121.6)">10</text>
<text x="293.8" y="107.7" font-size="11" transform="rotate(-90 293.8 107.7)">2</text>
<text x="300.8" y="74.1" font-size="12" transform="rotate(-90 300.8 74.1)">10</text>
<text x="293.8" y="60.2" font-size="11" transform="rotate(-90 293.8 60.2)">3</text>
<text x="300.8" y="26.6" font-size="12" transform="rotate(-90 300.8 26.6)">10</text>
<text x="293.8" y="12.7" font-size="11" transform="rotate(-90 293.8 12.7)">4</text>
<line x1="360" y1="15.7" x2="360" y2="206.8" stroke-width="1.5"/>
<line x1="312.2" y1="153" x2="490.8" y2="153" stroke-width="1.5"/>
<rect x="361.2" y="32.5" width="49.8" height="64.3" fill="none" stroke-width="2"/>
<text x="398.7" y="240.3" font-size="12" text-anchor="middle">FL3-H</text>
<text x="284.2" y="110.4" font-size="12.3" text-anchor="middle" transform="rotate(-90 284.2 110.4)">FL2-H</text>
<text x="446.2" y="41" font-size="13.6">R2</text>
<path d="M361.5 43.4 L363.5 42.3 L365.4 41.1 L367.2 40 L369.2 38 L370.2 36.6 L372.3 35.7 L374.1 36.6 L374.6 36.5 L376.3 36.5 L376.9 35.7 L378.3 35.7 L379.6 34.9 L381.7 33.6 L383.5 33.4 L384.4 33.4 L386 34.6 L388.3 34.3 L389.6 34.5 L391 34.4 L392.7 34.2 L394.8 34.5 L398 34.2 L400 35 L401.2 34.9 L402.9 35 L403.5 35.7 L403.4 36.8 L404.2 37.2 L405.1 38.6 L405.4 40.3 L405.7 41.4 L406.5 43.4 L407.6 44.9 L407.7 46.5 L407.9 47.8 L407.3 49.5 L406.6 51.1 L406.5 52.6 L406.1 54.3 L405 54.9 L403.6 56.3 L402.7 57.2 L401.8 58.5 L401.2 58.8 L400.8 60.4 L399.6 61.8 L399.4 63.5 L399.6 65.8 L399 67.8 L397.3 68.9 L395.9 69.9 L395 72 L394.2 74.5 L394.2 75.8 L394.4 77.8 L395.8 78.9 L396 80.5 L396.2 82 L394.9 82.3 L393.5 82.8 L392.8 83.4 L391.9 85.1 L391.3 85.7 L389.6 87.4 L387.9 89.2 L387.3 90.5 L386.7 92.1 L385.8 92.8 L384.5 94.2 L382.7 94.3 L380.5 94.4 L379.6 95.8 L377.4 96 L376 95.5 L373.5 95 L372 94.5 L370.4 93.3 L368 93 L366.7 93.3 L365.4 92.4 L364 92.8 L362 93.5 L361.4 93.6 L360.8 94.3 L360.6 97 L359.2 98.9 L357.6 99 L355.4 99.7 L353.8 99.3 L351.5 98.9 L351.2 97.2 L350 95.8 L349.8 94.6 L348.5 92.8 L348.2 90.5 L348 88 L348.3 86.5 L347.7 85 L349.4 83.3 L349.8 83 L349.5 81.8 L348 80 L347.8 79 L347.7 77 L348 75.3 L349.2 74 L348.9 72.5 L348 70 L348 68.2 L348.3 65 L348.4 61.9 L348 60 L347.6 56.9 L348.3 55 L348.5 52.4 L348.5 50.3 L349.7 48.7 L351.5 47.2 L352.9 46.6 L355.4 44.9 L357 42.7 L357.7 40.3 L358 41.4 L358.5 43 L359.4 43 L360 43.4 L361.4 44 Z" fill="none" stroke="#000" stroke-width="1.8" stroke-linejoin="round"/>
<path d="M362.3 49.5 L364.2 50.4 L365.4 50.3 L366.7 50.9 L369.2 52.6 L369.4 50.2 L370 48.8 L371 48.7 L372.3 47.2 L374.3 46.7 L375.4 44.9 L376.3 43.4 L378 42.6 L378.9 42.3 L381.2 42.6 L382.1 43 L384.2 43.4 L384.7 44 L385.8 44.2 L387 43.5 L388 42.6 L388.9 42.2 L390.4 41.1 L392.2 40.6 L393.5 39.5 L394.6 40.2 L395.8 41.1 L396.1 42.4 L397 44.9 L397.5 46.6 L398 48 L398.4 50.1 L399.6 51.1 L400.3 52.3 L400 52.6 L399.8 54.1 L398.8 55.7 L397.6 56.5 L397.3 58 L396.9 59.8 L395.8 60.3 L394.5 60.8 L394.2 62.6 L393.6 63.6 L393.5 65.1 L392.1 66.1 L390.4 68.2 L388.9 69.1 L386.5 70.5 L385.2 71.4 L382.7 72.8 L381.7 72.7 L381.2 73.5 L380.3 72.9 L378 72 L377 70.6 L375 70.5 L373.6 69.6 L372 68 L371.2 67.6 L369 66 L366.9 64.3 L366 63 L365.7 60.5 L364 58 L364.1 55.7 L363 54 L362 52.4 Z" fill="none" stroke="#000" stroke-width="1.8" stroke-linejoin="round"/>
<path d="M351.5 64.2 L353.8 60.3 L356.9 58 L360 55.7 L362.3 54.9" fill="none" stroke="#000" stroke-width="1.6" stroke-linejoin="round"/>
<path d="M365.4 84.3 L368 86.5 L372 90 L378.5 94.3" fill="none" stroke="#000" stroke-width="1.6" stroke-linejoin="round"/>
<path d="M366 85 L366.8 91.5 L370 90.5" fill="none" stroke="#000" stroke-width="1.6" stroke-linejoin="round"/>
<path d="M401.9 63.5 L405 67.4" fill="none" stroke="#000" stroke-width="1.6" stroke-linejoin="round"/>
<path d="M356 68 L358.5 66.5 L360.5 70" fill="none" stroke="#000" stroke-width="1.6" stroke-linejoin="round"/>
<circle cx="381.9" cy="67" r="0.9" fill="#000" stroke="none"/>
<path d="M84 478.1 L88 475 L89.3 473.7 L90.7 471.8 L92 470.5 L92.8 467.9 L93.5 467 L94.2 464.9 L95 463.7 L95.9 462.1 L96.7 461.1 L97.6 458.5 L98 456.3 L98.5 454.3 L98.9 453.7 L99.3 450.9 L99.8 449.4 L100.2 448.2 L100.6 446.4 L101 445.6 L101.5 442.7 L101.9 441 L102.3 439.6 L102.7 437.9 L103.1 435.6 L103.4 434.3 L103.8 433.1 L104.2 430.7 L104.6 429.8 L104.9 427 L105.3 425.8 L107 424.1 L107.2 421.7 L107.5 420.9 L107.7 418.8 L107.9 417.2 L108.3 416.2 L108.8 413 L109.2 412.5 L109.6 410.3 L109.7 408.9 L109.9 406.6 L110 404.5 L110.1 403.6 L110.2 402.2 L110.4 400 L110.5 398.3 L111.1 396.6 L111.6 395.2 L112.2 393.2 L112.5 391.7 L112.9 389.6 L113.2 387.5 L113.6 386.3 L113.9 384.6 L114 383 L114.2 381.9 L114.3 380.3 L114.4 377.8 L114.5 375.6 L114.7 373.7 L114.8 372.5 L116.5 370.8 L116.8 369.3 L117.2 367.8 L117.5 365.2 L117.9 364.3 L118.2 362.2 L118.4 361.4 L118.7 358.6 L118.9 357.8 L119.1 355.3 L119.9 353 L120.8 351 L122.5 351.9 L122.8 353.9 L123.1 356 L123.3 356.5 L123.6 358.5 L123.9 361.4 L124.2 362.2 L124.6 363.1 L125.1 365.3 L125.5 367.3 L125.9 369.5 L126.4 371 L126.8 372.5 L127 375 L127.2 376.3 L127.4 376.8 L127.7 378.6 L127.9 380.3 L128.1 382.7 L128.3 383.7 L128.5 386.3 L128.8 388.1 L129.1 390 L129.4 390.9 L129.7 393.8 L130 394.7 L130.3 396.6 L130.6 399.1 L131 399.8 L131.3 402 L131.7 403.6 L132 405.2 L132.2 406.5 L132.5 409.1 L132.7 409.5 L133 411.6 L133.2 413.4 L133.5 416.2 L133.7 417.2 L134 418.9 L134.3 419.8 L134.6 422 L134.8 424.3 L135.1 426.3 L135.4 427.5 L135.7 428.5 L136 431.5 L136.2 432.5 L136.5 434.5 L136.8 436 L137.1 437.9 L137.5 439.5 L137.8 442.2 L138.2 443.8 L138.5 445.5 L138.9 446.5 L139.2 448.6 L139.6 450.3 L139.9 451 L140.3 452.5 L140.6 455.1 L141.2 457.4 L141.7 458.8 L142.3 460.2 L144.9 462 L146 463.9 L147.2 465.1 L148.3 467.1 L149.5 468.4 L150.6 471.3 L151.8 472.3 L153.4 473.8 L155 475.2 L158 475.8 L158 477.3 L160.6 477.1 L163.3 476.4 L166.7 476.5 L168.7 476.5 L170.2 477.1 L173.6 477.3 L175.8 476.8 L177.8 476.7 L180.6 477.5 L184 477.5 L186.9 477.1 L188.6 477.5 L192.1 476.6 L194.6 476.6 L198 476.4 L200.6 477.2 L203.1 476.3 L206.1 476.7 L209.2 477.1 L211.9 476.5 L213.8 476.5 L215.3 476.9 L218 477.4 L221.3 477 L223.2 477.1 L225.9 477 L227.4 477.5 L230.3 477.4 L232.3 476.6 L235.5 476.5 L237.4 477.6 L238.9 477.3 L238.9 478.1 Z" fill="#000"/>
<path d="M42.4 466 L44.6 466 L44.6 461.7 L46.5 461.7 L46.5 458.3 L48.3 458.3 L48.3 456.6 L50.5 456.6 L50.5 458.8 L52.6 458.8 L52.6 457.3 L54.8 457.3 L54.8 458.8 L55.6 458.8 L55.6 444.8 L57.4 444.8 L57.4 444.2 L59.2 444.2 L59.2 444.1 L61 444.1 L61 443.5 L62.9 443.5 L62.9 443.4 L65.8 443.4 L65.8 438.2 L67.3 438.2 L67.3 429.5 L68 429.5 L68 420.7 L69.5 420.7 L69.5 415.5 L71.7 415.5 L71.7 411.9 L73.2 411.9 L73.2 407.5 L75.4 407.5 L75.4 405.3 L76.8 405.3 L76.8 400.9 L78.3 400.9 L78.3 397.2 L80.5 397.2 L80.5 395.8 L81.9 395.8 L81.9 388.4 L82.7 388.4 L82.7 384 L84.1 384 L84.1 382.6 L84.9 382.6 L84.9 373.8 L86.3 373.8 L86.3 373.8 L87.1 373.8 L87.1 379.6 L88.5 379.6 L88.5 382.6 L90 382.6 L90 389.9 L92.2 389.9 L92.2 398.7 L94.4 398.7 L94.4 407.5 L96.6 407.5 L96.6 416.3 L98.1 416.3 L98.1 426.5 L99.5 426.5 L99.5 439.7 L101 439.7 L101 448.5 L102.5 448.5 L102.5 456 L103.5 456 L103.5 466" fill="none" stroke="#000" stroke-width="3.5" stroke-linejoin="miter" stroke-miterlimit="3"/>
<path d="M41.5 476.4 L45.5 475.6 L49.1 476.5 L51.9 476.4 L55.4 475.7 L59 475.7 L61.2 476.5 L63.4 475.7 L67 476 L69.5 475.6 L71.7 476.2 L73.8 475.5 L76.6 475.7 L80.2 475.9 L84.2 475.7" fill="none" stroke="#000" stroke-width="2.6"/>
<line x1="41.2" y1="281.7" x2="239.6" y2="280.7" stroke-width="1.7"/>
<line x1="239.6" y1="279.9" x2="238.9" y2="478.1" stroke-width="1.7"/>
<line x1="39.5" y1="478.1" x2="239.7" y2="478.1" stroke-width="2.8"/>
<line x1="41.2" y1="280.9" x2="40.5" y2="479.1" stroke-width="3.8"/>
<line x1="41.1" y1="478.1" x2="41.1" y2="372" stroke-width="5"/>
<line x1="39.5" y1="477.7" x2="31.5" y2="477.7" stroke-width="1.6"/>
<line x1="39.5" y1="469.9" x2="34.5" y2="469.9" stroke-width="1.6"/>
<line x1="39.5" y1="462.1" x2="34.5" y2="462.1" stroke-width="1.6"/>
<line x1="39.5" y1="454.3" x2="34.5" y2="454.3" stroke-width="1.6"/>
<line x1="39.5" y1="446.5" x2="34.5" y2="446.5" stroke-width="1.6"/>
<line x1="39.5" y1="438.7" x2="31.5" y2="438.7" stroke-width="1.6"/>
<line x1="39.5" y1="430.9" x2="34.5" y2="430.9" stroke-width="1.6"/>
<line x1="39.5" y1="423.1" x2="34.5" y2="423.1" stroke-width="1.6"/>
<line x1="39.5" y1="415.3" x2="34.5" y2="415.3" stroke-width="1.6"/>
<line x1="39.5" y1="407.5" x2="34.5" y2="407.5" stroke-width="1.6"/>
<line x1="39.5" y1="399.7" x2="31.5" y2="399.7" stroke-width="1.6"/>
<line x1="39.5" y1="391.9" x2="34.5" y2="391.9" stroke-width="1.6"/>
<line x1="39.5" y1="384.1" x2="34.5" y2="384.1" stroke-width="1.6"/>
<line x1="39.5" y1="376.2" x2="34.5" y2="376.2" stroke-width="1.6"/>
<line x1="39.5" y1="368.4" x2="34.5" y2="368.4" stroke-width="1.6"/>
<line x1="39.5" y1="360.6" x2="31.5" y2="360.6" stroke-width="1.6"/>
<line x1="39.5" y1="352.8" x2="34.5" y2="352.8" stroke-width="1.6"/>
<line x1="39.5" y1="345" x2="34.5" y2="345" stroke-width="1.6"/>
<line x1="39.5" y1="337.2" x2="34.5" y2="337.2" stroke-width="1.6"/>
<line x1="39.5" y1="329.4" x2="34.5" y2="329.4" stroke-width="1.6"/>
<line x1="39.5" y1="321.6" x2="31.5" y2="321.6" stroke-width="1.6"/>
<line x1="39.5" y1="313.8" x2="34.5" y2="313.8" stroke-width="1.6"/>
<line x1="39.5" y1="306" x2="34.5" y2="306" stroke-width="1.6"/>
<line x1="39.5" y1="298.2" x2="34.5" y2="298.2" stroke-width="1.6"/>
<line x1="39.5" y1="290.4" x2="34.5" y2="290.4" stroke-width="1.6"/>
<line x1="39.5" y1="282.6" x2="31.5" y2="282.6" stroke-width="1.6"/>
<line x1="39.8" y1="478.1" x2="39.8" y2="486.1" stroke-width="1.6"/>
<line x1="54.7" y1="478.1" x2="54.7" y2="483.3" stroke-width="1.6"/>
<line x1="63.4" y1="478.1" x2="63.4" y2="483.3" stroke-width="1.6"/>
<line x1="69.6" y1="478.1" x2="69.6" y2="483.3" stroke-width="1.6"/>
<line x1="74.3" y1="478.1" x2="74.3" y2="483.3" stroke-width="1.6"/>
<line x1="78.3" y1="478.1" x2="78.3" y2="483.3" stroke-width="1.6"/>
<line x1="81.6" y1="478.1" x2="81.6" y2="483.3" stroke-width="1.6"/>
<line x1="84.4" y1="478.1" x2="84.4" y2="483.3" stroke-width="1.6"/>
<line x1="87" y1="478.1" x2="87" y2="483.3" stroke-width="1.6"/>
<line x1="89.2" y1="478.1" x2="89.2" y2="486.1" stroke-width="1.6"/>
<line x1="104.1" y1="478.1" x2="104.1" y2="483.3" stroke-width="1.6"/>
<line x1="112.8" y1="478.1" x2="112.8" y2="483.3" stroke-width="1.6"/>
<line x1="119" y1="478.1" x2="119" y2="483.3" stroke-width="1.6"/>
<line x1="123.8" y1="478.1" x2="123.8" y2="483.3" stroke-width="1.6"/>
<line x1="127.7" y1="478.1" x2="127.7" y2="483.3" stroke-width="1.6"/>
<line x1="131" y1="478.1" x2="131" y2="483.3" stroke-width="1.6"/>
<line x1="133.9" y1="478.1" x2="133.9" y2="483.3" stroke-width="1.6"/>
<line x1="136.4" y1="478.1" x2="136.4" y2="483.3" stroke-width="1.6"/>
<line x1="138.6" y1="478.1" x2="138.6" y2="486.1" stroke-width="1.6"/>
<line x1="153.5" y1="478.1" x2="153.5" y2="483.3" stroke-width="1.6"/>
<line x1="162.2" y1="478.1" x2="162.2" y2="483.3" stroke-width="1.6"/>
<line x1="168.4" y1="478.1" x2="168.4" y2="483.3" stroke-width="1.6"/>
<line x1="173.2" y1="478.1" x2="173.2" y2="483.3" stroke-width="1.6"/>
<line x1="177.1" y1="478.1" x2="177.1" y2="483.3" stroke-width="1.6"/>
<line x1="180.4" y1="478.1" x2="180.4" y2="483.3" stroke-width="1.6"/>
<line x1="183.3" y1="478.1" x2="183.3" y2="483.3" stroke-width="1.6"/>
<line x1="185.8" y1="478.1" x2="185.8" y2="483.3" stroke-width="1.6"/>
<line x1="188.1" y1="478.1" x2="188.1" y2="486.1" stroke-width="1.6"/>
<line x1="203" y1="478.1" x2="203" y2="483.3" stroke-width="1.6"/>
<line x1="211.7" y1="478.1" x2="211.7" y2="483.3" stroke-width="1.6"/>
<line x1="217.8" y1="478.1" x2="217.8" y2="483.3" stroke-width="1.6"/>
<line x1="222.6" y1="478.1" x2="222.6" y2="483.3" stroke-width="1.6"/>
<line x1="226.5" y1="478.1" x2="226.5" y2="483.3" stroke-width="1.6"/>
<line x1="229.8" y1="478.1" x2="229.8" y2="483.3" stroke-width="1.6"/>
<line x1="232.7" y1="478.1" x2="232.7" y2="483.3" stroke-width="1.6"/>
<line x1="235.2" y1="478.1" x2="235.2" y2="483.3" stroke-width="1.6"/>
<line x1="237.5" y1="478.1" x2="237.5" y2="486.1" stroke-width="1.6"/>
<text x="26.8" y="475.4" font-size="12.5" text-anchor="middle" transform="rotate(-90 26.8 475.4)">0</text>
<text x="26.8" y="436.4" font-size="12.5" text-anchor="middle" transform="rotate(-90 26.8 436.4)">30</text>
<text x="26.8" y="397.4" font-size="12.5" text-anchor="middle" transform="rotate(-90 26.8 397.4)">60</text>
<text x="26.8" y="358.3" font-size="12.5" text-anchor="middle" transform="rotate(-90 26.8 358.3)">90</text>
<text x="26.8" y="319.3" font-size="12.5" text-anchor="middle" transform="rotate(-90 26.8 319.3)">120</text>
<text x="26.8" y="280.3" font-size="12.5" text-anchor="middle" transform="rotate(-90 26.8 280.3)">150</text>
<text x="29.7" y="500.8" font-size="12">10</text>
<text x="43.5" y="494" font-size="11.5">0</text>
<text x="79.1" y="500.8" font-size="12">10</text>
<text x="92.9" y="494" font-size="11.5">1</text>
<text x="128.5" y="500.8" font-size="12">10</text>
<text x="142.4" y="494" font-size="11.5">2</text>
<text x="178" y="500.8" font-size="12">10</text>
<text x="191.8" y="494" font-size="11.5">3</text>
<text x="227.4" y="500.8" font-size="12">10</text>
<text x="241.2" y="494" font-size="11.5">4</text>
<text x="11.6" y="379.9" font-size="13" text-anchor="middle" transform="rotate(-90 11.6 379.9)">Counts</text>
<text x="137.5" y="513.7" font-size="13.4" text-anchor="middle" textLength="65.5" lengthAdjust="spacingAndGlyphs">FL1-Height</text>
<text x="75.5" y="326" font-size="17.6" textLength="31.5" lengthAdjust="spacing" style="stroke-width:0.45px">IgA</text>
<path d="M393.5 476.2 L397.1 458.8 L397.9 456.9 L398.6 456.4 L399.4 454.7 L400.1 452.7 L400.9 451.2 L401.7 449.3 L402.5 447.9 L404.4 446.1 L406.2 444.3 L406.8 442.6 L407.4 440.6 L408 438.2 L408.6 436.7 L409.2 435.8 L409.4 433.5 L409.6 431.1 L409.8 429.8 L410.1 427.2 L410.4 426.5 L410.7 424.7 L411 422.5 L411.4 420.9 L411.8 418.4 L412.2 417.1 L413.4 416.5 L413.6 418.5 L413.8 420.3 L414 421.3 L414.6 419.4 L415.2 417.1 L417.7 415.8 L418.6 413.5 L419.5 412.2 L419.9 410.5 L420.3 408.4 L420.7 406.8 L421.1 404.4 L421.5 402.1 L421.9 400.7 L422.3 399.8 L422.7 397.7 L423.1 395.9 L424.9 395.3 L426.1 397.1 L427.3 394.7 L429.2 395.3 L429.4 397.9 L429.6 398.3 L429.8 400.7 L431.6 401.3 L432.5 399.4 L433.4 398.3 L433.8 399.9 L434.2 400.7 L434.6 403.1 L436.4 404.4 L436.8 406 L437.1 408.5 L437.5 410.4 L438.1 412.3 L438.6 415 L439.2 416.2 L439.6 418.1 L440.1 419.9 L440.6 421.5 L441 423.1 L441.6 425.1 L442.1 425.9 L442.7 427.7 L444.4 428.8 L444.8 429.8 L445.2 433.5 L445.6 434.6 L446.2 437.1 L446.7 437.8 L447.3 440.4 L448.1 441.6 L448.8 443.8 L449.6 446.2 L450.6 448 L451.5 448.6 L452.5 450.8 L453.3 451.5 L454 453.9 L454.8 455.4 L456.2 455.7 L457.7 457.7 L458.9 459 L460 461.2 L460.8 462.5 L461.5 463.7 L462.3 465.8 L463.5 466.1 L464.6 468.1 L466.9 466.9 L468.4 468.2 L469.8 470.4 L471.2 471.4 L472.7 473.3 L474.4 473.2 L476.2 473.8 L476 474.4 L477.7 474.7 L479.6 475.3 L481.8 474.4 L483.4 475.1 L485.2 474.4 L487.7 474.8 L490.2 474.7 L492.4 475.2 L495.4 474.8 L499.2 475.4 L499.2 476.2 Z" fill="#000"/>
<path d="M374 476 L376 467.5 L379 465.5 L382 464.2 L385 464.5 L388.6 463.6 L392.3 465.4 L394.1 464.8 L396 476 Z" fill="#000"/>
<path d="M313.8 464.6 L316 464.6 L316 458.8 L317.8 458.8 L317.8 455.7 L319.6 455.7 L319.6 452.9 L321.8 452.9 L321.8 455.8 L323.3 455.8 L323.3 452.9 L325.5 452.9 L325.5 442.6 L328.4 442.6 L328.4 441.2 L331.4 441.2 L331.4 443.4 L333.6 443.4 L333.6 438.2 L335 438.2 L335 433.9 L336.5 433.9 L336.5 423.6 L338 423.6 L338 415.5 L340.2 415.5 L340.2 413.3 L341.6 413.3 L341.6 407.5 L343.8 407.5 L343.8 404.6 L345.3 404.6 L345.3 398.7 L346.8 398.7 L346.8 395.8 L349 395.8 L349 392.1 L350.4 392.1 L350.4 382.6 L351.9 382.6 L351.9 379.6 L352.6 379.6 L352.6 373.1 L353.3 373.1 L353.3 378.2 L355.5 378.2 L355.5 381.1 L357 381.1 L357 384 L359.2 384 L359.2 392.8 L361.4 392.8 L361.4 403.1 L362.9 403.1 L362.9 413.3 L364.3 413.3 L364.3 423.6 L366.5 423.6 L366.5 438.2 L368 438.2 L368 448.5 L369.5 448.5 L369.5 458.8 L370.9 458.8 L370.9 463.2 L373.9 463.2 L373.9 466.1 L375.7 466.1 L375.7 466.2 L377.5 466.2 L377.5 466.8" fill="none" stroke="#000" stroke-width="3.5" stroke-linejoin="miter" stroke-miterlimit="3"/>
<path d="M312.6 474.3 L314.6 473.8 L318.1 474.1 L320.1 474.4 L323.9 474.1 L326.3 473.8 L330.1 474.5 L333.1 474 L335.4 474.3 L338.6 473.9 L341.8 474 L344.6 474.5 L346.6 473.8 L350.4 473.7 L352.5 473.8 L354.9 474.3 L357.3 473.7 L360.9 473.8 L363.7 473.7 L366.2 474 L369.5 474.4 L372.3 474.5 L375.9 474.4 L378.2 474.3 L381.4 474 L384.5 473.7 L388 474.4 L391.1 474.4 L393.5 474.5" fill="none" stroke="#000" stroke-width="2.6"/>
<line x1="311.6" y1="282.5" x2="500.2" y2="282.1" stroke-width="1.7"/>
<line x1="500.2" y1="281.3" x2="499.2" y2="476.2" stroke-width="1.7"/>
<line x1="310.6" y1="476.2" x2="500" y2="476.2" stroke-width="2.8"/>
<line x1="311.6" y1="281.7" x2="311.6" y2="477.2" stroke-width="4.5"/>
<line x1="311.9" y1="476.2" x2="311.9" y2="282.3" stroke-width="5"/>
<line x1="310.6" y1="475.9" x2="302.6" y2="475.9" stroke-width="1.6"/>
<line x1="310.6" y1="468.2" x2="305.6" y2="468.2" stroke-width="1.6"/>
<line x1="310.6" y1="460.4" x2="305.6" y2="460.4" stroke-width="1.6"/>
<line x1="310.6" y1="452.7" x2="305.6" y2="452.7" stroke-width="1.6"/>
<line x1="310.6" y1="445" x2="305.6" y2="445" stroke-width="1.6"/>
<line x1="310.6" y1="437.2" x2="302.6" y2="437.2" stroke-width="1.6"/>
<line x1="310.6" y1="429.5" x2="305.6" y2="429.5" stroke-width="1.6"/>
<line x1="310.6" y1="421.7" x2="305.6" y2="421.7" stroke-width="1.6"/>
<line x1="310.6" y1="414" x2="305.6" y2="414" stroke-width="1.6"/>
<line x1="310.6" y1="406.3" x2="305.6" y2="406.3" stroke-width="1.6"/>
<line x1="310.6" y1="398.5" x2="302.6" y2="398.5" stroke-width="1.6"/>
<line x1="310.6" y1="390.8" x2="305.6" y2="390.8" stroke-width="1.6"/>
<line x1="310.6" y1="383.1" x2="305.6" y2="383.1" stroke-width="1.6"/>
<line x1="310.6" y1="375.3" x2="305.6" y2="375.3" stroke-width="1.6"/>
<line x1="310.6" y1="367.6" x2="305.6" y2="367.6" stroke-width="1.6"/>
<line x1="310.6" y1="359.9" x2="302.6" y2="359.9" stroke-width="1.6"/>
<line x1="310.6" y1="352.1" x2="305.6" y2="352.1" stroke-width="1.6"/>
<line x1="310.6" y1="344.4" x2="305.6" y2="344.4" stroke-width="1.6"/>
<line x1="310.6" y1="336.7" x2="305.6" y2="336.7" stroke-width="1.6"/>
<line x1="310.6" y1="328.9" x2="305.6" y2="328.9" stroke-width="1.6"/>
<line x1="310.6" y1="321.2" x2="302.6" y2="321.2" stroke-width="1.6"/>
<line x1="310.6" y1="313.4" x2="305.6" y2="313.4" stroke-width="1.6"/>
<line x1="310.6" y1="305.7" x2="305.6" y2="305.7" stroke-width="1.6"/>
<line x1="310.6" y1="298" x2="305.6" y2="298" stroke-width="1.6"/>
<line x1="310.6" y1="290.2" x2="305.6" y2="290.2" stroke-width="1.6"/>
<line x1="310.6" y1="282.5" x2="302.6" y2="282.5" stroke-width="1.6"/>
<line x1="311.3" y1="476.2" x2="311.3" y2="484.2" stroke-width="1.6"/>
<line x1="325.4" y1="476.2" x2="325.4" y2="481.4" stroke-width="1.6"/>
<line x1="333.6" y1="476.2" x2="333.6" y2="481.4" stroke-width="1.6"/>
<line x1="339.4" y1="476.2" x2="339.4" y2="481.4" stroke-width="1.6"/>
<line x1="343.9" y1="476.2" x2="343.9" y2="481.4" stroke-width="1.6"/>
<line x1="347.6" y1="476.2" x2="347.6" y2="481.4" stroke-width="1.6"/>
<line x1="350.7" y1="476.2" x2="350.7" y2="481.4" stroke-width="1.6"/>
<line x1="353.5" y1="476.2" x2="353.5" y2="481.4" stroke-width="1.6"/>
<line x1="355.8" y1="476.2" x2="355.8" y2="481.4" stroke-width="1.6"/>
<line x1="358" y1="476.2" x2="358" y2="484.2" stroke-width="1.6"/>
<line x1="372" y1="476.2" x2="372" y2="481.4" stroke-width="1.6"/>
<line x1="380.2" y1="476.2" x2="380.2" y2="481.4" stroke-width="1.6"/>
<line x1="386.1" y1="476.2" x2="386.1" y2="481.4" stroke-width="1.6"/>
<line x1="390.6" y1="476.2" x2="390.6" y2="481.4" stroke-width="1.6"/>
<line x1="394.3" y1="476.2" x2="394.3" y2="481.4" stroke-width="1.6"/>
<line x1="397.4" y1="476.2" x2="397.4" y2="481.4" stroke-width="1.6"/>
<line x1="400.1" y1="476.2" x2="400.1" y2="481.4" stroke-width="1.6"/>
<line x1="402.5" y1="476.2" x2="402.5" y2="481.4" stroke-width="1.6"/>
<line x1="404.6" y1="476.2" x2="404.6" y2="484.2" stroke-width="1.6"/>
<line x1="418.7" y1="476.2" x2="418.7" y2="481.4" stroke-width="1.6"/>
<line x1="426.9" y1="476.2" x2="426.9" y2="481.4" stroke-width="1.6"/>
<line x1="432.8" y1="476.2" x2="432.8" y2="481.4" stroke-width="1.6"/>
<line x1="437.3" y1="476.2" x2="437.3" y2="481.4" stroke-width="1.6"/>
<line x1="441" y1="476.2" x2="441" y2="481.4" stroke-width="1.6"/>
<line x1="444.1" y1="476.2" x2="444.1" y2="481.4" stroke-width="1.6"/>
<line x1="446.8" y1="476.2" x2="446.8" y2="481.4" stroke-width="1.6"/>
<line x1="449.2" y1="476.2" x2="449.2" y2="481.4" stroke-width="1.6"/>
<line x1="451.3" y1="476.2" x2="451.3" y2="484.2" stroke-width="1.6"/>
<line x1="465.4" y1="476.2" x2="465.4" y2="481.4" stroke-width="1.6"/>
<line x1="473.6" y1="476.2" x2="473.6" y2="481.4" stroke-width="1.6"/>
<line x1="479.4" y1="476.2" x2="479.4" y2="481.4" stroke-width="1.6"/>
<line x1="483.9" y1="476.2" x2="483.9" y2="481.4" stroke-width="1.6"/>
<line x1="487.6" y1="476.2" x2="487.6" y2="481.4" stroke-width="1.6"/>
<line x1="490.8" y1="476.2" x2="490.8" y2="481.4" stroke-width="1.6"/>
<line x1="493.5" y1="476.2" x2="493.5" y2="481.4" stroke-width="1.6"/>
<line x1="495.9" y1="476.2" x2="495.9" y2="481.4" stroke-width="1.6"/>
<line x1="498" y1="476.2" x2="498" y2="484.2" stroke-width="1.6"/>
<text x="298.6" y="473.6" font-size="12.5" text-anchor="middle" transform="rotate(-90 298.6 473.6)">0</text>
<text x="298.6" y="434.9" font-size="12.5" text-anchor="middle" transform="rotate(-90 298.6 434.9)">30</text>
<text x="298.6" y="396.2" font-size="12.5" text-anchor="middle" transform="rotate(-90 298.6 396.2)">60</text>
<text x="298.6" y="357.6" font-size="12.5" text-anchor="middle" transform="rotate(-90 298.6 357.6)">90</text>
<text x="298.6" y="318.9" font-size="12.5" text-anchor="middle" transform="rotate(-90 298.6 318.9)">120</text>
<text x="298.6" y="280.2" font-size="12.5" text-anchor="middle" transform="rotate(-90 298.6 280.2)">150</text>
<text x="301.2" y="498.9" font-size="12">10</text>
<text x="315" y="492.1" font-size="11.5">0</text>
<text x="347.9" y="498.9" font-size="12">10</text>
<text x="361.7" y="492.1" font-size="11.5">1</text>
<text x="394.5" y="498.9" font-size="12">10</text>
<text x="408.4" y="492.1" font-size="11.5">2</text>
<text x="441.2" y="498.9" font-size="12">10</text>
<text x="455.1" y="492.1" font-size="11.5">3</text>
<text x="487.9" y="498.9" font-size="12">10</text>
<text x="501.7" y="492.1" font-size="11.5">4</text>
<text x="283.4" y="379.4" font-size="13" text-anchor="middle" transform="rotate(-90 283.4 379.4)">Counts</text>
<text x="403.2" y="511.8" font-size="13.4" text-anchor="middle" textLength="65.5" lengthAdjust="spacingAndGlyphs">FL1-Height</text>
<text x="370.5" y="326" font-size="17.6" textLength="30" lengthAdjust="spacing" style="stroke-width:0.45px">IgD</text>
<path d="M95 741 L99 735.4 L100.4 734.1 L101.7 733.1 L103.1 731.3 L104 730.2 L104.9 729.5 L105.8 727.3 L106.1 726.5 L106.4 724.4 L106.8 721.8 L107.1 720.6 L107.2 718.8 L107.4 716.7 L107.5 714.4 L107.7 713.5 L107.8 711.1 L108 708.8 L108.2 707.9 L108.4 705.7 L108.7 703.8 L108.9 702.6 L109.1 700.4 L109.3 699.1 L109.4 697.9 L109.6 696.2 L109.8 694.2 L110 691.5 L110.2 690.6 L110.3 688.6 L110.5 686.9 L110.7 686 L110.8 683.5 L111 681.6 L111.2 679.3 L111.3 678.5 L111.5 676.9 L111.6 674.8 L111.8 673.5 L112.2 671 L112.6 670 L112.7 668.4 L112.8 666 L112.9 664.6 L113 663.4 L113.1 661.6 L113.2 660.3 L113.6 658.4 L113.9 656.5 L114.3 654.5 L114.3 652.7 L114.4 650.6 L114.4 648.8 L114.4 648.1 L114.5 647.2 L114.5 644.4 L114.5 642.9 L114.6 641.2 L114.6 640.3 L114.6 638.2 L114.7 637.2 L114.7 635 L115.5 632.8 L115.5 630.3 L115.6 628.9 L115.7 627.4 L115.7 626.1 L115.8 624.6 L115.8 622.9 L115.8 622.4 L115.9 619.8 L116 618.4 L116 616.7 L117.2 614.4 L117.3 613.5 L117.3 611.2 L117.4 609.4 L117.4 608.1 L117.5 605.5 L117.6 603.2 L117.6 603.2 L117.7 600.7 L117.7 599.1 L117.8 597.2 L118.3 596 L119.5 594.8 L119.5 592.1 L119.5 591.4 L119.5 588.8 L119.5 587.4 L119.5 585.2 L120.9 585.2 L120.9 586.6 L120.9 589.5 L120.9 590.2 L120.9 591.8 L120.9 594 L122.9 592.6 L124.7 591.5 L125.8 593.2 L126.6 596 L127 597.2 L127 599.6 L127 600.1 L127 601.8 L127 603.9 L127 606.5 L127 606.6 L127 608.4 L127 611.1 L127 611.5 L127 613.8 L127 616.2 L127 617.7 L127 619 L128.1 621.3 L128.1 623.5 L128.1 623.9 L128.1 627 L128.1 627.6 L128.1 630.1 L128.1 631.1 L128.1 633.6 L128.1 634.5 L128.1 635.7 L128.1 637.2 L128.1 639.4 L128.1 640.3 L128.1 642.1 L128.1 645.1 L128.1 646.2 L128.1 647.7 L128.6 650.1 L129.2 651.1 L129.3 652.2 L129.3 654.5 L129.4 656.2 L129.5 657.3 L129.6 659.3 L129.7 662.2 L129.7 663.6 L129.8 664.9 L130.1 666.9 L130.4 669 L130.7 670.8 L130.9 673.1 L131 675 L131.2 676 L131.3 676.7 L131.5 679.8 L131.7 680.2 L131.8 682.1 L132 684.2 L132.2 685.2 L132.3 687.6 L132.5 689.4 L132.7 690.9 L132.9 692.6 L133.1 693.7 L133.2 696.4 L133.4 697.7 L133.8 699.4 L134.2 700.6 L134.6 703.2 L135 705 L135.4 705.8 L135.9 708.3 L136.4 710.1 L136.9 710.2 L137.4 712.7 L137.8 714.2 L138.2 716 L138.7 717.4 L139.1 719.9 L139.5 721.2 L141.1 721.4 L142.7 720.1 L144.3 720.5 L145.9 722.2 L146.9 723.6 L148 725.8 L149 726.4 L150.1 728.7 L151.2 729.6 L152.8 730.6 L154.3 731.7 L157.5 731.7 L159.6 731.5 L161.7 732.8 L163.8 733.2 L166 733.8 L167.6 733.3 L169.1 732.8 L170.7 732.3 L172.3 730.7 L173.9 731.7 L175.5 733.8 L177.3 733.4 L179 734.7 L180.8 733.8 L182.4 733.5 L183.9 734.9 L187.1 734.9 L189.2 736.1 L191.4 737 L193.5 736.3 L195.6 737 L197.7 738 L199.8 738.1 L201.4 738.2 L203 739.4 L204.6 738.4 L206.2 739.1 L206.2 740 L209.5 739.6 L211.1 740.2 L213.8 739.8 L215.4 740.4 L218 739.7 L219.7 739.5 L221.7 739.7 L224.2 740.1 L227.6 740 L230 739.8 L233.1 739.2 L236.6 740.2 L236.6 741 Z" fill="#000"/>
<path d="M42.4 731.1 L44.6 731.1 L44.6 725.2 L46.8 725.2 L46.8 723.3 L49 723.3 L49 720.1 L51.9 720.1 L51.9 722.3 L54.1 722.3 L54.1 722.3 L55.3 722.3 L55.3 709.1 L58.5 709.1 L58.5 707.6 L60.4 707.6 L60.4 706.8 L62.2 706.8 L62.2 706.9 L65.1 706.9 L65.1 701.8 L66.6 701.8 L66.6 693 L68 693 L68 682.7 L71 682.7 L71 678.3 L73.2 678.3 L73.2 672.5 L75.4 672.5 L75.4 672.5 L76.8 672.5 L76.8 663.7 L79 663.7 L79 661.5 L80.5 661.5 L80.5 656.4 L82 656.4 L82 650.5 L82.7 650.5 L82.7 643.9 L84.1 643.9 L84.1 641.7 L84.9 641.7 L84.9 644.6 L87.1 644.6 L87.1 649 L88.5 649 L88.5 651.2 L90 651.2 L90 656.4 L92.2 656.4 L92.2 665.2 L94.4 665.2 L94.4 674 L96.6 674 L96.6 684.2 L98.1 684.2 L98.1 694.5 L99.5 694.5 L99.5 707.6 L101 707.6 L101 716.4 L102.5 716.4 L102.5 723.8 L103.5 723.8 L103.5 732" fill="none" stroke="#000" stroke-width="3.5" stroke-linejoin="miter" stroke-miterlimit="3"/>
<path d="M41.3 739.4 L43.5 739.3 L46.2 738.4 L49 738.7 L51 738.9 L54.1 739.3 L57.3 739 L59.9 738.6 L63.3 739.3 L65.5 739.3 L68 738.8 L72 738.4 L75.7 739.3 L79.3 738.6 L82.2 738.4 L85.4 739.3 L87.9 739.3 L91.1 738.8 L94.8 739.4 L96.8 738.4" fill="none" stroke="#000" stroke-width="2.6"/>
<line x1="40.7" y1="553.6" x2="237.6" y2="552" stroke-width="1.7"/>
<line x1="237.6" y1="551.2" x2="236.6" y2="741" stroke-width="1.7"/>
<line x1="39.3" y1="741" x2="237.4" y2="741" stroke-width="2.8"/>
<line x1="40.7" y1="552.8" x2="40.3" y2="742" stroke-width="4"/>
<line x1="40.8" y1="741" x2="40.8" y2="640" stroke-width="5"/>
<line x1="39.3" y1="740.8" x2="31.3" y2="740.8" stroke-width="1.6"/>
<line x1="39.3" y1="733.3" x2="34.3" y2="733.3" stroke-width="1.6"/>
<line x1="39.3" y1="725.8" x2="34.3" y2="725.8" stroke-width="1.6"/>
<line x1="39.3" y1="718.3" x2="34.3" y2="718.3" stroke-width="1.6"/>
<line x1="39.3" y1="710.8" x2="34.3" y2="710.8" stroke-width="1.6"/>
<line x1="39.3" y1="703.4" x2="31.3" y2="703.4" stroke-width="1.6"/>
<line x1="39.3" y1="695.9" x2="34.3" y2="695.9" stroke-width="1.6"/>
<line x1="39.3" y1="688.4" x2="34.3" y2="688.4" stroke-width="1.6"/>
<line x1="39.3" y1="680.9" x2="34.3" y2="680.9" stroke-width="1.6"/>
<line x1="39.3" y1="673.4" x2="34.3" y2="673.4" stroke-width="1.6"/>
<line x1="39.3" y1="665.9" x2="31.3" y2="665.9" stroke-width="1.6"/>
<line x1="39.3" y1="658.4" x2="34.3" y2="658.4" stroke-width="1.6"/>
<line x1="39.3" y1="650.9" x2="34.3" y2="650.9" stroke-width="1.6"/>
<line x1="39.3" y1="643.5" x2="34.3" y2="643.5" stroke-width="1.6"/>
<line x1="39.3" y1="636" x2="34.3" y2="636" stroke-width="1.6"/>
<line x1="39.3" y1="628.5" x2="31.3" y2="628.5" stroke-width="1.6"/>
<line x1="39.3" y1="621" x2="34.3" y2="621" stroke-width="1.6"/>
<line x1="39.3" y1="613.5" x2="34.3" y2="613.5" stroke-width="1.6"/>
<line x1="39.3" y1="606" x2="34.3" y2="606" stroke-width="1.6"/>
<line x1="39.3" y1="598.5" x2="34.3" y2="598.5" stroke-width="1.6"/>
<line x1="39.3" y1="591" x2="31.3" y2="591" stroke-width="1.6"/>
<line x1="39.3" y1="583.6" x2="34.3" y2="583.6" stroke-width="1.6"/>
<line x1="39.3" y1="576.1" x2="34.3" y2="576.1" stroke-width="1.6"/>
<line x1="39.3" y1="568.6" x2="34.3" y2="568.6" stroke-width="1.6"/>
<line x1="39.3" y1="561.1" x2="34.3" y2="561.1" stroke-width="1.6"/>
<line x1="39.3" y1="553.6" x2="31.3" y2="553.6" stroke-width="1.6"/>
<line x1="39.4" y1="741" x2="39.4" y2="749" stroke-width="1.6"/>
<line x1="54.1" y1="741" x2="54.1" y2="746.2" stroke-width="1.6"/>
<line x1="62.7" y1="741" x2="62.7" y2="746.2" stroke-width="1.6"/>
<line x1="68.8" y1="741" x2="68.8" y2="746.2" stroke-width="1.6"/>
<line x1="73.5" y1="741" x2="73.5" y2="746.2" stroke-width="1.6"/>
<line x1="77.4" y1="741" x2="77.4" y2="746.2" stroke-width="1.6"/>
<line x1="80.7" y1="741" x2="80.7" y2="746.2" stroke-width="1.6"/>
<line x1="83.5" y1="741" x2="83.5" y2="746.2" stroke-width="1.6"/>
<line x1="86" y1="741" x2="86" y2="746.2" stroke-width="1.6"/>
<line x1="88.2" y1="741" x2="88.2" y2="749" stroke-width="1.6"/>
<line x1="103" y1="741" x2="103" y2="746.2" stroke-width="1.6"/>
<line x1="111.6" y1="741" x2="111.6" y2="746.2" stroke-width="1.6"/>
<line x1="117.7" y1="741" x2="117.7" y2="746.2" stroke-width="1.6"/>
<line x1="122.4" y1="741" x2="122.4" y2="746.2" stroke-width="1.6"/>
<line x1="126.3" y1="741" x2="126.3" y2="746.2" stroke-width="1.6"/>
<line x1="129.5" y1="741" x2="129.5" y2="746.2" stroke-width="1.6"/>
<line x1="132.4" y1="741" x2="132.4" y2="746.2" stroke-width="1.6"/>
<line x1="134.9" y1="741" x2="134.9" y2="746.2" stroke-width="1.6"/>
<line x1="137.1" y1="741" x2="137.1" y2="749" stroke-width="1.6"/>
<line x1="151.8" y1="741" x2="151.8" y2="746.2" stroke-width="1.6"/>
<line x1="160.4" y1="741" x2="160.4" y2="746.2" stroke-width="1.6"/>
<line x1="166.5" y1="741" x2="166.5" y2="746.2" stroke-width="1.6"/>
<line x1="171.2" y1="741" x2="171.2" y2="746.2" stroke-width="1.6"/>
<line x1="175.1" y1="741" x2="175.1" y2="746.2" stroke-width="1.6"/>
<line x1="178.4" y1="741" x2="178.4" y2="746.2" stroke-width="1.6"/>
<line x1="181.2" y1="741" x2="181.2" y2="746.2" stroke-width="1.6"/>
<line x1="183.7" y1="741" x2="183.7" y2="746.2" stroke-width="1.6"/>
<line x1="186" y1="741" x2="186" y2="749" stroke-width="1.6"/>
<line x1="200.7" y1="741" x2="200.7" y2="746.2" stroke-width="1.6"/>
<line x1="209.3" y1="741" x2="209.3" y2="746.2" stroke-width="1.6"/>
<line x1="215.4" y1="741" x2="215.4" y2="746.2" stroke-width="1.6"/>
<line x1="220.1" y1="741" x2="220.1" y2="746.2" stroke-width="1.6"/>
<line x1="224" y1="741" x2="224" y2="746.2" stroke-width="1.6"/>
<line x1="227.2" y1="741" x2="227.2" y2="746.2" stroke-width="1.6"/>
<line x1="230.1" y1="741" x2="230.1" y2="746.2" stroke-width="1.6"/>
<line x1="232.6" y1="741" x2="232.6" y2="746.2" stroke-width="1.6"/>
<line x1="234.8" y1="741" x2="234.8" y2="749" stroke-width="1.6"/>
<text x="27.5" y="738.5" font-size="12.5" text-anchor="middle" transform="rotate(-90 27.5 738.5)">0</text>
<text x="27.5" y="701.1" font-size="12.5" text-anchor="middle" transform="rotate(-90 27.5 701.1)">30</text>
<text x="27.5" y="663.6" font-size="12.5" text-anchor="middle" transform="rotate(-90 27.5 663.6)">60</text>
<text x="27.5" y="626.2" font-size="12.5" text-anchor="middle" transform="rotate(-90 27.5 626.2)">90</text>
<text x="27.5" y="588.7" font-size="12.5" text-anchor="middle" transform="rotate(-90 27.5 588.7)">120</text>
<text x="27.5" y="551.3" font-size="12.5" text-anchor="middle" transform="rotate(-90 27.5 551.3)">150</text>
<text x="29.3" y="763.7" font-size="12">10</text>
<text x="43.1" y="756.9" font-size="11.5">0</text>
<text x="78.1" y="763.7" font-size="12">10</text>
<text x="92" y="756.9" font-size="11.5">1</text>
<text x="127" y="763.7" font-size="12">10</text>
<text x="140.8" y="756.9" font-size="11.5">2</text>
<text x="175.8" y="763.7" font-size="12">10</text>
<text x="189.7" y="756.9" font-size="11.5">3</text>
<text x="224.7" y="763.7" font-size="12">10</text>
<text x="238.5" y="756.9" font-size="11.5">4</text>
<text x="12.3" y="647.3" font-size="13" text-anchor="middle" transform="rotate(-90 12.3 647.3)">Counts</text>
<text x="136.2" y="776.6" font-size="13.4" text-anchor="middle" textLength="65.5" lengthAdjust="spacingAndGlyphs">FL1-Height</text>
<text x="164.5" y="597.3" font-size="17.6" textLength="28.5" lengthAdjust="spacing" style="stroke-width:0.45px">IgG</text>
<path d="M340 745 L345.2 741.6 L346.2 739.2 L347.2 738.5 L348.2 737 L349.4 735.2 L350.5 734 L352.8 735.5 L354.4 734.9 L355.9 734 L357.4 733 L358.9 730.9 L360.4 729.3 L362 727.9 L362.4 726.1 L362.8 723.4 L363.2 721.7 L363.8 719 L364.3 717.2 L366.6 715.6 L367.8 714.1 L368.9 712.6 L369.4 710.6 L369.9 708 L370.4 706.5 L370.7 705.1 L371 702.8 L371.3 700.7 L371.6 698.7 L371.9 697.3 L372.4 696.1 L372.8 694.3 L373.3 692.6 L373.7 689.5 L374.2 688.1 L375 687.7 L375.3 685.2 L375.6 684.4 L375.9 681.6 L376.2 681.3 L376.5 678.9 L376.9 677.4 L377.2 675 L377.5 673.3 L377.9 671.6 L378.1 670.3 L378.3 667.7 L378.5 666.4 L378.6 665.5 L378.8 663.7 L379 661.9 L379.2 659.3 L379.4 658.4 L380.1 655.7 L380.9 654 L383 652.6 L384.1 650.7 L385.2 649.6 L385.9 647.3 L386.7 646.9 L387.4 645.2 L388.9 643.8 L389.6 646.7 L391.8 648.2 L392.2 650.5 L392.6 652.6 L393 655.6 L393.3 657 L393.4 658.8 L393.6 661.2 L393.7 662.2 L393.9 664 L394 665.7 L396.2 664.3 L396.6 666.1 L397 668.7 L397.2 670.6 L397.5 673.4 L397.7 674.5 L397.9 676.3 L398 677.3 L398.2 679.7 L398.4 681.8 L398.7 683 L399 685.5 L399.3 687.1 L399.6 688.8 L399.9 690.6 L400.2 693.2 L400.6 694.7 L400.9 695.3 L401.3 697.9 L402.1 699.3 L402.8 702.3 L403.3 704.6 L403.8 706.4 L404.3 708.2 L405 710.4 L405.8 712.1 L406.5 714 L407.6 714.7 L408.7 717 L409.4 718.3 L410.2 720.5 L410.9 721.3 L411.6 723 L412.3 723.4 L413 725.7 L414.1 726.9 L415.2 729.4 L417.4 730.9 L418.9 732.3 L420.4 732.3 L421.5 734.2 L422.6 736 L425.5 736 L427.3 735 L429.1 735.2 L430.6 736.7 L432.1 737.4 L433.6 738.9 L435 738.9 L436.7 740.1 L438.3 740.2 L440 741 L441.7 740.2 L443.3 741.4 L445 742 L446.7 742.7 L448.3 741.9 L450 741.7 L451.7 743.1 L453.3 742.9 L455 741.7 L456.7 741.9 L458.3 742.9 L460 743.7 L461.7 743.2 L463.3 743.8 L465 743.2 L465 744.2 L468.2 744.4 L471.3 743.3 L473.9 743.7 L475.5 743.7 L478.2 743.5 L480.7 744.4 L482.7 743.7 L484.3 744.4 L486.3 743.5 L488.9 744 L492.3 743.7 L494.3 743.8 L497.5 744 L499.9 743.7 L503.4 743.7 L505.2 743.7 L507.4 743.9 L509.6 744.2 L509.6 745 Z" fill="#000"/>
<path d="M314.6 734 L316.9 734 L316.9 727.9 L318.8 727.9 L318.8 724.9 L320.7 724.9 L320.7 723.3 L323.8 723.3 L323.8 726.3 L326 726.3 L326 726.3 L326.8 726.3 L326.8 712.6 L328.7 712.6 L328.7 712.3 L330.6 712.3 L330.6 711.8 L332.6 711.8 L332.6 710.1 L334.5 710.1 L334.5 709.5 L337.5 709.5 L337.5 703.4 L338.3 703.4 L338.3 694.2 L339.8 694.2 L339.8 686.6 L342.1 686.6 L342.1 685 L344.4 685 L344.4 677.4 L345.9 677.4 L345.9 675.1 L348.2 675.1 L348.2 672.8 L349 672.8 L349 666.7 L350.5 666.7 L350.5 665.9 L352 665.9 L352 660.6 L353.6 660.6 L353.6 652.9 L354.3 652.9 L354.3 646.8 L355.9 646.8 L355.9 645.3 L356.6 645.3 L356.6 651.4 L358.9 651.4 L358.9 652.9 L360.5 652.9 L360.5 657.5 L362 657.5 L362 663.6 L364.3 663.6 L364.3 672.8 L366.6 672.8 L366.6 682 L368.1 682 L368.1 689.6 L369.6 689.6 L369.6 697.3 L371.2 697.3 L371.2 701.9 L372.5 701.9 L372.5 708" fill="none" stroke="#000" stroke-width="3.5" stroke-linejoin="miter" stroke-miterlimit="3"/>
<path d="M314 743.1 L316.3 742.9 L318.4 742.7 L321.7 742.5 L325.2 743.3 L329 742.9 L332.8 742.9 L335 742.7 L337.3 742.4 L340.4 742.5" fill="none" stroke="#000" stroke-width="2.6"/>
<line x1="313" y1="556.3" x2="511.2" y2="555.5" stroke-width="1.7"/>
<line x1="511.2" y1="554.7" x2="509.6" y2="745" stroke-width="1.7"/>
<line x1="312" y1="745" x2="510.4" y2="745" stroke-width="2.8"/>
<line x1="313" y1="555.5" x2="313" y2="746" stroke-width="4"/>
<line x1="313.5" y1="745" x2="313.5" y2="642" stroke-width="5"/>
<line x1="312" y1="745" x2="304" y2="745" stroke-width="1.6"/>
<line x1="312" y1="737.5" x2="307" y2="737.5" stroke-width="1.6"/>
<line x1="312" y1="729.9" x2="307" y2="729.9" stroke-width="1.6"/>
<line x1="312" y1="722.4" x2="307" y2="722.4" stroke-width="1.6"/>
<line x1="312" y1="714.9" x2="307" y2="714.9" stroke-width="1.6"/>
<line x1="312" y1="707.3" x2="304" y2="707.3" stroke-width="1.6"/>
<line x1="312" y1="699.8" x2="307" y2="699.8" stroke-width="1.6"/>
<line x1="312" y1="692.2" x2="307" y2="692.2" stroke-width="1.6"/>
<line x1="312" y1="684.7" x2="307" y2="684.7" stroke-width="1.6"/>
<line x1="312" y1="677.2" x2="307" y2="677.2" stroke-width="1.6"/>
<line x1="312" y1="669.6" x2="304" y2="669.6" stroke-width="1.6"/>
<line x1="312" y1="662.1" x2="307" y2="662.1" stroke-width="1.6"/>
<line x1="312" y1="654.6" x2="307" y2="654.6" stroke-width="1.6"/>
<line x1="312" y1="647" x2="307" y2="647" stroke-width="1.6"/>
<line x1="312" y1="639.5" x2="307" y2="639.5" stroke-width="1.6"/>
<line x1="312" y1="632" x2="304" y2="632" stroke-width="1.6"/>
<line x1="312" y1="624.4" x2="307" y2="624.4" stroke-width="1.6"/>
<line x1="312" y1="616.9" x2="307" y2="616.9" stroke-width="1.6"/>
<line x1="312" y1="609.4" x2="307" y2="609.4" stroke-width="1.6"/>
<line x1="312" y1="601.8" x2="307" y2="601.8" stroke-width="1.6"/>
<line x1="312" y1="594.3" x2="304" y2="594.3" stroke-width="1.6"/>
<line x1="312" y1="586.7" x2="307" y2="586.7" stroke-width="1.6"/>
<line x1="312" y1="579.2" x2="307" y2="579.2" stroke-width="1.6"/>
<line x1="312" y1="571.7" x2="307" y2="571.7" stroke-width="1.6"/>
<line x1="312" y1="564.1" x2="307" y2="564.1" stroke-width="1.6"/>
<line x1="312" y1="556.6" x2="304" y2="556.6" stroke-width="1.6"/>
<line x1="311.5" y1="745" x2="311.5" y2="753" stroke-width="1.6"/>
<line x1="326.3" y1="745" x2="326.3" y2="750.2" stroke-width="1.6"/>
<line x1="334.9" y1="745" x2="334.9" y2="750.2" stroke-width="1.6"/>
<line x1="341.1" y1="745" x2="341.1" y2="750.2" stroke-width="1.6"/>
<line x1="345.8" y1="745" x2="345.8" y2="750.2" stroke-width="1.6"/>
<line x1="349.7" y1="745" x2="349.7" y2="750.2" stroke-width="1.6"/>
<line x1="353" y1="745" x2="353" y2="750.2" stroke-width="1.6"/>
<line x1="355.9" y1="745" x2="355.9" y2="750.2" stroke-width="1.6"/>
<line x1="358.4" y1="745" x2="358.4" y2="750.2" stroke-width="1.6"/>
<line x1="360.6" y1="745" x2="360.6" y2="753" stroke-width="1.6"/>
<line x1="375.4" y1="745" x2="375.4" y2="750.2" stroke-width="1.6"/>
<line x1="384.1" y1="745" x2="384.1" y2="750.2" stroke-width="1.6"/>
<line x1="390.2" y1="745" x2="390.2" y2="750.2" stroke-width="1.6"/>
<line x1="395" y1="745" x2="395" y2="750.2" stroke-width="1.6"/>
<line x1="398.9" y1="745" x2="398.9" y2="750.2" stroke-width="1.6"/>
<line x1="402.1" y1="745" x2="402.1" y2="750.2" stroke-width="1.6"/>
<line x1="405" y1="745" x2="405" y2="750.2" stroke-width="1.6"/>
<line x1="407.5" y1="745" x2="407.5" y2="750.2" stroke-width="1.6"/>
<line x1="409.8" y1="745" x2="409.8" y2="753" stroke-width="1.6"/>
<line x1="424.5" y1="745" x2="424.5" y2="750.2" stroke-width="1.6"/>
<line x1="433.2" y1="745" x2="433.2" y2="750.2" stroke-width="1.6"/>
<line x1="439.3" y1="745" x2="439.3" y2="750.2" stroke-width="1.6"/>
<line x1="444.1" y1="745" x2="444.1" y2="750.2" stroke-width="1.6"/>
<line x1="448" y1="745" x2="448" y2="750.2" stroke-width="1.6"/>
<line x1="451.3" y1="745" x2="451.3" y2="750.2" stroke-width="1.6"/>
<line x1="454.1" y1="745" x2="454.1" y2="750.2" stroke-width="1.6"/>
<line x1="456.6" y1="745" x2="456.6" y2="750.2" stroke-width="1.6"/>
<line x1="458.9" y1="745" x2="458.9" y2="753" stroke-width="1.6"/>
<line x1="473.7" y1="745" x2="473.7" y2="750.2" stroke-width="1.6"/>
<line x1="482.3" y1="745" x2="482.3" y2="750.2" stroke-width="1.6"/>
<line x1="488.5" y1="745" x2="488.5" y2="750.2" stroke-width="1.6"/>
<line x1="493.2" y1="745" x2="493.2" y2="750.2" stroke-width="1.6"/>
<line x1="497.1" y1="745" x2="497.1" y2="750.2" stroke-width="1.6"/>
<line x1="500.4" y1="745" x2="500.4" y2="750.2" stroke-width="1.6"/>
<line x1="503.2" y1="745" x2="503.2" y2="750.2" stroke-width="1.6"/>
<line x1="505.8" y1="745" x2="505.8" y2="750.2" stroke-width="1.6"/>
<line x1="508" y1="745" x2="508" y2="753" stroke-width="1.6"/>
<text x="298.8" y="742.7" font-size="12.5" text-anchor="middle" transform="rotate(-90 298.8 742.7)">0</text>
<text x="298.8" y="705" font-size="12.5" text-anchor="middle" transform="rotate(-90 298.8 705)">30</text>
<text x="298.8" y="667.3" font-size="12.5" text-anchor="middle" transform="rotate(-90 298.8 667.3)">60</text>
<text x="298.8" y="629.7" font-size="12.5" text-anchor="middle" transform="rotate(-90 298.8 629.7)">90</text>
<text x="298.8" y="592" font-size="12.5" text-anchor="middle" transform="rotate(-90 298.8 592)">120</text>
<text x="298.8" y="554.3" font-size="12.5" text-anchor="middle" transform="rotate(-90 298.8 554.3)">150</text>
<text x="301.4" y="767.7" font-size="12">10</text>
<text x="315.2" y="760.9" font-size="11.5">0</text>
<text x="350.5" y="767.7" font-size="12">10</text>
<text x="364.3" y="760.9" font-size="11.5">1</text>
<text x="399.6" y="767.7" font-size="12">10</text>
<text x="413.5" y="760.9" font-size="11.5">2</text>
<text x="448.8" y="767.7" font-size="12">10</text>
<text x="462.6" y="760.9" font-size="11.5">3</text>
<text x="497.9" y="767.7" font-size="12">10</text>
<text x="511.7" y="760.9" font-size="11.5">4</text>
<text x="283.6" y="650.6" font-size="13" text-anchor="middle" transform="rotate(-90 283.6 650.6)">Counts</text>
<text x="409.1" y="780.6" font-size="13.4" text-anchor="middle" textLength="65.5" lengthAdjust="spacingAndGlyphs">FL1-Height</text>
<text x="391.5" y="595.5" font-size="17.6" textLength="30.5" lengthAdjust="spacing" style="stroke-width:0.45px">IgM</text>
</g></svg></body></html>
